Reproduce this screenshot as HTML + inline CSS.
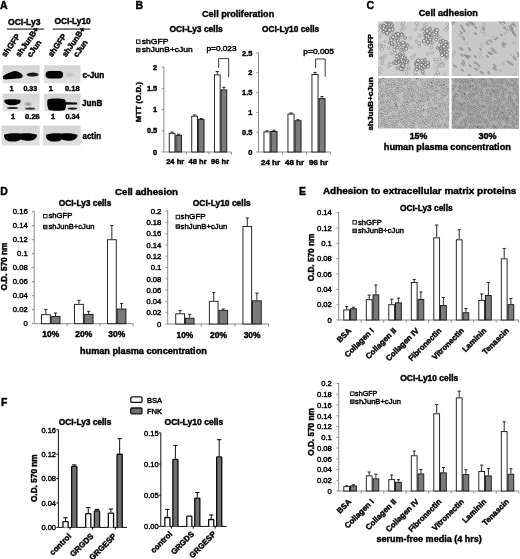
<!DOCTYPE html>
<html><head><meta charset="utf-8"><style>
html,body{margin:0;padding:0;background:#fff;}
svg{display:block;font-family:"Liberation Sans", sans-serif;filter:grayscale(1) blur(0.25px);}
text{stroke:#000;stroke-width:0.42px;}
</style></head><body>
<svg width="520" height="559" viewBox="0 0 520 559">
<rect width="520" height="559" fill="#fff"/>
<text x="0" y="9" font-size="10.5" font-weight="bold" text-anchor="start" fill="#000">A</text>
<text x="135.5" y="9" font-size="10.5" font-weight="bold" text-anchor="start" fill="#000">B</text>
<text x="366.5" y="8.7" font-size="10.5" font-weight="bold" text-anchor="start" fill="#000">C</text>
<text x="0.3" y="195" font-size="10.5" font-weight="bold" text-anchor="start" fill="#000">D</text>
<text x="299" y="195.2" font-size="10.5" font-weight="bold" text-anchor="start" fill="#000">E</text>
<text x="1" y="405.6" font-size="10.5" font-weight="bold" text-anchor="start" fill="#000">F</text>
<text x="8" y="24.5" font-size="8.3" font-weight="bold" text-anchor="start" fill="#000" textLength="32.4" lengthAdjust="spacingAndGlyphs">OCI-Ly3</text>
<text x="54.4" y="24.0" font-size="8.3" font-weight="bold" text-anchor="start" fill="#000" textLength="36.3" lengthAdjust="spacingAndGlyphs">OCI-Ly10</text>
<line x1="7" y1="29.1" x2="44" y2="29.1" stroke="#6e6e6e" stroke-width="1.7"/>
<line x1="52.7" y1="29.1" x2="90.2" y2="29.1" stroke="#6e6e6e" stroke-width="1.7"/>
<text transform="translate(5.6 57.6) rotate(-55)" font-size="8.1" font-weight="bold" text-anchor="start" fill="#000">shGFP</text>
<text transform="translate(19.6 57.6) rotate(-55)" font-size="8.1" font-weight="bold" text-anchor="start" fill="#000">shJunB+</text>
<text transform="translate(31.0 57.8) rotate(-55)" font-size="8.1" font-weight="bold" text-anchor="start" fill="#000">cJun</text>
<text transform="translate(51.9 57.6) rotate(-55)" font-size="8.1" font-weight="bold" text-anchor="start" fill="#000">shGFP</text>
<text transform="translate(65.9 57.6) rotate(-55)" font-size="8.1" font-weight="bold" text-anchor="start" fill="#000">shJunB+</text>
<text transform="translate(77.3 57.8) rotate(-55)" font-size="8.1" font-weight="bold" text-anchor="start" fill="#000">cJun</text>
<defs><filter id="bl" x="-30%" y="-60%" width="160%" height="220%"><feGaussianBlur stdDeviation="0.7"/></filter><filter id="bl2" x="-30%" y="-60%" width="160%" height="220%"><feGaussianBlur stdDeviation="1.1"/></filter><filter id="bl3" x="-10%" y="-10%" width="120%" height="120%"><feGaussianBlur stdDeviation="0.5"/></filter></defs>
<defs><linearGradient id="bg" x1="0" y1="0" x2="0" y2="1"><stop offset="0" stop-color="#d4d4d4"/><stop offset="1" stop-color="#e0e0e0"/></linearGradient></defs>
<rect x="2.6" y="65.3" width="37.0" height="18" fill="url(#bg)" stroke="none" stroke-width="1" filter="url(#bl3)"/>
<rect x="2.6" y="93.7" width="37.0" height="17.6" fill="url(#bg)" stroke="none" stroke-width="1" filter="url(#bl3)"/>
<rect x="1.6" y="125.6" width="38.0" height="20" fill="url(#bg)" stroke="none" stroke-width="1" filter="url(#bl3)"/>
<rect x="44.2" y="65.3" width="36.39999999999999" height="18" fill="url(#bg)" stroke="none" stroke-width="1" filter="url(#bl3)"/>
<rect x="44.2" y="93.7" width="36.39999999999999" height="17.6" fill="url(#bg)" stroke="none" stroke-width="1" filter="url(#bl3)"/>
<rect x="43.2" y="125.6" width="37.39999999999999" height="20" fill="url(#bg)" stroke="none" stroke-width="1" filter="url(#bl3)"/>
<path d="M2.8 77.8 C2.8 75.8 5 74.5 8 73.3 C11 72 13 71 15 71 C17 71 19 72 21.2 73.6 L22.7 75.3 C23 77.6 21 78.3 18 78.6 L8 79.3 C4.5 79.6 2.8 79.2 2.8 77.8Z" fill="#060606" filter="url(#bl)"/>
<path d="M26.4 74.8 C27.5 73 31 72.4 33 72.5 C36 72.6 38.5 73.6 38.6 74.6 C38.5 75.8 36 76.5 33 76.6 C30 76.6 27 76.2 26.4 74.8Z" fill="#141414" filter="url(#bl)"/>
<rect x="45.6" y="71" width="17.6" height="7.5" rx="4.2" ry="3.75" fill="#060606" filter="url(#bl)"/>
<ellipse cx="69.5" cy="74.8" rx="4.5" ry="1.3" fill="#b4b4b4" filter="url(#bl2)"/>
<path d="M4.2 100.4 C5.5 99 18 99 20.8 100.4 C21 103.5 17 105.2 12 105.2 C7.5 105.2 4.5 103.5 4.2 100.4Z" fill="#060606" filter="url(#bl)"/>
<ellipse cx="12.6" cy="108" rx="5.6" ry="1.1" fill="#222" filter="url(#bl)"/>
<ellipse cx="28" cy="104" rx="3" ry="0.9" fill="#5a5a5a" filter="url(#bl2)"/>
<ellipse cx="30.2" cy="108.6" rx="5.2" ry="1.2" fill="#383838" filter="url(#bl)"/>
<path d="M47.5 100 C49 98.2 62 98.2 64.8 99.6 C66.5 102 66.3 108.5 64.5 110.2 C60 111 52 111 48.8 110 C47 107 47 103 47.5 100Z" fill="#050505" filter="url(#bl)"/>
<path d="M64 102 L77 102.4 L77.2 104.4 L64 104.8Z" fill="#111" filter="url(#bl)"/>
<ellipse cx="72.5" cy="108.6" rx="4.8" ry="1.1" fill="#181818" filter="url(#bl)"/>
<path d="M4 135 C6 133 17.5 133 20.5 133.6 C23.5 133 35 133 37 135 C37 139 33 140.5 28.75 140.8 C22.5 140.8 20.5 139.5 20.5 139 C20.5 140.5 17.5 141.6 12.25 141.6 C7 141.4 4 140 4 135Z" fill="#050505" filter="url(#bl)"/>
<path d="M46 135 C48 133 58.75 133 61.75 133.6 C64.75 133 75.5 133 77.5 135 C77.5 139 73.5 140.5 69.625 140.8 C63.75 140.8 61.75 139.5 61.75 139 C61.75 140.5 58.75 141.6 53.875 141.6 C49 141.4 46 140 46 135Z" fill="#050505" filter="url(#bl)"/>
<text x="82.4" y="78" font-size="8.6" font-weight="bold" text-anchor="start" fill="#000" textLength="22" lengthAdjust="spacingAndGlyphs">c-Jun</text>
<text x="82" y="105.8" font-size="8.6" font-weight="bold" text-anchor="start" fill="#000" textLength="20.3" lengthAdjust="spacingAndGlyphs">JunB</text>
<text x="82.5" y="138.8" font-size="8.6" font-weight="bold" text-anchor="start" fill="#000" textLength="18.5" lengthAdjust="spacingAndGlyphs">actin</text>
<text x="13.5" y="91.1" font-size="7.4" font-weight="bold" text-anchor="end" fill="#000">1</text>
<text x="23.4" y="91.1" font-size="7.4" font-weight="bold" text-anchor="start" fill="#000" textLength="13.8" lengthAdjust="spacingAndGlyphs">0.33</text>
<text x="52.8" y="91.1" font-size="7.4" font-weight="bold" text-anchor="end" fill="#000">1</text>
<text x="64.9" y="91.1" font-size="7.4" font-weight="bold" text-anchor="start" fill="#000" textLength="14.7" lengthAdjust="spacingAndGlyphs">0.18</text>
<text x="15.2" y="118.8" font-size="7.4" font-weight="bold" text-anchor="end" fill="#000">1</text>
<text x="25.1" y="118.8" font-size="7.4" font-weight="bold" text-anchor="start" fill="#000" textLength="14.7" lengthAdjust="spacingAndGlyphs">0.26</text>
<text x="55" y="118.8" font-size="7.4" font-weight="bold" text-anchor="end" fill="#000">1</text>
<text x="65.4" y="118.8" font-size="7.4" font-weight="bold" text-anchor="start" fill="#000" textLength="14.2" lengthAdjust="spacingAndGlyphs">0.34</text>
<text x="202" y="17.3" font-size="9.1" font-weight="bold" text-anchor="start" fill="#000" textLength="72.2" lengthAdjust="spacingAndGlyphs">Cell proliferation</text>
<text x="169.5" y="31.6" font-size="8.3" font-weight="bold" text-anchor="start" fill="#000" textLength="53.2" lengthAdjust="spacingAndGlyphs">OCI-Ly3 cells</text>
<text x="262" y="31.5" font-size="8.3" font-weight="bold" text-anchor="start" fill="#000" textLength="57.2" lengthAdjust="spacingAndGlyphs">OCI-Ly10 cells</text>
<rect x="136.5" y="39.9" width="3.5" height="3.5" fill="#fff" stroke="#1a1a1a" stroke-width="1.0"/>
<rect x="136.5" y="48.3" width="3.5" height="3.5" fill="#7a7a7a" stroke="#1a1a1a" stroke-width="1.0"/>
<text x="141.8" y="43.9" font-size="7.9" font-weight="normal" text-anchor="start" fill="#000" textLength="26.7" lengthAdjust="spacingAndGlyphs">shGFP</text>
<text x="141.8" y="52.3" font-size="7.9" font-weight="normal" text-anchor="start" fill="#000" textLength="50.8" lengthAdjust="spacingAndGlyphs">shJunB+cJun</text>
<text transform="translate(140.9 102.1) rotate(-90)" font-size="8" font-weight="bold" text-anchor="middle" fill="#000" textLength="40.2" lengthAdjust="spacingAndGlyphs">MTT (O.D.)</text>
<line x1="163.9" y1="66.7" x2="163.9" y2="152" stroke="#8a8a8a" stroke-width="1"/>
<line x1="161.70000000000002" y1="152.0" x2="163.9" y2="152.0" stroke="#8a8a8a" stroke-width="1"/>
<text x="157.2" y="154.66" font-size="7.4" font-weight="bold" text-anchor="end" fill="#000">0</text>
<line x1="161.70000000000002" y1="130.8" x2="163.9" y2="130.8" stroke="#8a8a8a" stroke-width="1"/>
<text x="157.2" y="133.46" font-size="7.4" font-weight="bold" text-anchor="end" fill="#000">0.5</text>
<line x1="161.70000000000002" y1="109.6" x2="163.9" y2="109.6" stroke="#8a8a8a" stroke-width="1"/>
<text x="157.2" y="112.26" font-size="7.4" font-weight="bold" text-anchor="end" fill="#000">1</text>
<line x1="161.70000000000002" y1="88.4" x2="163.9" y2="88.4" stroke="#8a8a8a" stroke-width="1"/>
<text x="157.2" y="91.06" font-size="7.4" font-weight="bold" text-anchor="end" fill="#000">1.5</text>
<line x1="161.70000000000002" y1="67.2" x2="163.9" y2="67.2" stroke="#8a8a8a" stroke-width="1"/>
<text x="157.2" y="69.86" font-size="7.4" font-weight="bold" text-anchor="end" fill="#000">2</text>
<line x1="163.9" y1="152" x2="231.3" y2="152" stroke="#8a8a8a" stroke-width="1"/>
<line x1="186.4" y1="152" x2="186.4" y2="154.5" stroke="#8a8a8a" stroke-width="1"/>
<line x1="208.9" y1="152" x2="208.9" y2="154.5" stroke="#8a8a8a" stroke-width="1"/>
<line x1="231.4" y1="152" x2="231.4" y2="154.5" stroke="#8a8a8a" stroke-width="1"/>
<line x1="172.10000000000002" y1="132.92000000000002" x2="172.10000000000002" y2="132.072" stroke="#111" stroke-width="0.9"/>
<line x1="170.50000000000003" y1="132.072" x2="173.70000000000002" y2="132.072" stroke="#111" stroke-width="0.9"/>
<rect x="169.25" y="133.37" width="5.7" height="18.63" fill="#fff" stroke="#111" stroke-width="0.9"/>
<line x1="178.7" y1="134.828" x2="178.7" y2="134.192" stroke="#111" stroke-width="0.9"/>
<line x1="177.1" y1="134.192" x2="180.29999999999998" y2="134.192" stroke="#111" stroke-width="0.9"/>
<rect x="175.85" y="135.28" width="5.7" height="16.72" fill="#7a7a7a" stroke="#111" stroke-width="0.9"/>
<line x1="194.60000000000002" y1="115.748" x2="194.60000000000002" y2="114.9" stroke="#111" stroke-width="0.9"/>
<line x1="193.00000000000003" y1="114.9" x2="196.20000000000002" y2="114.9" stroke="#111" stroke-width="0.9"/>
<rect x="191.75" y="116.2" width="5.7" height="35.8" fill="#fff" stroke="#111" stroke-width="0.9"/>
<line x1="201.2" y1="119.14" x2="201.2" y2="118.50399999999999" stroke="#111" stroke-width="0.9"/>
<line x1="199.6" y1="118.50399999999999" x2="202.79999999999998" y2="118.50399999999999" stroke="#111" stroke-width="0.9"/>
<rect x="198.35" y="119.59" width="5.7" height="32.41" fill="#7a7a7a" stroke="#111" stroke-width="0.9"/>
<line x1="217.3" y1="74.408" x2="217.3" y2="71.44000000000001" stroke="#111" stroke-width="0.9"/>
<line x1="215.70000000000002" y1="71.44000000000001" x2="218.9" y2="71.44000000000001" stroke="#111" stroke-width="0.9"/>
<rect x="214.45" y="74.86" width="5.7" height="77.14" fill="#fff" stroke="#111" stroke-width="0.9"/>
<line x1="223.89999999999998" y1="89.46000000000001" x2="223.89999999999998" y2="87.34" stroke="#111" stroke-width="0.9"/>
<line x1="222.29999999999998" y1="87.34" x2="225.49999999999997" y2="87.34" stroke="#111" stroke-width="0.9"/>
<rect x="221.05" y="89.91" width="5.7" height="62.09" fill="#7a7a7a" stroke="#111" stroke-width="0.9"/>
<text x="175.2" y="163.8" font-size="7.6" font-weight="bold" text-anchor="middle" fill="#000" textLength="18" lengthAdjust="spacingAndGlyphs">24 hr</text>
<text x="197.6" y="163.8" font-size="7.6" font-weight="bold" text-anchor="middle" fill="#000" textLength="18" lengthAdjust="spacingAndGlyphs">48 hr</text>
<text x="220.1" y="163.8" font-size="7.6" font-weight="bold" text-anchor="middle" fill="#000" textLength="18" lengthAdjust="spacingAndGlyphs">96 hr</text>
<text x="206.5" y="51.2" font-size="7.6" font-weight="normal" text-anchor="start" fill="#000" textLength="30" lengthAdjust="spacingAndGlyphs">p=0.023</text>
<path d="M218.6 67.9 V58.6 H228.7 V77.1" fill="none" stroke="#222" stroke-width="0.9"/>
<line x1="258.5" y1="52.5" x2="258.5" y2="152" stroke="#8a8a8a" stroke-width="1"/>
<line x1="256.3" y1="152.0" x2="258.5" y2="152.0" stroke="#8a8a8a" stroke-width="1"/>
<text x="252.4" y="154.66" font-size="7.4" font-weight="bold" text-anchor="end" fill="#000">0</text>
<line x1="256.3" y1="132.2" x2="258.5" y2="132.2" stroke="#8a8a8a" stroke-width="1"/>
<text x="252.4" y="134.86" font-size="7.4" font-weight="bold" text-anchor="end" fill="#000">0.5</text>
<line x1="256.3" y1="112.4" x2="258.5" y2="112.4" stroke="#8a8a8a" stroke-width="1"/>
<text x="252.4" y="115.06" font-size="7.4" font-weight="bold" text-anchor="end" fill="#000">1</text>
<line x1="256.3" y1="92.6" x2="258.5" y2="92.6" stroke="#8a8a8a" stroke-width="1"/>
<text x="252.4" y="95.26" font-size="7.4" font-weight="bold" text-anchor="end" fill="#000">1.5</text>
<line x1="256.3" y1="72.8" x2="258.5" y2="72.8" stroke="#8a8a8a" stroke-width="1"/>
<text x="252.4" y="75.46" font-size="7.4" font-weight="bold" text-anchor="end" fill="#000">2</text>
<line x1="256.3" y1="53.0" x2="258.5" y2="53.0" stroke="#8a8a8a" stroke-width="1"/>
<text x="252.4" y="55.66" font-size="7.4" font-weight="bold" text-anchor="end" fill="#000">2.5</text>
<line x1="258.5" y1="152" x2="330.5" y2="152" stroke="#8a8a8a" stroke-width="1"/>
<line x1="282.5" y1="152" x2="282.5" y2="154.5" stroke="#8a8a8a" stroke-width="1"/>
<line x1="306.5" y1="152" x2="306.5" y2="154.5" stroke="#8a8a8a" stroke-width="1"/>
<line x1="330.5" y1="152" x2="330.5" y2="154.5" stroke="#8a8a8a" stroke-width="1"/>
<line x1="267.0" y1="131.408" x2="267.0" y2="130.814" stroke="#111" stroke-width="0.9"/>
<line x1="265.4" y1="130.814" x2="268.6" y2="130.814" stroke="#111" stroke-width="0.9"/>
<rect x="263.95" y="131.86" width="6.1" height="20.14" fill="#fff" stroke="#111" stroke-width="0.9"/>
<line x1="274.0" y1="131.012" x2="274.0" y2="130.22" stroke="#111" stroke-width="0.9"/>
<line x1="272.4" y1="130.22" x2="275.6" y2="130.22" stroke="#111" stroke-width="0.9"/>
<rect x="270.95" y="131.46" width="6.1" height="20.54" fill="#7a7a7a" stroke="#111" stroke-width="0.9"/>
<line x1="291.0" y1="113.588" x2="291.0" y2="112.994" stroke="#111" stroke-width="0.9"/>
<line x1="289.4" y1="112.994" x2="292.6" y2="112.994" stroke="#111" stroke-width="0.9"/>
<rect x="287.95" y="114.04" width="6.1" height="37.96" fill="#fff" stroke="#111" stroke-width="0.9"/>
<line x1="298.0" y1="120.32" x2="298.0" y2="119.726" stroke="#111" stroke-width="0.9"/>
<line x1="296.4" y1="119.726" x2="299.6" y2="119.726" stroke="#111" stroke-width="0.9"/>
<rect x="294.95" y="120.77" width="6.1" height="31.23" fill="#7a7a7a" stroke="#111" stroke-width="0.9"/>
<line x1="315.0" y1="73.988" x2="315.0" y2="72.40400000000001" stroke="#111" stroke-width="0.9"/>
<line x1="313.4" y1="72.40400000000001" x2="316.6" y2="72.40400000000001" stroke="#111" stroke-width="0.9"/>
<rect x="311.95" y="74.44" width="6.1" height="77.56" fill="#fff" stroke="#111" stroke-width="0.9"/>
<line x1="322.0" y1="98.14399999999999" x2="322.0" y2="96.56" stroke="#111" stroke-width="0.9"/>
<line x1="320.4" y1="96.56" x2="323.6" y2="96.56" stroke="#111" stroke-width="0.9"/>
<rect x="318.95" y="98.59" width="6.1" height="53.41" fill="#7a7a7a" stroke="#111" stroke-width="0.9"/>
<text x="270.5" y="164.6" font-size="7.6" font-weight="bold" text-anchor="middle" fill="#000" textLength="19" lengthAdjust="spacingAndGlyphs">24 hr</text>
<text x="294.5" y="164.6" font-size="7.6" font-weight="bold" text-anchor="middle" fill="#000" textLength="19" lengthAdjust="spacingAndGlyphs">48 hr</text>
<text x="318.5" y="164.6" font-size="7.6" font-weight="bold" text-anchor="middle" fill="#000" textLength="19" lengthAdjust="spacingAndGlyphs">96 hr</text>
<text x="303.3" y="54.3" font-size="7.6" font-weight="normal" text-anchor="start" fill="#000" textLength="30.7" lengthAdjust="spacingAndGlyphs">p=0.005</text>
<path d="M315.6 67.9 V59 H325.2 V76.8" fill="none" stroke="#222" stroke-width="0.9"/>
<text x="418.8" y="16.2" font-size="9.1" font-weight="bold" text-anchor="start" fill="#000" textLength="59.1" lengthAdjust="spacingAndGlyphs">Cell adhesion</text>
<text transform="translate(373.4 45.8) rotate(-90)" font-size="8" font-weight="bold" text-anchor="middle" fill="#000" textLength="23.5" lengthAdjust="spacingAndGlyphs">shGFP</text>
<text transform="translate(373.2 103.9) rotate(-90)" font-size="8" font-weight="bold" text-anchor="middle" fill="#000" textLength="53" lengthAdjust="spacingAndGlyphs">shJunB+cJun</text>
<text x="418.5" y="139.2" font-size="8.8" font-weight="bold" text-anchor="middle" fill="#000" textLength="17.7" lengthAdjust="spacingAndGlyphs">15%</text>
<text x="487.6" y="139.2" font-size="8.8" font-weight="bold" text-anchor="middle" fill="#000" textLength="18.1" lengthAdjust="spacingAndGlyphs">30%</text>
<text x="383.8" y="150.2" font-size="9.1" font-weight="bold" text-anchor="start" fill="#000" textLength="127" lengthAdjust="spacingAndGlyphs">human plasma concentration</text>
<defs><filter id="mb" x="0" y="0" width="100%" height="100%"><feGaussianBlur stdDeviation="0.35"/></filter></defs>
<g><rect x="378" y="21.5" width="71.19999999999999" height="54.5" fill="#cfcfcf"/>
<clipPath id="c37821120"><rect x="378" y="21.5" width="71.19999999999999" height="54.5"/></clipPath><g clip-path="url(#c37821120)"><g filter="url(#mb)">
<circle cx="401.1" cy="29.7" r="1.2" fill="#d8d8d8" stroke="#868686" stroke-width="0.55"/>
<circle cx="424.3" cy="25.4" r="1.3" fill="#d8d8d8" stroke="#868686" stroke-width="0.55"/>
<circle cx="416.2" cy="41.4" r="1.2" fill="#d8d8d8" stroke="#868686" stroke-width="0.55"/>
<circle cx="382.1" cy="49.2" r="1.6" fill="#d8d8d8" stroke="#868686" stroke-width="0.55"/>
<circle cx="380.7" cy="45.1" r="1.3" fill="#d8d8d8" stroke="#868686" stroke-width="0.55"/>
<circle cx="383.0" cy="26.4" r="1.3" fill="#d8d8d8" stroke="#868686" stroke-width="0.55"/>
<circle cx="408.2" cy="66.6" r="1.4" fill="#d8d8d8" stroke="#868686" stroke-width="0.55"/>
<circle cx="386.8" cy="33.7" r="1.6" fill="#d8d8d8" stroke="#868686" stroke-width="0.55"/>
<circle cx="422.7" cy="73.2" r="1.3" fill="#d8d8d8" stroke="#868686" stroke-width="0.55"/>
<circle cx="419.1" cy="43.1" r="1.6" fill="#d8d8d8" stroke="#868686" stroke-width="0.55"/>
<circle cx="447.5" cy="24.0" r="1.4" fill="#d8d8d8" stroke="#868686" stroke-width="0.55"/>
<circle cx="439.1" cy="37.3" r="1.4" fill="#d8d8d8" stroke="#868686" stroke-width="0.55"/>
<circle cx="388.3" cy="27.9" r="1.4" fill="#d8d8d8" stroke="#868686" stroke-width="0.55"/>
<circle cx="400.0" cy="66.0" r="1.1" fill="#d8d8d8" stroke="#868686" stroke-width="0.55"/>
<circle cx="390.9" cy="53.2" r="1.3" fill="#d8d8d8" stroke="#868686" stroke-width="0.55"/>
<circle cx="423.5" cy="41.8" r="1.2" fill="#d8d8d8" stroke="#868686" stroke-width="0.55"/>
<circle cx="417.0" cy="24.9" r="1.1" fill="#d8d8d8" stroke="#868686" stroke-width="0.55"/>
<circle cx="382.2" cy="32.7" r="1.5" fill="#d8d8d8" stroke="#868686" stroke-width="0.55"/>
<circle cx="426.4" cy="44.8" r="1.2" fill="#d8d8d8" stroke="#868686" stroke-width="0.55"/>
<circle cx="400.4" cy="53.4" r="1.3" fill="#d8d8d8" stroke="#868686" stroke-width="0.55"/>
<circle cx="410.3" cy="37.8" r="1.5" fill="#d8d8d8" stroke="#868686" stroke-width="0.55"/>
<circle cx="434.6" cy="59.6" r="1.4" fill="#d8d8d8" stroke="#868686" stroke-width="0.55"/>
<circle cx="395.4" cy="52.8" r="1.3" fill="#d8d8d8" stroke="#868686" stroke-width="0.55"/>
<circle cx="415.4" cy="69.2" r="1.4" fill="#d8d8d8" stroke="#868686" stroke-width="0.55"/>
<circle cx="429.9" cy="37.2" r="1.4" fill="#d8d8d8" stroke="#868686" stroke-width="0.55"/>
<circle cx="447.8" cy="27.9" r="1.5" fill="#d8d8d8" stroke="#868686" stroke-width="0.55"/>
<circle cx="407.8" cy="62.8" r="1.2" fill="#d8d8d8" stroke="#868686" stroke-width="0.55"/>
<circle cx="388.8" cy="48.1" r="1.4" fill="#d8d8d8" stroke="#868686" stroke-width="0.55"/>
<circle cx="380.8" cy="57.9" r="1.2" fill="#d8d8d8" stroke="#868686" stroke-width="0.55"/>
<circle cx="432.4" cy="52.7" r="1.2" fill="#d8d8d8" stroke="#868686" stroke-width="0.55"/>
<circle cx="440.3" cy="38.6" r="1.5" fill="#d8d8d8" stroke="#868686" stroke-width="0.55"/>
<circle cx="427.5" cy="53.9" r="1.4" fill="#d8d8d8" stroke="#868686" stroke-width="0.55"/>
<circle cx="419.3" cy="46.4" r="1.4" fill="#d8d8d8" stroke="#868686" stroke-width="0.55"/>
<circle cx="437.8" cy="73.0" r="1.5" fill="#d8d8d8" stroke="#868686" stroke-width="0.55"/>
<circle cx="411.8" cy="57.7" r="1.6" fill="#d8d8d8" stroke="#868686" stroke-width="0.55"/>
<circle cx="382.3" cy="59.7" r="1.3" fill="#d8d8d8" stroke="#868686" stroke-width="0.55"/>
<circle cx="424.1" cy="75.6" r="1.4" fill="#d8d8d8" stroke="#868686" stroke-width="0.55"/>
<circle cx="436.5" cy="37.0" r="1.4" fill="#d8d8d8" stroke="#868686" stroke-width="0.55"/>
<circle cx="405.5" cy="57.9" r="1.4" fill="#d8d8d8" stroke="#868686" stroke-width="0.55"/>
<circle cx="379.6" cy="46.7" r="1.4" fill="#d8d8d8" stroke="#868686" stroke-width="0.55"/>
<circle cx="390.0" cy="27.9" r="1.3" fill="#d8d8d8" stroke="#868686" stroke-width="0.55"/>
<circle cx="382.2" cy="63.4" r="1.4" fill="#d8d8d8" stroke="#868686" stroke-width="0.55"/>
<circle cx="387.2" cy="35.0" r="1.3" fill="#d8d8d8" stroke="#868686" stroke-width="0.55"/>
<circle cx="405.8" cy="69.0" r="1.6" fill="#d8d8d8" stroke="#868686" stroke-width="0.55"/>
<circle cx="383.7" cy="46.0" r="1.4" fill="#d8d8d8" stroke="#868686" stroke-width="0.55"/>
<circle cx="417.1" cy="69.6" r="1.5" fill="#d8d8d8" stroke="#868686" stroke-width="0.55"/>
<circle cx="436.3" cy="68.6" r="1.6" fill="#d8d8d8" stroke="#868686" stroke-width="0.55"/>
<circle cx="397.8" cy="44.1" r="1.2" fill="#d8d8d8" stroke="#868686" stroke-width="0.55"/>
<circle cx="403.5" cy="69.7" r="1.4" fill="#d8d8d8" stroke="#868686" stroke-width="0.55"/>
<circle cx="446.2" cy="29.7" r="1.6" fill="#d8d8d8" stroke="#868686" stroke-width="0.55"/>
<circle cx="390.5" cy="34.1" r="1.5" fill="#d8d8d8" stroke="#868686" stroke-width="0.55"/>
<circle cx="394.6" cy="47.9" r="1.2" fill="#d8d8d8" stroke="#868686" stroke-width="0.55"/>
<circle cx="419.9" cy="35.8" r="1.2" fill="#d8d8d8" stroke="#868686" stroke-width="0.55"/>
<circle cx="378.3" cy="44.3" r="1.3" fill="#d8d8d8" stroke="#868686" stroke-width="0.55"/>
<circle cx="404.3" cy="52.4" r="1.1" fill="#d8d8d8" stroke="#868686" stroke-width="0.55"/>
<circle cx="445.9" cy="59.1" r="1.2" fill="#d8d8d8" stroke="#868686" stroke-width="0.55"/>
<circle cx="414.7" cy="55.2" r="1.1" fill="#d8d8d8" stroke="#868686" stroke-width="0.55"/>
<circle cx="426.1" cy="24.4" r="1.4" fill="#d8d8d8" stroke="#868686" stroke-width="0.55"/>
<circle cx="442.0" cy="64.0" r="1.5" fill="#d8d8d8" stroke="#868686" stroke-width="0.55"/>
<circle cx="440.3" cy="65.0" r="1.5" fill="#d8d8d8" stroke="#868686" stroke-width="0.55"/>
<circle cx="405.9" cy="43.2" r="1.2" fill="#d8d8d8" stroke="#868686" stroke-width="0.55"/>
<circle cx="385.4" cy="56.1" r="1.5" fill="#d8d8d8" stroke="#868686" stroke-width="0.55"/>
<circle cx="382.4" cy="25.2" r="1.4" fill="#d8d8d8" stroke="#868686" stroke-width="0.55"/>
<circle cx="392.9" cy="30.3" r="1.2" fill="#d8d8d8" stroke="#868686" stroke-width="0.55"/>
<circle cx="402.2" cy="24.4" r="1.5" fill="#d8d8d8" stroke="#868686" stroke-width="0.55"/>
<circle cx="378.0" cy="29.7" r="1.6" fill="#d8d8d8" stroke="#868686" stroke-width="0.55"/>
<circle cx="385.2" cy="41.3" r="1.2" fill="#d8d8d8" stroke="#868686" stroke-width="0.55"/>
<circle cx="379.8" cy="69.2" r="1.6" fill="#d8d8d8" stroke="#868686" stroke-width="0.55"/>
<circle cx="421.7" cy="29.6" r="1.3" fill="#d8d8d8" stroke="#868686" stroke-width="0.55"/>
<circle cx="396.0" cy="40.4" r="1.3" fill="#d8d8d8" stroke="#868686" stroke-width="0.55"/>
<circle cx="403.9" cy="28.2" r="1.6" fill="#d8d8d8" stroke="#868686" stroke-width="0.55"/>
<circle cx="438.4" cy="75.6" r="1.5" fill="#d8d8d8" stroke="#868686" stroke-width="0.55"/>
<circle cx="411.2" cy="47.9" r="1.2" fill="#d8d8d8" stroke="#868686" stroke-width="0.55"/>
<circle cx="384.1" cy="27.1" r="1.3" fill="#d8d8d8" stroke="#868686" stroke-width="0.55"/>
<circle cx="402.4" cy="35.9" r="1.4" fill="#d8d8d8" stroke="#868686" stroke-width="0.55"/>
<circle cx="437.0" cy="30.3" r="1.3" fill="#d8d8d8" stroke="#868686" stroke-width="0.55"/>
<circle cx="379.6" cy="73.3" r="1.2" fill="#d8d8d8" stroke="#868686" stroke-width="0.55"/>
<circle cx="415.6" cy="29.5" r="1.3" fill="#d8d8d8" stroke="#868686" stroke-width="0.55"/>
<circle cx="416.7" cy="23.0" r="1.5" fill="#d8d8d8" stroke="#868686" stroke-width="0.55"/>
<circle cx="415.6" cy="74.8" r="1.1" fill="#d8d8d8" stroke="#868686" stroke-width="0.55"/>
<circle cx="439.5" cy="59.4" r="1.4" fill="#d8d8d8" stroke="#868686" stroke-width="0.55"/>
<circle cx="396.6" cy="41.5" r="1.3" fill="#d8d8d8" stroke="#868686" stroke-width="0.55"/>
<circle cx="389.9" cy="63.6" r="1.1" fill="#d8d8d8" stroke="#868686" stroke-width="0.55"/>
<circle cx="415.9" cy="64.0" r="1.3" fill="#d8d8d8" stroke="#868686" stroke-width="0.55"/>
<circle cx="401.5" cy="33.7" r="1.4" fill="#d8d8d8" stroke="#868686" stroke-width="0.55"/>
<circle cx="435.8" cy="75.2" r="1.4" fill="#d8d8d8" stroke="#868686" stroke-width="0.55"/>
<circle cx="438.7" cy="65.4" r="1.1" fill="#d8d8d8" stroke="#868686" stroke-width="0.55"/>
<circle cx="436.3" cy="61.8" r="1.6" fill="#d8d8d8" stroke="#868686" stroke-width="0.55"/>
<circle cx="394.1" cy="49.7" r="1.5" fill="#d8d8d8" stroke="#868686" stroke-width="0.55"/>
<circle cx="403.3" cy="23.1" r="1.6" fill="#d8d8d8" stroke="#868686" stroke-width="0.55"/>
<circle cx="380.0" cy="36.7" r="1.2" fill="#d8d8d8" stroke="#868686" stroke-width="0.55"/>
<circle cx="396.5" cy="59.2" r="1.2" fill="#d8d8d8" stroke="#868686" stroke-width="0.55"/>
<circle cx="446.1" cy="45.9" r="1.1" fill="#d8d8d8" stroke="#868686" stroke-width="0.55"/>
<circle cx="444.7" cy="75.3" r="1.5" fill="#d8d8d8" stroke="#868686" stroke-width="0.55"/>
<circle cx="446.0" cy="41.4" r="1.2" fill="#d8d8d8" stroke="#868686" stroke-width="0.55"/>
<circle cx="393.7" cy="33.9" r="1.2" fill="#d8d8d8" stroke="#868686" stroke-width="0.55"/>
<circle cx="392.0" cy="32.6" r="1.3" fill="#d8d8d8" stroke="#868686" stroke-width="0.55"/>
<circle cx="422.4" cy="70.6" r="1.6" fill="#d8d8d8" stroke="#868686" stroke-width="0.55"/>
<circle cx="437.8" cy="47.6" r="1.5" fill="#d8d8d8" stroke="#868686" stroke-width="0.55"/>
<circle cx="424.5" cy="65.1" r="1.2" fill="#d8d8d8" stroke="#868686" stroke-width="0.55"/>
<circle cx="384.0" cy="57.5" r="1.2" fill="#d8d8d8" stroke="#868686" stroke-width="0.55"/>
<circle cx="442.8" cy="64.1" r="1.6" fill="#d8d8d8" stroke="#868686" stroke-width="0.55"/>
<circle cx="431.4" cy="47.6" r="1.4" fill="#d8d8d8" stroke="#868686" stroke-width="0.55"/>
<circle cx="390.7" cy="64.5" r="1.5" fill="#d8d8d8" stroke="#868686" stroke-width="0.55"/>
<circle cx="401.7" cy="65.1" r="1.1" fill="#d8d8d8" stroke="#868686" stroke-width="0.55"/>
<circle cx="447.2" cy="43.1" r="1.1" fill="#d8d8d8" stroke="#868686" stroke-width="0.55"/>
<circle cx="406.6" cy="73.1" r="1.4" fill="#d8d8d8" stroke="#868686" stroke-width="0.55"/>
<circle cx="429.6" cy="30.8" r="1.3" fill="#d8d8d8" stroke="#868686" stroke-width="0.55"/>
<circle cx="387.0" cy="29.7" r="1.1" fill="#d8d8d8" stroke="#868686" stroke-width="0.55"/>
<circle cx="442.4" cy="65.5" r="1.6" fill="#d8d8d8" stroke="#868686" stroke-width="0.55"/>
<circle cx="388.4" cy="66.5" r="1.4" fill="#d8d8d8" stroke="#868686" stroke-width="0.55"/>
<circle cx="447.8" cy="57.3" r="1.5" fill="#d8d8d8" stroke="#868686" stroke-width="0.55"/>
<circle cx="402.9" cy="51.4" r="1.1" fill="#d8d8d8" stroke="#868686" stroke-width="0.55"/>
<circle cx="387.3" cy="22.3" r="1.5" fill="#d8d8d8" stroke="#868686" stroke-width="0.55"/>
<circle cx="447.1" cy="56.9" r="1.1" fill="#d8d8d8" stroke="#868686" stroke-width="0.55"/>
<circle cx="415.5" cy="72.4" r="1.5" fill="#d8d8d8" stroke="#868686" stroke-width="0.55"/>
<circle cx="408.9" cy="69.0" r="1.3" fill="#d8d8d8" stroke="#868686" stroke-width="0.55"/>
<circle cx="436.8" cy="33.0" r="1.3" fill="#d8d8d8" stroke="#868686" stroke-width="0.55"/>
<circle cx="395.9" cy="37.5" r="1.4" fill="#d8d8d8" stroke="#868686" stroke-width="0.55"/>
<circle cx="395.1" cy="53.5" r="1.6" fill="#d8d8d8" stroke="#868686" stroke-width="0.55"/>
</g></g></g>
<g><rect x="378" y="21.5" width="71.19999999999999" height="54.5" fill="none"/>
<clipPath id="c378210"><rect x="378" y="21.5" width="71.19999999999999" height="54.5"/></clipPath><g clip-path="url(#c378210)"><g filter="url(#mb)">
<circle cx="386.7" cy="28.5" r="1.3" fill="#dcdcdc" stroke="#666666" stroke-width="0.7"/>
<circle cx="383.6" cy="25.4" r="1.2" fill="#dcdcdc" stroke="#666666" stroke-width="0.7"/>
<circle cx="389.2" cy="27.8" r="1.3" fill="#dcdcdc" stroke="#666666" stroke-width="0.7"/>
<circle cx="390.0" cy="27.0" r="1.4" fill="#dcdcdc" stroke="#666666" stroke-width="0.7"/>
<circle cx="385.5" cy="29.6" r="1.7" fill="#dcdcdc" stroke="#666666" stroke-width="0.7"/>
<circle cx="387.2" cy="22.2" r="1.3" fill="#dcdcdc" stroke="#666666" stroke-width="0.7"/>
<circle cx="384.0" cy="26.0" r="1.7" fill="#dcdcdc" stroke="#666666" stroke-width="0.7"/>
<circle cx="386.5" cy="26.8" r="1.3" fill="#dcdcdc" stroke="#666666" stroke-width="0.7"/>
<circle cx="387.0" cy="26.9" r="1.4" fill="#dcdcdc" stroke="#666666" stroke-width="0.7"/>
<circle cx="386.4" cy="20.8" r="1.6" fill="#dcdcdc" stroke="#666666" stroke-width="0.7"/>
<circle cx="388.8" cy="30.5" r="1.6" fill="#dcdcdc" stroke="#666666" stroke-width="0.7"/>
<circle cx="389.1" cy="25.1" r="1.4" fill="#dcdcdc" stroke="#666666" stroke-width="0.7"/>
<circle cx="388.9" cy="21.8" r="1.2" fill="#dcdcdc" stroke="#666666" stroke-width="0.7"/>
<circle cx="380.6" cy="26.2" r="1.4" fill="#dcdcdc" stroke="#666666" stroke-width="0.7"/>
<circle cx="383.1" cy="29.1" r="1.4" fill="#dcdcdc" stroke="#666666" stroke-width="0.7"/>
<circle cx="384.4" cy="19.6" r="1.7" fill="#dcdcdc" stroke="#666666" stroke-width="0.7"/>
<circle cx="383.5" cy="31.3" r="1.3" fill="#dcdcdc" stroke="#666666" stroke-width="0.7"/>
<circle cx="385.5" cy="20.6" r="1.4" fill="#dcdcdc" stroke="#666666" stroke-width="0.7"/>
<circle cx="383.6" cy="28.3" r="1.6" fill="#dcdcdc" stroke="#666666" stroke-width="0.7"/>
<circle cx="389.4" cy="26.8" r="1.2" fill="#dcdcdc" stroke="#666666" stroke-width="0.7"/>
<circle cx="392.4" cy="28.6" r="1.4" fill="#dcdcdc" stroke="#666666" stroke-width="0.7"/>
<circle cx="386.9" cy="28.8" r="1.6" fill="#dcdcdc" stroke="#666666" stroke-width="0.7"/>
<circle cx="392.5" cy="29.3" r="1.6" fill="#dcdcdc" stroke="#666666" stroke-width="0.7"/>
<circle cx="390.9" cy="21.8" r="1.2" fill="#dcdcdc" stroke="#666666" stroke-width="0.7"/>
<circle cx="386.3" cy="29.4" r="1.2" fill="#dcdcdc" stroke="#666666" stroke-width="0.7"/>
<circle cx="385.7" cy="30.6" r="1.2" fill="#dcdcdc" stroke="#666666" stroke-width="0.7"/>
<circle cx="389.6" cy="29.9" r="1.7" fill="#dcdcdc" stroke="#666666" stroke-width="0.7"/>
<circle cx="386.4" cy="32.8" r="1.3" fill="#dcdcdc" stroke="#666666" stroke-width="0.7"/>
<circle cx="392.1" cy="25.1" r="1.6" fill="#dcdcdc" stroke="#666666" stroke-width="0.7"/>
<circle cx="387.2" cy="32.9" r="1.6" fill="#dcdcdc" stroke="#666666" stroke-width="0.7"/>
<circle cx="385.5" cy="29.9" r="1.4" fill="#dcdcdc" stroke="#666666" stroke-width="0.7"/>
<circle cx="391.3" cy="26.0" r="1.3" fill="#dcdcdc" stroke="#666666" stroke-width="0.7"/>
<circle cx="392.0" cy="44.1" r="1.7" fill="#dcdcdc" stroke="#666666" stroke-width="0.7"/>
<circle cx="401.2" cy="49.8" r="1.5" fill="#dcdcdc" stroke="#666666" stroke-width="0.7"/>
<circle cx="404.1" cy="43.2" r="1.3" fill="#dcdcdc" stroke="#666666" stroke-width="0.7"/>
<circle cx="404.3" cy="46.4" r="1.6" fill="#dcdcdc" stroke="#666666" stroke-width="0.7"/>
<circle cx="400.4" cy="43.4" r="1.4" fill="#dcdcdc" stroke="#666666" stroke-width="0.7"/>
<circle cx="397.4" cy="47.5" r="1.3" fill="#dcdcdc" stroke="#666666" stroke-width="0.7"/>
<circle cx="392.8" cy="39.3" r="1.2" fill="#dcdcdc" stroke="#666666" stroke-width="0.7"/>
<circle cx="399.0" cy="34.9" r="1.6" fill="#dcdcdc" stroke="#666666" stroke-width="0.7"/>
<circle cx="397.0" cy="33.8" r="1.7" fill="#dcdcdc" stroke="#666666" stroke-width="0.7"/>
<circle cx="394.6" cy="46.7" r="1.5" fill="#dcdcdc" stroke="#666666" stroke-width="0.7"/>
<circle cx="402.8" cy="42.6" r="1.7" fill="#dcdcdc" stroke="#666666" stroke-width="0.7"/>
<circle cx="397.7" cy="35.1" r="1.2" fill="#dcdcdc" stroke="#666666" stroke-width="0.7"/>
<circle cx="407.8" cy="45.5" r="1.3" fill="#dcdcdc" stroke="#666666" stroke-width="0.7"/>
<circle cx="405.2" cy="38.0" r="1.4" fill="#dcdcdc" stroke="#666666" stroke-width="0.7"/>
<circle cx="398.1" cy="34.0" r="1.7" fill="#dcdcdc" stroke="#666666" stroke-width="0.7"/>
<circle cx="403.6" cy="48.6" r="1.7" fill="#dcdcdc" stroke="#666666" stroke-width="0.7"/>
<circle cx="389.9" cy="42.7" r="1.4" fill="#dcdcdc" stroke="#666666" stroke-width="0.7"/>
<circle cx="402.1" cy="34.4" r="1.3" fill="#dcdcdc" stroke="#666666" stroke-width="0.7"/>
<circle cx="390.8" cy="38.2" r="1.4" fill="#dcdcdc" stroke="#666666" stroke-width="0.7"/>
<circle cx="395.6" cy="35.4" r="1.4" fill="#dcdcdc" stroke="#666666" stroke-width="0.7"/>
<circle cx="399.2" cy="44.8" r="1.7" fill="#dcdcdc" stroke="#666666" stroke-width="0.7"/>
<circle cx="403.0" cy="47.5" r="1.3" fill="#dcdcdc" stroke="#666666" stroke-width="0.7"/>
<circle cx="406.2" cy="48.6" r="1.6" fill="#dcdcdc" stroke="#666666" stroke-width="0.7"/>
<circle cx="391.6" cy="40.2" r="1.6" fill="#dcdcdc" stroke="#666666" stroke-width="0.7"/>
<circle cx="393.2" cy="37.1" r="1.6" fill="#dcdcdc" stroke="#666666" stroke-width="0.7"/>
<circle cx="398.4" cy="43.0" r="1.6" fill="#dcdcdc" stroke="#666666" stroke-width="0.7"/>
<circle cx="401.6" cy="34.7" r="1.5" fill="#dcdcdc" stroke="#666666" stroke-width="0.7"/>
<circle cx="391.7" cy="42.9" r="1.4" fill="#dcdcdc" stroke="#666666" stroke-width="0.7"/>
<circle cx="397.6" cy="40.8" r="1.4" fill="#dcdcdc" stroke="#666666" stroke-width="0.7"/>
<circle cx="398.6" cy="38.0" r="1.4" fill="#dcdcdc" stroke="#666666" stroke-width="0.7"/>
<circle cx="403.6" cy="45.3" r="1.6" fill="#dcdcdc" stroke="#666666" stroke-width="0.7"/>
<circle cx="398.4" cy="38.5" r="1.2" fill="#dcdcdc" stroke="#666666" stroke-width="0.7"/>
<circle cx="399.5" cy="54.6" r="1.3" fill="#dcdcdc" stroke="#666666" stroke-width="0.7"/>
<circle cx="395.4" cy="62.2" r="1.6" fill="#dcdcdc" stroke="#666666" stroke-width="0.7"/>
<circle cx="393.9" cy="62.8" r="1.3" fill="#dcdcdc" stroke="#666666" stroke-width="0.7"/>
<circle cx="400.6" cy="56.1" r="1.2" fill="#dcdcdc" stroke="#666666" stroke-width="0.7"/>
<circle cx="398.7" cy="60.4" r="1.2" fill="#dcdcdc" stroke="#666666" stroke-width="0.7"/>
<circle cx="402.3" cy="65.0" r="1.5" fill="#dcdcdc" stroke="#666666" stroke-width="0.7"/>
<circle cx="399.8" cy="57.9" r="1.4" fill="#dcdcdc" stroke="#666666" stroke-width="0.7"/>
<circle cx="399.2" cy="61.7" r="1.7" fill="#dcdcdc" stroke="#666666" stroke-width="0.7"/>
<circle cx="403.6" cy="63.4" r="1.6" fill="#dcdcdc" stroke="#666666" stroke-width="0.7"/>
<circle cx="397.1" cy="56.5" r="1.7" fill="#dcdcdc" stroke="#666666" stroke-width="0.7"/>
<circle cx="398.2" cy="58.4" r="1.3" fill="#dcdcdc" stroke="#666666" stroke-width="0.7"/>
<circle cx="394.9" cy="61.5" r="1.2" fill="#dcdcdc" stroke="#666666" stroke-width="0.7"/>
<circle cx="397.5" cy="62.5" r="1.2" fill="#dcdcdc" stroke="#666666" stroke-width="0.7"/>
<circle cx="402.6" cy="59.9" r="1.4" fill="#dcdcdc" stroke="#666666" stroke-width="0.7"/>
<circle cx="407.2" cy="61.0" r="1.6" fill="#dcdcdc" stroke="#666666" stroke-width="0.7"/>
<circle cx="405.1" cy="62.6" r="1.4" fill="#dcdcdc" stroke="#666666" stroke-width="0.7"/>
<circle cx="403.1" cy="55.3" r="1.3" fill="#dcdcdc" stroke="#666666" stroke-width="0.7"/>
<circle cx="396.3" cy="63.2" r="1.4" fill="#dcdcdc" stroke="#666666" stroke-width="0.7"/>
<circle cx="401.8" cy="69.1" r="1.5" fill="#dcdcdc" stroke="#666666" stroke-width="0.7"/>
<circle cx="401.4" cy="67.5" r="1.5" fill="#dcdcdc" stroke="#666666" stroke-width="0.7"/>
<circle cx="403.4" cy="66.2" r="1.6" fill="#dcdcdc" stroke="#666666" stroke-width="0.7"/>
<circle cx="402.6" cy="61.2" r="1.6" fill="#dcdcdc" stroke="#666666" stroke-width="0.7"/>
<circle cx="402.3" cy="57.2" r="1.5" fill="#dcdcdc" stroke="#666666" stroke-width="0.7"/>
<circle cx="404.8" cy="57.9" r="1.3" fill="#dcdcdc" stroke="#666666" stroke-width="0.7"/>
<circle cx="400.8" cy="69.1" r="1.6" fill="#dcdcdc" stroke="#666666" stroke-width="0.7"/>
<circle cx="398.8" cy="62.1" r="1.3" fill="#dcdcdc" stroke="#666666" stroke-width="0.7"/>
<circle cx="405.3" cy="62.1" r="1.5" fill="#dcdcdc" stroke="#666666" stroke-width="0.7"/>
<circle cx="396.1" cy="63.3" r="1.4" fill="#dcdcdc" stroke="#666666" stroke-width="0.7"/>
<circle cx="402.8" cy="65.4" r="1.6" fill="#dcdcdc" stroke="#666666" stroke-width="0.7"/>
<circle cx="397.2" cy="68.3" r="1.3" fill="#dcdcdc" stroke="#666666" stroke-width="0.7"/>
<circle cx="406.5" cy="62.1" r="1.3" fill="#dcdcdc" stroke="#666666" stroke-width="0.7"/>
<circle cx="401.4" cy="59.8" r="1.3" fill="#dcdcdc" stroke="#666666" stroke-width="0.7"/>
<circle cx="436.4" cy="31.8" r="1.3" fill="#dcdcdc" stroke="#666666" stroke-width="0.7"/>
<circle cx="433.7" cy="32.3" r="1.6" fill="#dcdcdc" stroke="#666666" stroke-width="0.7"/>
<circle cx="426.3" cy="38.8" r="1.5" fill="#dcdcdc" stroke="#666666" stroke-width="0.7"/>
<circle cx="436.5" cy="35.0" r="1.4" fill="#dcdcdc" stroke="#666666" stroke-width="0.7"/>
<circle cx="426.4" cy="39.3" r="1.4" fill="#dcdcdc" stroke="#666666" stroke-width="0.7"/>
<circle cx="429.7" cy="36.8" r="1.7" fill="#dcdcdc" stroke="#666666" stroke-width="0.7"/>
<circle cx="436.2" cy="39.6" r="1.5" fill="#dcdcdc" stroke="#666666" stroke-width="0.7"/>
<circle cx="428.2" cy="43.0" r="1.3" fill="#dcdcdc" stroke="#666666" stroke-width="0.7"/>
<circle cx="430.0" cy="39.4" r="1.6" fill="#dcdcdc" stroke="#666666" stroke-width="0.7"/>
<circle cx="426.3" cy="34.7" r="1.5" fill="#dcdcdc" stroke="#666666" stroke-width="0.7"/>
<circle cx="424.2" cy="40.9" r="1.7" fill="#dcdcdc" stroke="#666666" stroke-width="0.7"/>
<circle cx="435.7" cy="29.9" r="1.3" fill="#dcdcdc" stroke="#666666" stroke-width="0.7"/>
<circle cx="424.5" cy="29.0" r="1.4" fill="#dcdcdc" stroke="#666666" stroke-width="0.7"/>
<circle cx="435.9" cy="32.7" r="1.6" fill="#dcdcdc" stroke="#666666" stroke-width="0.7"/>
<circle cx="429.6" cy="33.1" r="1.6" fill="#dcdcdc" stroke="#666666" stroke-width="0.7"/>
<circle cx="429.4" cy="29.3" r="1.7" fill="#dcdcdc" stroke="#666666" stroke-width="0.7"/>
<circle cx="430.1" cy="28.2" r="1.2" fill="#dcdcdc" stroke="#666666" stroke-width="0.7"/>
<circle cx="429.6" cy="36.8" r="1.3" fill="#dcdcdc" stroke="#666666" stroke-width="0.7"/>
<circle cx="432.7" cy="33.7" r="1.3" fill="#dcdcdc" stroke="#666666" stroke-width="0.7"/>
<circle cx="425.1" cy="35.9" r="1.3" fill="#dcdcdc" stroke="#666666" stroke-width="0.7"/>
<circle cx="427.8" cy="42.0" r="1.7" fill="#dcdcdc" stroke="#666666" stroke-width="0.7"/>
<circle cx="434.3" cy="34.4" r="1.5" fill="#dcdcdc" stroke="#666666" stroke-width="0.7"/>
<circle cx="427.4" cy="31.1" r="1.7" fill="#dcdcdc" stroke="#666666" stroke-width="0.7"/>
<circle cx="425.0" cy="33.1" r="1.4" fill="#dcdcdc" stroke="#666666" stroke-width="0.7"/>
<circle cx="431.7" cy="38.0" r="1.6" fill="#dcdcdc" stroke="#666666" stroke-width="0.7"/>
<circle cx="432.1" cy="42.8" r="1.4" fill="#dcdcdc" stroke="#666666" stroke-width="0.7"/>
<circle cx="426.0" cy="35.1" r="1.3" fill="#dcdcdc" stroke="#666666" stroke-width="0.7"/>
<circle cx="437.1" cy="30.3" r="1.6" fill="#dcdcdc" stroke="#666666" stroke-width="0.7"/>
<circle cx="427.0" cy="36.0" r="1.7" fill="#dcdcdc" stroke="#666666" stroke-width="0.7"/>
<circle cx="430.9" cy="37.4" r="1.3" fill="#dcdcdc" stroke="#666666" stroke-width="0.7"/>
<circle cx="428.6" cy="37.1" r="1.5" fill="#dcdcdc" stroke="#666666" stroke-width="0.7"/>
<circle cx="430.3" cy="39.3" r="1.5" fill="#dcdcdc" stroke="#666666" stroke-width="0.7"/>
<circle cx="416.0" cy="62.2" r="1.3" fill="#dcdcdc" stroke="#666666" stroke-width="0.7"/>
<circle cx="422.0" cy="60.5" r="1.4" fill="#dcdcdc" stroke="#666666" stroke-width="0.7"/>
<circle cx="417.7" cy="67.6" r="1.3" fill="#dcdcdc" stroke="#666666" stroke-width="0.7"/>
<circle cx="419.1" cy="67.8" r="1.3" fill="#dcdcdc" stroke="#666666" stroke-width="0.7"/>
<circle cx="425.4" cy="66.4" r="1.3" fill="#dcdcdc" stroke="#666666" stroke-width="0.7"/>
<circle cx="424.4" cy="64.5" r="1.5" fill="#dcdcdc" stroke="#666666" stroke-width="0.7"/>
<circle cx="416.4" cy="64.9" r="1.5" fill="#dcdcdc" stroke="#666666" stroke-width="0.7"/>
<circle cx="424.1" cy="62.5" r="1.3" fill="#dcdcdc" stroke="#666666" stroke-width="0.7"/>
<circle cx="421.5" cy="68.5" r="1.2" fill="#dcdcdc" stroke="#666666" stroke-width="0.7"/>
<circle cx="418.2" cy="67.8" r="1.4" fill="#dcdcdc" stroke="#666666" stroke-width="0.7"/>
<circle cx="428.2" cy="63.2" r="1.5" fill="#dcdcdc" stroke="#666666" stroke-width="0.7"/>
<circle cx="422.7" cy="64.3" r="1.3" fill="#dcdcdc" stroke="#666666" stroke-width="0.7"/>
<circle cx="427.8" cy="66.2" r="1.4" fill="#dcdcdc" stroke="#666666" stroke-width="0.7"/>
<circle cx="425.8" cy="62.1" r="1.3" fill="#dcdcdc" stroke="#666666" stroke-width="0.7"/>
<circle cx="421.9" cy="65.0" r="1.6" fill="#dcdcdc" stroke="#666666" stroke-width="0.7"/>
<circle cx="416.8" cy="69.2" r="1.5" fill="#dcdcdc" stroke="#666666" stroke-width="0.7"/>
<circle cx="425.0" cy="59.2" r="1.2" fill="#dcdcdc" stroke="#666666" stroke-width="0.7"/>
<circle cx="425.4" cy="64.4" r="1.3" fill="#dcdcdc" stroke="#666666" stroke-width="0.7"/>
<circle cx="424.1" cy="66.7" r="1.4" fill="#dcdcdc" stroke="#666666" stroke-width="0.7"/>
<circle cx="416.3" cy="64.2" r="1.5" fill="#dcdcdc" stroke="#666666" stroke-width="0.7"/>
<circle cx="427.5" cy="62.9" r="1.5" fill="#dcdcdc" stroke="#666666" stroke-width="0.7"/>
<circle cx="418.3" cy="60.1" r="1.2" fill="#dcdcdc" stroke="#666666" stroke-width="0.7"/>
<circle cx="417.0" cy="66.4" r="1.3" fill="#dcdcdc" stroke="#666666" stroke-width="0.7"/>
<circle cx="428.0" cy="66.5" r="1.5" fill="#dcdcdc" stroke="#666666" stroke-width="0.7"/>
<circle cx="422.7" cy="71.7" r="1.4" fill="#dcdcdc" stroke="#666666" stroke-width="0.7"/>
<circle cx="419.6" cy="61.9" r="1.3" fill="#dcdcdc" stroke="#666666" stroke-width="0.7"/>
<circle cx="424.4" cy="67.5" r="1.4" fill="#dcdcdc" stroke="#666666" stroke-width="0.7"/>
<circle cx="418.2" cy="60.6" r="1.7" fill="#dcdcdc" stroke="#666666" stroke-width="0.7"/>
<circle cx="423.4" cy="66.2" r="1.4" fill="#dcdcdc" stroke="#666666" stroke-width="0.7"/>
<circle cx="416.7" cy="64.2" r="1.5" fill="#dcdcdc" stroke="#666666" stroke-width="0.7"/>
<circle cx="419.5" cy="67.1" r="1.4" fill="#dcdcdc" stroke="#666666" stroke-width="0.7"/>
<circle cx="421.4" cy="64.6" r="1.4" fill="#dcdcdc" stroke="#666666" stroke-width="0.7"/>
<circle cx="442.4" cy="52.8" r="1.6" fill="#dcdcdc" stroke="#666666" stroke-width="0.7"/>
<circle cx="449.8" cy="46.5" r="1.7" fill="#dcdcdc" stroke="#666666" stroke-width="0.7"/>
<circle cx="447.9" cy="44.6" r="1.4" fill="#dcdcdc" stroke="#666666" stroke-width="0.7"/>
<circle cx="444.4" cy="51.7" r="1.3" fill="#dcdcdc" stroke="#666666" stroke-width="0.7"/>
<circle cx="450.1" cy="46.5" r="1.6" fill="#dcdcdc" stroke="#666666" stroke-width="0.7"/>
<circle cx="443.6" cy="49.0" r="1.3" fill="#dcdcdc" stroke="#666666" stroke-width="0.7"/>
<circle cx="437.8" cy="48.1" r="1.2" fill="#dcdcdc" stroke="#666666" stroke-width="0.7"/>
<circle cx="440.7" cy="49.8" r="1.7" fill="#dcdcdc" stroke="#666666" stroke-width="0.7"/>
<circle cx="440.4" cy="41.7" r="1.4" fill="#dcdcdc" stroke="#666666" stroke-width="0.7"/>
<circle cx="444.2" cy="49.4" r="1.6" fill="#dcdcdc" stroke="#666666" stroke-width="0.7"/>
<circle cx="441.4" cy="52.1" r="1.4" fill="#dcdcdc" stroke="#666666" stroke-width="0.7"/>
<circle cx="442.6" cy="45.0" r="1.6" fill="#dcdcdc" stroke="#666666" stroke-width="0.7"/>
<circle cx="445.9" cy="41.8" r="1.4" fill="#dcdcdc" stroke="#666666" stroke-width="0.7"/>
<circle cx="440.6" cy="47.9" r="1.3" fill="#dcdcdc" stroke="#666666" stroke-width="0.7"/>
<circle cx="448.1" cy="47.2" r="1.2" fill="#dcdcdc" stroke="#666666" stroke-width="0.7"/>
<circle cx="445.5" cy="44.7" r="1.5" fill="#dcdcdc" stroke="#666666" stroke-width="0.7"/>
<circle cx="445.2" cy="54.4" r="1.5" fill="#dcdcdc" stroke="#666666" stroke-width="0.7"/>
<circle cx="442.0" cy="55.0" r="1.7" fill="#dcdcdc" stroke="#666666" stroke-width="0.7"/>
<circle cx="440.8" cy="48.1" r="1.2" fill="#dcdcdc" stroke="#666666" stroke-width="0.7"/>
<circle cx="444.8" cy="52.8" r="1.5" fill="#dcdcdc" stroke="#666666" stroke-width="0.7"/>
<circle cx="440.3" cy="41.7" r="1.4" fill="#dcdcdc" stroke="#666666" stroke-width="0.7"/>
<circle cx="446.9" cy="51.7" r="1.5" fill="#dcdcdc" stroke="#666666" stroke-width="0.7"/>
<circle cx="445.7" cy="55.2" r="1.3" fill="#dcdcdc" stroke="#666666" stroke-width="0.7"/>
<circle cx="445.1" cy="49.3" r="1.3" fill="#dcdcdc" stroke="#666666" stroke-width="0.7"/>
<circle cx="448.4" cy="49.7" r="1.5" fill="#dcdcdc" stroke="#666666" stroke-width="0.7"/>
<circle cx="449.7" cy="43.8" r="1.7" fill="#dcdcdc" stroke="#666666" stroke-width="0.7"/>
<circle cx="443.2" cy="40.6" r="1.3" fill="#dcdcdc" stroke="#666666" stroke-width="0.7"/>
<circle cx="447.9" cy="46.2" r="1.4" fill="#dcdcdc" stroke="#666666" stroke-width="0.7"/>
<circle cx="446.9" cy="54.7" r="1.6" fill="#dcdcdc" stroke="#666666" stroke-width="0.7"/>
<circle cx="444.0" cy="46.7" r="1.7" fill="#dcdcdc" stroke="#666666" stroke-width="0.7"/>
<circle cx="441.6" cy="44.0" r="1.3" fill="#dcdcdc" stroke="#666666" stroke-width="0.7"/>
<circle cx="441.0" cy="51.1" r="1.3" fill="#dcdcdc" stroke="#666666" stroke-width="0.7"/>
</g></g></g>
<g><rect x="451.7" y="21.5" width="67.30000000000001" height="54.5" fill="#c8c8c8"/>
<clipPath id="c4512125"><rect x="451.7" y="21.5" width="67.30000000000001" height="54.5"/></clipPath><g clip-path="url(#c4512125)"><g filter="url(#mb)">
<circle cx="515.2" cy="74.7" r="1.1" fill="#d6d6d6" stroke="#8a8a8a" stroke-width="0.5"/>
<circle cx="484.2" cy="24.4" r="1.2" fill="#d6d6d6" stroke="#8a8a8a" stroke-width="0.5"/>
<circle cx="514.0" cy="42.6" r="1.0" fill="#d6d6d6" stroke="#8a8a8a" stroke-width="0.5"/>
<circle cx="512.6" cy="55.3" r="1.2" fill="#d6d6d6" stroke="#8a8a8a" stroke-width="0.5"/>
<circle cx="507.2" cy="30.2" r="1.3" fill="#d6d6d6" stroke="#8a8a8a" stroke-width="0.5"/>
<circle cx="504.6" cy="33.6" r="1.0" fill="#d6d6d6" stroke="#8a8a8a" stroke-width="0.5"/>
<circle cx="478.9" cy="67.6" r="1.3" fill="#d6d6d6" stroke="#8a8a8a" stroke-width="0.5"/>
<circle cx="507.5" cy="31.5" r="1.0" fill="#d6d6d6" stroke="#8a8a8a" stroke-width="0.5"/>
<circle cx="466.4" cy="43.3" r="1.4" fill="#d6d6d6" stroke="#8a8a8a" stroke-width="0.5"/>
<circle cx="486.6" cy="42.4" r="1.4" fill="#d6d6d6" stroke="#8a8a8a" stroke-width="0.5"/>
<circle cx="460.0" cy="35.0" r="1.3" fill="#d6d6d6" stroke="#8a8a8a" stroke-width="0.5"/>
<circle cx="500.5" cy="70.4" r="1.0" fill="#d6d6d6" stroke="#8a8a8a" stroke-width="0.5"/>
<circle cx="454.5" cy="52.1" r="1.3" fill="#d6d6d6" stroke="#8a8a8a" stroke-width="0.5"/>
<circle cx="502.7" cy="23.6" r="1.2" fill="#d6d6d6" stroke="#8a8a8a" stroke-width="0.5"/>
<circle cx="508.1" cy="27.9" r="1.5" fill="#d6d6d6" stroke="#8a8a8a" stroke-width="0.5"/>
<circle cx="492.0" cy="51.5" r="1.1" fill="#d6d6d6" stroke="#8a8a8a" stroke-width="0.5"/>
<circle cx="493.9" cy="38.2" r="1.4" fill="#d6d6d6" stroke="#8a8a8a" stroke-width="0.5"/>
<circle cx="480.0" cy="53.3" r="1.5" fill="#d6d6d6" stroke="#8a8a8a" stroke-width="0.5"/>
<circle cx="480.4" cy="57.4" r="1.4" fill="#d6d6d6" stroke="#8a8a8a" stroke-width="0.5"/>
<circle cx="481.8" cy="45.4" r="1.4" fill="#d6d6d6" stroke="#8a8a8a" stroke-width="0.5"/>
<circle cx="453.3" cy="55.2" r="1.1" fill="#d6d6d6" stroke="#8a8a8a" stroke-width="0.5"/>
<circle cx="484.6" cy="34.3" r="1.5" fill="#d6d6d6" stroke="#8a8a8a" stroke-width="0.5"/>
<circle cx="503.1" cy="64.0" r="1.2" fill="#d6d6d6" stroke="#8a8a8a" stroke-width="0.5"/>
<circle cx="482.5" cy="31.3" r="1.5" fill="#d6d6d6" stroke="#8a8a8a" stroke-width="0.5"/>
<circle cx="483.5" cy="27.3" r="1.5" fill="#d6d6d6" stroke="#8a8a8a" stroke-width="0.5"/>
</g></g></g>
<g><rect x="451.7" y="21.5" width="67.30000000000001" height="54.5" fill="none"/>
<clipPath id="c4512160"><rect x="451.7" y="21.5" width="67.30000000000001" height="54.5"/></clipPath><g clip-path="url(#c4512160)"><g filter="url(#mb)">
<ellipse cx="462.8" cy="64.5" rx="1.8" ry="0.7" transform="rotate(30 462.8 64.5)" fill="#b4b4b4" stroke="#6a6a6a" stroke-width="0.45"/>
<ellipse cx="514.3" cy="25.1" rx="1.9" ry="0.7" transform="rotate(45 514.3 25.1)" fill="#b4b4b4" stroke="#6a6a6a" stroke-width="0.45"/>
<ellipse cx="475.3" cy="62.7" rx="1.6" ry="0.6" transform="rotate(35 475.3 62.7)" fill="#b4b4b4" stroke="#6a6a6a" stroke-width="0.45"/>
<ellipse cx="462.4" cy="70.4" rx="1.6" ry="0.6" transform="rotate(30 462.4 70.4)" fill="#b4b4b4" stroke="#6a6a6a" stroke-width="0.45"/>
<ellipse cx="470.2" cy="66.0" rx="1.5" ry="0.6" transform="rotate(55 470.2 66.0)" fill="#b4b4b4" stroke="#6a6a6a" stroke-width="0.45"/>
<ellipse cx="461.4" cy="48.9" rx="2.1" ry="0.8" transform="rotate(30 461.4 48.9)" fill="#b4b4b4" stroke="#6a6a6a" stroke-width="0.45"/>
<ellipse cx="513.6" cy="32.9" rx="2.1" ry="0.8" transform="rotate(55 513.6 32.9)" fill="#b4b4b4" stroke="#6a6a6a" stroke-width="0.45"/>
<ellipse cx="469.4" cy="49.1" rx="2.0" ry="0.8" transform="rotate(55 469.4 49.1)" fill="#b4b4b4" stroke="#6a6a6a" stroke-width="0.45"/>
<ellipse cx="473.2" cy="23.5" rx="1.9" ry="0.7" transform="rotate(30 473.2 23.5)" fill="#b4b4b4" stroke="#6a6a6a" stroke-width="0.45"/>
<ellipse cx="464.0" cy="30.3" rx="1.8" ry="0.7" transform="rotate(60 464.0 30.3)" fill="#b4b4b4" stroke="#6a6a6a" stroke-width="0.45"/>
<ellipse cx="514.7" cy="58.5" rx="2.1" ry="0.8" transform="rotate(55 514.7 58.5)" fill="#b4b4b4" stroke="#6a6a6a" stroke-width="0.45"/>
<ellipse cx="512.0" cy="30.7" rx="1.9" ry="0.7" transform="rotate(45 512.0 30.7)" fill="#b4b4b4" stroke="#6a6a6a" stroke-width="0.45"/>
<ellipse cx="504.5" cy="27.8" rx="1.5" ry="0.6" transform="rotate(60 504.5 27.8)" fill="#b4b4b4" stroke="#6a6a6a" stroke-width="0.45"/>
<ellipse cx="487.4" cy="56.2" rx="1.5" ry="0.6" transform="rotate(55 487.4 56.2)" fill="#b4b4b4" stroke="#6a6a6a" stroke-width="0.45"/>
<ellipse cx="475.9" cy="69.1" rx="2.1" ry="0.8" transform="rotate(30 475.9 69.1)" fill="#b4b4b4" stroke="#6a6a6a" stroke-width="0.45"/>
<ellipse cx="489.1" cy="53.1" rx="1.6" ry="0.6" transform="rotate(45 489.1 53.1)" fill="#b4b4b4" stroke="#6a6a6a" stroke-width="0.45"/>
<ellipse cx="511.1" cy="27.2" rx="2.0" ry="0.8" transform="rotate(55 511.1 27.2)" fill="#b4b4b4" stroke="#6a6a6a" stroke-width="0.45"/>
<ellipse cx="518.5" cy="55.8" rx="1.6" ry="0.6" transform="rotate(-40 518.5 55.8)" fill="#b4b4b4" stroke="#6a6a6a" stroke-width="0.45"/>
<ellipse cx="478.2" cy="65.0" rx="1.7" ry="0.7" transform="rotate(45 478.2 65.0)" fill="#b4b4b4" stroke="#6a6a6a" stroke-width="0.45"/>
<ellipse cx="469.5" cy="75.5" rx="1.7" ry="0.7" transform="rotate(30 469.5 75.5)" fill="#b4b4b4" stroke="#6a6a6a" stroke-width="0.45"/>
<ellipse cx="490.6" cy="41.1" rx="2.1" ry="0.8" transform="rotate(30 490.6 41.1)" fill="#b4b4b4" stroke="#6a6a6a" stroke-width="0.45"/>
<ellipse cx="503.2" cy="45.6" rx="2.0" ry="0.8" transform="rotate(60 503.2 45.6)" fill="#b4b4b4" stroke="#6a6a6a" stroke-width="0.45"/>
<ellipse cx="463.6" cy="62.0" rx="1.8" ry="0.7" transform="rotate(60 463.6 62.0)" fill="#b4b4b4" stroke="#6a6a6a" stroke-width="0.45"/>
<ellipse cx="455.0" cy="66.2" rx="1.9" ry="0.8" transform="rotate(35 455.0 66.2)" fill="#b4b4b4" stroke="#6a6a6a" stroke-width="0.45"/>
<ellipse cx="468.8" cy="56.3" rx="1.8" ry="0.7" transform="rotate(30 468.8 56.3)" fill="#b4b4b4" stroke="#6a6a6a" stroke-width="0.45"/>
<ellipse cx="517.9" cy="53.4" rx="1.6" ry="0.6" transform="rotate(55 517.9 53.4)" fill="#b4b4b4" stroke="#6a6a6a" stroke-width="0.45"/>
<ellipse cx="496.4" cy="38.5" rx="2.0" ry="0.8" transform="rotate(-40 496.4 38.5)" fill="#b4b4b4" stroke="#6a6a6a" stroke-width="0.45"/>
<ellipse cx="451.8" cy="23.3" rx="1.9" ry="0.7" transform="rotate(35 451.8 23.3)" fill="#b4b4b4" stroke="#6a6a6a" stroke-width="0.45"/>
<ellipse cx="461.8" cy="55.1" rx="1.8" ry="0.7" transform="rotate(45 461.8 55.1)" fill="#b4b4b4" stroke="#6a6a6a" stroke-width="0.45"/>
<ellipse cx="480.8" cy="49.4" rx="1.5" ry="0.6" transform="rotate(35 480.8 49.4)" fill="#b4b4b4" stroke="#6a6a6a" stroke-width="0.45"/>
<ellipse cx="512.0" cy="28.7" rx="1.5" ry="0.6" transform="rotate(60 512.0 28.7)" fill="#b4b4b4" stroke="#6a6a6a" stroke-width="0.45"/>
<ellipse cx="467.0" cy="57.1" rx="2.1" ry="0.8" transform="rotate(55 467.0 57.1)" fill="#b4b4b4" stroke="#6a6a6a" stroke-width="0.45"/>
<ellipse cx="453.2" cy="21.6" rx="2.1" ry="0.8" transform="rotate(30 453.2 21.6)" fill="#b4b4b4" stroke="#6a6a6a" stroke-width="0.45"/>
<ellipse cx="475.6" cy="27.3" rx="1.5" ry="0.6" transform="rotate(35 475.6 27.3)" fill="#b4b4b4" stroke="#6a6a6a" stroke-width="0.45"/>
<ellipse cx="475.7" cy="33.7" rx="1.5" ry="0.6" transform="rotate(30 475.7 33.7)" fill="#b4b4b4" stroke="#6a6a6a" stroke-width="0.45"/>
<ellipse cx="491.0" cy="53.6" rx="1.9" ry="0.7" transform="rotate(30 491.0 53.6)" fill="#b4b4b4" stroke="#6a6a6a" stroke-width="0.45"/>
<ellipse cx="465.4" cy="55.5" rx="1.5" ry="0.6" transform="rotate(35 465.4 55.5)" fill="#b4b4b4" stroke="#6a6a6a" stroke-width="0.45"/>
<ellipse cx="483.7" cy="28.8" rx="1.5" ry="0.6" transform="rotate(60 483.7 28.8)" fill="#b4b4b4" stroke="#6a6a6a" stroke-width="0.45"/>
<ellipse cx="514.7" cy="34.8" rx="2.0" ry="0.8" transform="rotate(45 514.7 34.8)" fill="#b4b4b4" stroke="#6a6a6a" stroke-width="0.45"/>
<ellipse cx="461.7" cy="26.7" rx="2.0" ry="0.8" transform="rotate(60 461.7 26.7)" fill="#b4b4b4" stroke="#6a6a6a" stroke-width="0.45"/>
<ellipse cx="494.7" cy="69.0" rx="2.1" ry="0.8" transform="rotate(35 494.7 69.0)" fill="#b4b4b4" stroke="#6a6a6a" stroke-width="0.45"/>
<ellipse cx="504.3" cy="43.4" rx="2.1" ry="0.8" transform="rotate(30 504.3 43.4)" fill="#b4b4b4" stroke="#6a6a6a" stroke-width="0.45"/>
<ellipse cx="469.5" cy="22.1" rx="2.1" ry="0.8" transform="rotate(35 469.5 22.1)" fill="#b4b4b4" stroke="#6a6a6a" stroke-width="0.45"/>
<ellipse cx="495.1" cy="52.1" rx="1.6" ry="0.6" transform="rotate(45 495.1 52.1)" fill="#b4b4b4" stroke="#6a6a6a" stroke-width="0.45"/>
<ellipse cx="475.3" cy="56.7" rx="1.5" ry="0.6" transform="rotate(35 475.3 56.7)" fill="#b4b4b4" stroke="#6a6a6a" stroke-width="0.45"/>
<ellipse cx="481.6" cy="72.6" rx="2.1" ry="0.8" transform="rotate(30 481.6 72.6)" fill="#b4b4b4" stroke="#6a6a6a" stroke-width="0.45"/>
<ellipse cx="501.1" cy="35.0" rx="1.5" ry="0.6" transform="rotate(30 501.1 35.0)" fill="#b4b4b4" stroke="#6a6a6a" stroke-width="0.45"/>
<ellipse cx="512.5" cy="23.9" rx="1.9" ry="0.7" transform="rotate(-40 512.5 23.9)" fill="#b4b4b4" stroke="#6a6a6a" stroke-width="0.45"/>
<ellipse cx="487.5" cy="43.6" rx="1.5" ry="0.6" transform="rotate(35 487.5 43.6)" fill="#b4b4b4" stroke="#6a6a6a" stroke-width="0.45"/>
<ellipse cx="467.7" cy="24.7" rx="2.0" ry="0.8" transform="rotate(30 467.7 24.7)" fill="#b4b4b4" stroke="#6a6a6a" stroke-width="0.45"/>
<ellipse cx="504.1" cy="22.2" rx="1.6" ry="0.6" transform="rotate(55 504.1 22.2)" fill="#b4b4b4" stroke="#6a6a6a" stroke-width="0.45"/>
<ellipse cx="488.8" cy="72.8" rx="1.7" ry="0.7" transform="rotate(55 488.8 72.8)" fill="#b4b4b4" stroke="#6a6a6a" stroke-width="0.45"/>
<ellipse cx="461.3" cy="32.4" rx="1.5" ry="0.6" transform="rotate(55 461.3 32.4)" fill="#b4b4b4" stroke="#6a6a6a" stroke-width="0.45"/>
<ellipse cx="492.6" cy="49.1" rx="2.1" ry="0.8" transform="rotate(35 492.6 49.1)" fill="#b4b4b4" stroke="#6a6a6a" stroke-width="0.45"/>
<ellipse cx="494.9" cy="65.8" rx="2.0" ry="0.8" transform="rotate(55 494.9 65.8)" fill="#b4b4b4" stroke="#6a6a6a" stroke-width="0.45"/>
<ellipse cx="463.5" cy="38.4" rx="2.1" ry="0.8" transform="rotate(60 463.5 38.4)" fill="#b4b4b4" stroke="#6a6a6a" stroke-width="0.45"/>
<ellipse cx="471.9" cy="24.1" rx="1.8" ry="0.7" transform="rotate(55 471.9 24.1)" fill="#b4b4b4" stroke="#6a6a6a" stroke-width="0.45"/>
<ellipse cx="511.6" cy="64.2" rx="1.9" ry="0.7" transform="rotate(35 511.6 64.2)" fill="#b4b4b4" stroke="#6a6a6a" stroke-width="0.45"/>
<ellipse cx="499.8" cy="21.8" rx="2.0" ry="0.8" transform="rotate(35 499.8 21.8)" fill="#b4b4b4" stroke="#6a6a6a" stroke-width="0.45"/>
<ellipse cx="508.5" cy="62.1" rx="1.8" ry="0.7" transform="rotate(35 508.5 62.1)" fill="#b4b4b4" stroke="#6a6a6a" stroke-width="0.45"/>
</g></g></g>
<g><rect x="378" y="78" width="71.19999999999999" height="50.5" fill="#bfbfbf"/>
<clipPath id="g37878"><rect x="378" y="78" width="71.19999999999999" height="50.5"/></clipPath><g clip-path="url(#g37878)"><g filter="url(#mb)">
<circle cx="378.4" cy="80.0" r="1.2" fill="#cacaca" stroke="#7e7e7e" stroke-width="0.6"/>
<circle cx="381.1" cy="80.6" r="1.2" fill="#cacaca" stroke="#7e7e7e" stroke-width="0.6"/>
<circle cx="385.2" cy="80.5" r="1.5" fill="#cacaca" stroke="#7e7e7e" stroke-width="0.6"/>
<circle cx="389.7" cy="79.9" r="1.4" fill="#cacaca" stroke="#7e7e7e" stroke-width="0.6"/>
<circle cx="393.6" cy="79.6" r="1.4" fill="#cacaca" stroke="#7e7e7e" stroke-width="0.6"/>
<circle cx="398.4" cy="79.5" r="1.2" fill="#cacaca" stroke="#7e7e7e" stroke-width="0.6"/>
<circle cx="401.4" cy="79.2" r="1.4" fill="#cacaca" stroke="#7e7e7e" stroke-width="0.6"/>
<circle cx="405.9" cy="80.3" r="1.4" fill="#cacaca" stroke="#7e7e7e" stroke-width="0.6"/>
<circle cx="408.9" cy="79.8" r="1.3" fill="#cacaca" stroke="#7e7e7e" stroke-width="0.6"/>
<circle cx="417.8" cy="79.0" r="1.2" fill="#cacaca" stroke="#7e7e7e" stroke-width="0.6"/>
<circle cx="421.7" cy="80.0" r="1.3" fill="#cacaca" stroke="#7e7e7e" stroke-width="0.6"/>
<circle cx="428.6" cy="80.0" r="1.4" fill="#cacaca" stroke="#7e7e7e" stroke-width="0.6"/>
<circle cx="432.9" cy="79.6" r="1.2" fill="#cacaca" stroke="#7e7e7e" stroke-width="0.6"/>
<circle cx="437.2" cy="80.3" r="1.4" fill="#cacaca" stroke="#7e7e7e" stroke-width="0.6"/>
<circle cx="440.3" cy="80.5" r="1.3" fill="#cacaca" stroke="#7e7e7e" stroke-width="0.6"/>
<circle cx="444.2" cy="80.7" r="1.2" fill="#cacaca" stroke="#7e7e7e" stroke-width="0.6"/>
<circle cx="447.8" cy="80.4" r="1.4" fill="#cacaca" stroke="#7e7e7e" stroke-width="0.6"/>
<circle cx="451.4" cy="79.4" r="1.2" fill="#cacaca" stroke="#7e7e7e" stroke-width="0.6"/>
<circle cx="379.3" cy="83.0" r="1.2" fill="#cacaca" stroke="#7e7e7e" stroke-width="0.6"/>
<circle cx="387.0" cy="84.3" r="1.1" fill="#cacaca" stroke="#7e7e7e" stroke-width="0.6"/>
<circle cx="392.6" cy="83.9" r="1.4" fill="#cacaca" stroke="#7e7e7e" stroke-width="0.6"/>
<circle cx="394.9" cy="83.6" r="1.1" fill="#cacaca" stroke="#7e7e7e" stroke-width="0.6"/>
<circle cx="399.2" cy="82.4" r="1.3" fill="#cacaca" stroke="#7e7e7e" stroke-width="0.6"/>
<circle cx="403.7" cy="83.3" r="1.4" fill="#cacaca" stroke="#7e7e7e" stroke-width="0.6"/>
<circle cx="406.5" cy="83.6" r="1.3" fill="#cacaca" stroke="#7e7e7e" stroke-width="0.6"/>
<circle cx="412.0" cy="83.2" r="1.3" fill="#cacaca" stroke="#7e7e7e" stroke-width="0.6"/>
<circle cx="414.9" cy="82.8" r="1.4" fill="#cacaca" stroke="#7e7e7e" stroke-width="0.6"/>
<circle cx="423.3" cy="84.0" r="1.4" fill="#cacaca" stroke="#7e7e7e" stroke-width="0.6"/>
<circle cx="426.7" cy="83.0" r="1.4" fill="#cacaca" stroke="#7e7e7e" stroke-width="0.6"/>
<circle cx="430.5" cy="83.9" r="1.4" fill="#cacaca" stroke="#7e7e7e" stroke-width="0.6"/>
<circle cx="434.1" cy="83.2" r="1.3" fill="#cacaca" stroke="#7e7e7e" stroke-width="0.6"/>
<circle cx="438.3" cy="83.7" r="1.5" fill="#cacaca" stroke="#7e7e7e" stroke-width="0.6"/>
<circle cx="442.7" cy="83.9" r="1.3" fill="#cacaca" stroke="#7e7e7e" stroke-width="0.6"/>
<circle cx="447.2" cy="82.4" r="1.3" fill="#cacaca" stroke="#7e7e7e" stroke-width="0.6"/>
<circle cx="450.7" cy="84.2" r="1.3" fill="#cacaca" stroke="#7e7e7e" stroke-width="0.6"/>
<circle cx="378.1" cy="86.8" r="1.4" fill="#cacaca" stroke="#7e7e7e" stroke-width="0.6"/>
<circle cx="382.2" cy="87.4" r="1.3" fill="#cacaca" stroke="#7e7e7e" stroke-width="0.6"/>
<circle cx="386.7" cy="86.2" r="1.4" fill="#cacaca" stroke="#7e7e7e" stroke-width="0.6"/>
<circle cx="390.2" cy="86.0" r="1.5" fill="#cacaca" stroke="#7e7e7e" stroke-width="0.6"/>
<circle cx="392.7" cy="86.3" r="1.3" fill="#cacaca" stroke="#7e7e7e" stroke-width="0.6"/>
<circle cx="397.3" cy="86.6" r="1.4" fill="#cacaca" stroke="#7e7e7e" stroke-width="0.6"/>
<circle cx="400.9" cy="86.2" r="1.4" fill="#cacaca" stroke="#7e7e7e" stroke-width="0.6"/>
<circle cx="408.6" cy="87.3" r="1.3" fill="#cacaca" stroke="#7e7e7e" stroke-width="0.6"/>
<circle cx="412.4" cy="87.3" r="1.4" fill="#cacaca" stroke="#7e7e7e" stroke-width="0.6"/>
<circle cx="416.9" cy="86.9" r="1.2" fill="#cacaca" stroke="#7e7e7e" stroke-width="0.6"/>
<circle cx="425.1" cy="87.4" r="1.4" fill="#cacaca" stroke="#7e7e7e" stroke-width="0.6"/>
<circle cx="428.3" cy="86.8" r="1.2" fill="#cacaca" stroke="#7e7e7e" stroke-width="0.6"/>
<circle cx="432.3" cy="87.4" r="1.2" fill="#cacaca" stroke="#7e7e7e" stroke-width="0.6"/>
<circle cx="436.0" cy="86.6" r="1.2" fill="#cacaca" stroke="#7e7e7e" stroke-width="0.6"/>
<circle cx="440.8" cy="86.3" r="1.2" fill="#cacaca" stroke="#7e7e7e" stroke-width="0.6"/>
<circle cx="444.3" cy="86.6" r="1.4" fill="#cacaca" stroke="#7e7e7e" stroke-width="0.6"/>
<circle cx="447.9" cy="87.6" r="1.4" fill="#cacaca" stroke="#7e7e7e" stroke-width="0.6"/>
<circle cx="452.8" cy="87.5" r="1.4" fill="#cacaca" stroke="#7e7e7e" stroke-width="0.6"/>
<circle cx="380.6" cy="90.4" r="1.1" fill="#cacaca" stroke="#7e7e7e" stroke-width="0.6"/>
<circle cx="384.8" cy="90.4" r="1.2" fill="#cacaca" stroke="#7e7e7e" stroke-width="0.6"/>
<circle cx="387.0" cy="89.6" r="1.4" fill="#cacaca" stroke="#7e7e7e" stroke-width="0.6"/>
<circle cx="391.0" cy="90.9" r="1.4" fill="#cacaca" stroke="#7e7e7e" stroke-width="0.6"/>
<circle cx="396.3" cy="90.3" r="1.4" fill="#cacaca" stroke="#7e7e7e" stroke-width="0.6"/>
<circle cx="400.2" cy="90.7" r="1.4" fill="#cacaca" stroke="#7e7e7e" stroke-width="0.6"/>
<circle cx="403.7" cy="90.2" r="1.4" fill="#cacaca" stroke="#7e7e7e" stroke-width="0.6"/>
<circle cx="408.0" cy="90.2" r="1.2" fill="#cacaca" stroke="#7e7e7e" stroke-width="0.6"/>
<circle cx="410.4" cy="90.1" r="1.1" fill="#cacaca" stroke="#7e7e7e" stroke-width="0.6"/>
<circle cx="414.3" cy="90.1" r="1.3" fill="#cacaca" stroke="#7e7e7e" stroke-width="0.6"/>
<circle cx="419.7" cy="89.1" r="1.4" fill="#cacaca" stroke="#7e7e7e" stroke-width="0.6"/>
<circle cx="423.0" cy="90.5" r="1.4" fill="#cacaca" stroke="#7e7e7e" stroke-width="0.6"/>
<circle cx="426.6" cy="91.1" r="1.1" fill="#cacaca" stroke="#7e7e7e" stroke-width="0.6"/>
<circle cx="430.9" cy="89.2" r="1.3" fill="#cacaca" stroke="#7e7e7e" stroke-width="0.6"/>
<circle cx="435.4" cy="89.8" r="1.5" fill="#cacaca" stroke="#7e7e7e" stroke-width="0.6"/>
<circle cx="438.4" cy="90.9" r="1.1" fill="#cacaca" stroke="#7e7e7e" stroke-width="0.6"/>
<circle cx="442.6" cy="89.8" r="1.4" fill="#cacaca" stroke="#7e7e7e" stroke-width="0.6"/>
<circle cx="446.2" cy="90.2" r="1.4" fill="#cacaca" stroke="#7e7e7e" stroke-width="0.6"/>
<circle cx="450.0" cy="90.0" r="1.3" fill="#cacaca" stroke="#7e7e7e" stroke-width="0.6"/>
<circle cx="377.6" cy="94.2" r="1.3" fill="#cacaca" stroke="#7e7e7e" stroke-width="0.6"/>
<circle cx="381.4" cy="93.5" r="1.5" fill="#cacaca" stroke="#7e7e7e" stroke-width="0.6"/>
<circle cx="386.4" cy="93.2" r="1.2" fill="#cacaca" stroke="#7e7e7e" stroke-width="0.6"/>
<circle cx="389.9" cy="93.8" r="1.4" fill="#cacaca" stroke="#7e7e7e" stroke-width="0.6"/>
<circle cx="394.0" cy="94.3" r="1.3" fill="#cacaca" stroke="#7e7e7e" stroke-width="0.6"/>
<circle cx="397.1" cy="92.5" r="1.2" fill="#cacaca" stroke="#7e7e7e" stroke-width="0.6"/>
<circle cx="405.6" cy="94.1" r="1.5" fill="#cacaca" stroke="#7e7e7e" stroke-width="0.6"/>
<circle cx="409.4" cy="93.8" r="1.4" fill="#cacaca" stroke="#7e7e7e" stroke-width="0.6"/>
<circle cx="413.5" cy="92.9" r="1.4" fill="#cacaca" stroke="#7e7e7e" stroke-width="0.6"/>
<circle cx="417.5" cy="92.7" r="1.2" fill="#cacaca" stroke="#7e7e7e" stroke-width="0.6"/>
<circle cx="421.4" cy="94.4" r="1.4" fill="#cacaca" stroke="#7e7e7e" stroke-width="0.6"/>
<circle cx="425.4" cy="94.1" r="1.3" fill="#cacaca" stroke="#7e7e7e" stroke-width="0.6"/>
<circle cx="428.3" cy="93.4" r="1.2" fill="#cacaca" stroke="#7e7e7e" stroke-width="0.6"/>
<circle cx="432.9" cy="94.4" r="1.1" fill="#cacaca" stroke="#7e7e7e" stroke-width="0.6"/>
<circle cx="435.6" cy="92.8" r="1.4" fill="#cacaca" stroke="#7e7e7e" stroke-width="0.6"/>
<circle cx="441.2" cy="93.4" r="1.1" fill="#cacaca" stroke="#7e7e7e" stroke-width="0.6"/>
<circle cx="444.5" cy="94.4" r="1.5" fill="#cacaca" stroke="#7e7e7e" stroke-width="0.6"/>
<circle cx="448.0" cy="92.7" r="1.4" fill="#cacaca" stroke="#7e7e7e" stroke-width="0.6"/>
<circle cx="451.4" cy="92.6" r="1.1" fill="#cacaca" stroke="#7e7e7e" stroke-width="0.6"/>
<circle cx="379.2" cy="97.8" r="1.1" fill="#cacaca" stroke="#7e7e7e" stroke-width="0.6"/>
<circle cx="383.1" cy="96.0" r="1.4" fill="#cacaca" stroke="#7e7e7e" stroke-width="0.6"/>
<circle cx="388.2" cy="96.3" r="1.1" fill="#cacaca" stroke="#7e7e7e" stroke-width="0.6"/>
<circle cx="392.1" cy="97.6" r="1.4" fill="#cacaca" stroke="#7e7e7e" stroke-width="0.6"/>
<circle cx="395.8" cy="97.3" r="1.3" fill="#cacaca" stroke="#7e7e7e" stroke-width="0.6"/>
<circle cx="404.3" cy="97.3" r="1.1" fill="#cacaca" stroke="#7e7e7e" stroke-width="0.6"/>
<circle cx="407.6" cy="97.5" r="1.1" fill="#cacaca" stroke="#7e7e7e" stroke-width="0.6"/>
<circle cx="411.6" cy="96.2" r="1.4" fill="#cacaca" stroke="#7e7e7e" stroke-width="0.6"/>
<circle cx="414.2" cy="96.7" r="1.3" fill="#cacaca" stroke="#7e7e7e" stroke-width="0.6"/>
<circle cx="419.3" cy="96.2" r="1.4" fill="#cacaca" stroke="#7e7e7e" stroke-width="0.6"/>
<circle cx="423.1" cy="97.2" r="1.3" fill="#cacaca" stroke="#7e7e7e" stroke-width="0.6"/>
<circle cx="427.3" cy="97.8" r="1.4" fill="#cacaca" stroke="#7e7e7e" stroke-width="0.6"/>
<circle cx="430.2" cy="96.0" r="1.5" fill="#cacaca" stroke="#7e7e7e" stroke-width="0.6"/>
<circle cx="435.2" cy="96.6" r="1.3" fill="#cacaca" stroke="#7e7e7e" stroke-width="0.6"/>
<circle cx="442.6" cy="96.5" r="1.3" fill="#cacaca" stroke="#7e7e7e" stroke-width="0.6"/>
<circle cx="450.5" cy="97.1" r="1.5" fill="#cacaca" stroke="#7e7e7e" stroke-width="0.6"/>
<circle cx="377.6" cy="99.3" r="1.2" fill="#cacaca" stroke="#7e7e7e" stroke-width="0.6"/>
<circle cx="382.1" cy="100.9" r="1.5" fill="#cacaca" stroke="#7e7e7e" stroke-width="0.6"/>
<circle cx="386.5" cy="100.9" r="1.4" fill="#cacaca" stroke="#7e7e7e" stroke-width="0.6"/>
<circle cx="389.2" cy="101.0" r="1.4" fill="#cacaca" stroke="#7e7e7e" stroke-width="0.6"/>
<circle cx="394.4" cy="100.0" r="1.1" fill="#cacaca" stroke="#7e7e7e" stroke-width="0.6"/>
<circle cx="398.1" cy="99.7" r="1.4" fill="#cacaca" stroke="#7e7e7e" stroke-width="0.6"/>
<circle cx="405.5" cy="100.7" r="1.3" fill="#cacaca" stroke="#7e7e7e" stroke-width="0.6"/>
<circle cx="408.7" cy="100.8" r="1.4" fill="#cacaca" stroke="#7e7e7e" stroke-width="0.6"/>
<circle cx="412.3" cy="100.9" r="1.4" fill="#cacaca" stroke="#7e7e7e" stroke-width="0.6"/>
<circle cx="417.2" cy="101.1" r="1.5" fill="#cacaca" stroke="#7e7e7e" stroke-width="0.6"/>
<circle cx="420.9" cy="100.5" r="1.2" fill="#cacaca" stroke="#7e7e7e" stroke-width="0.6"/>
<circle cx="424.2" cy="100.7" r="1.2" fill="#cacaca" stroke="#7e7e7e" stroke-width="0.6"/>
<circle cx="428.5" cy="100.3" r="1.2" fill="#cacaca" stroke="#7e7e7e" stroke-width="0.6"/>
<circle cx="433.6" cy="100.1" r="1.1" fill="#cacaca" stroke="#7e7e7e" stroke-width="0.6"/>
<circle cx="437.1" cy="99.6" r="1.3" fill="#cacaca" stroke="#7e7e7e" stroke-width="0.6"/>
<circle cx="440.4" cy="99.3" r="1.1" fill="#cacaca" stroke="#7e7e7e" stroke-width="0.6"/>
<circle cx="448.2" cy="100.4" r="1.2" fill="#cacaca" stroke="#7e7e7e" stroke-width="0.6"/>
<circle cx="452.0" cy="101.2" r="1.4" fill="#cacaca" stroke="#7e7e7e" stroke-width="0.6"/>
<circle cx="380.9" cy="103.2" r="1.1" fill="#cacaca" stroke="#7e7e7e" stroke-width="0.6"/>
<circle cx="383.2" cy="102.9" r="1.1" fill="#cacaca" stroke="#7e7e7e" stroke-width="0.6"/>
<circle cx="388.5" cy="103.6" r="1.5" fill="#cacaca" stroke="#7e7e7e" stroke-width="0.6"/>
<circle cx="395.7" cy="103.5" r="1.1" fill="#cacaca" stroke="#7e7e7e" stroke-width="0.6"/>
<circle cx="403.5" cy="104.0" r="1.5" fill="#cacaca" stroke="#7e7e7e" stroke-width="0.6"/>
<circle cx="407.0" cy="103.6" r="1.2" fill="#cacaca" stroke="#7e7e7e" stroke-width="0.6"/>
<circle cx="418.0" cy="103.2" r="1.2" fill="#cacaca" stroke="#7e7e7e" stroke-width="0.6"/>
<circle cx="429.7" cy="104.3" r="1.4" fill="#cacaca" stroke="#7e7e7e" stroke-width="0.6"/>
<circle cx="435.5" cy="102.8" r="1.2" fill="#cacaca" stroke="#7e7e7e" stroke-width="0.6"/>
<circle cx="439.3" cy="104.1" r="1.2" fill="#cacaca" stroke="#7e7e7e" stroke-width="0.6"/>
<circle cx="442.9" cy="102.9" r="1.2" fill="#cacaca" stroke="#7e7e7e" stroke-width="0.6"/>
<circle cx="445.5" cy="103.7" r="1.2" fill="#cacaca" stroke="#7e7e7e" stroke-width="0.6"/>
<circle cx="449.4" cy="104.1" r="1.1" fill="#cacaca" stroke="#7e7e7e" stroke-width="0.6"/>
<circle cx="377.4" cy="106.2" r="1.5" fill="#cacaca" stroke="#7e7e7e" stroke-width="0.6"/>
<circle cx="382.8" cy="107.8" r="1.5" fill="#cacaca" stroke="#7e7e7e" stroke-width="0.6"/>
<circle cx="385.7" cy="106.3" r="1.5" fill="#cacaca" stroke="#7e7e7e" stroke-width="0.6"/>
<circle cx="390.0" cy="107.0" r="1.2" fill="#cacaca" stroke="#7e7e7e" stroke-width="0.6"/>
<circle cx="393.6" cy="107.4" r="1.2" fill="#cacaca" stroke="#7e7e7e" stroke-width="0.6"/>
<circle cx="396.6" cy="107.5" r="1.3" fill="#cacaca" stroke="#7e7e7e" stroke-width="0.6"/>
<circle cx="402.1" cy="106.6" r="1.3" fill="#cacaca" stroke="#7e7e7e" stroke-width="0.6"/>
<circle cx="404.8" cy="107.8" r="1.2" fill="#cacaca" stroke="#7e7e7e" stroke-width="0.6"/>
<circle cx="409.2" cy="106.7" r="1.5" fill="#cacaca" stroke="#7e7e7e" stroke-width="0.6"/>
<circle cx="414.1" cy="106.2" r="1.5" fill="#cacaca" stroke="#7e7e7e" stroke-width="0.6"/>
<circle cx="416.4" cy="107.0" r="1.2" fill="#cacaca" stroke="#7e7e7e" stroke-width="0.6"/>
<circle cx="420.3" cy="106.8" r="1.5" fill="#cacaca" stroke="#7e7e7e" stroke-width="0.6"/>
<circle cx="432.2" cy="107.9" r="1.1" fill="#cacaca" stroke="#7e7e7e" stroke-width="0.6"/>
<circle cx="436.1" cy="108.1" r="1.1" fill="#cacaca" stroke="#7e7e7e" stroke-width="0.6"/>
<circle cx="440.1" cy="106.4" r="1.1" fill="#cacaca" stroke="#7e7e7e" stroke-width="0.6"/>
<circle cx="444.4" cy="106.5" r="1.3" fill="#cacaca" stroke="#7e7e7e" stroke-width="0.6"/>
<circle cx="452.2" cy="106.4" r="1.2" fill="#cacaca" stroke="#7e7e7e" stroke-width="0.6"/>
<circle cx="380.4" cy="109.9" r="1.1" fill="#cacaca" stroke="#7e7e7e" stroke-width="0.6"/>
<circle cx="384.1" cy="110.5" r="1.2" fill="#cacaca" stroke="#7e7e7e" stroke-width="0.6"/>
<circle cx="388.0" cy="110.9" r="1.4" fill="#cacaca" stroke="#7e7e7e" stroke-width="0.6"/>
<circle cx="391.1" cy="109.6" r="1.4" fill="#cacaca" stroke="#7e7e7e" stroke-width="0.6"/>
<circle cx="396.0" cy="109.6" r="1.4" fill="#cacaca" stroke="#7e7e7e" stroke-width="0.6"/>
<circle cx="400.1" cy="111.2" r="1.3" fill="#cacaca" stroke="#7e7e7e" stroke-width="0.6"/>
<circle cx="404.2" cy="110.4" r="1.4" fill="#cacaca" stroke="#7e7e7e" stroke-width="0.6"/>
<circle cx="406.6" cy="111.2" r="1.2" fill="#cacaca" stroke="#7e7e7e" stroke-width="0.6"/>
<circle cx="410.9" cy="110.7" r="1.1" fill="#cacaca" stroke="#7e7e7e" stroke-width="0.6"/>
<circle cx="414.9" cy="110.5" r="1.1" fill="#cacaca" stroke="#7e7e7e" stroke-width="0.6"/>
<circle cx="419.6" cy="111.2" r="1.2" fill="#cacaca" stroke="#7e7e7e" stroke-width="0.6"/>
<circle cx="422.6" cy="111.0" r="1.1" fill="#cacaca" stroke="#7e7e7e" stroke-width="0.6"/>
<circle cx="427.7" cy="110.5" r="1.3" fill="#cacaca" stroke="#7e7e7e" stroke-width="0.6"/>
<circle cx="430.7" cy="109.5" r="1.5" fill="#cacaca" stroke="#7e7e7e" stroke-width="0.6"/>
<circle cx="433.9" cy="109.7" r="1.2" fill="#cacaca" stroke="#7e7e7e" stroke-width="0.6"/>
<circle cx="437.5" cy="109.7" r="1.4" fill="#cacaca" stroke="#7e7e7e" stroke-width="0.6"/>
<circle cx="441.4" cy="110.7" r="1.3" fill="#cacaca" stroke="#7e7e7e" stroke-width="0.6"/>
<circle cx="446.7" cy="109.7" r="1.4" fill="#cacaca" stroke="#7e7e7e" stroke-width="0.6"/>
<circle cx="449.2" cy="109.7" r="1.3" fill="#cacaca" stroke="#7e7e7e" stroke-width="0.6"/>
<circle cx="377.6" cy="113.1" r="1.3" fill="#cacaca" stroke="#7e7e7e" stroke-width="0.6"/>
<circle cx="382.1" cy="114.6" r="1.2" fill="#cacaca" stroke="#7e7e7e" stroke-width="0.6"/>
<circle cx="386.3" cy="113.2" r="1.4" fill="#cacaca" stroke="#7e7e7e" stroke-width="0.6"/>
<circle cx="393.4" cy="114.6" r="1.3" fill="#cacaca" stroke="#7e7e7e" stroke-width="0.6"/>
<circle cx="398.4" cy="114.4" r="1.2" fill="#cacaca" stroke="#7e7e7e" stroke-width="0.6"/>
<circle cx="401.1" cy="113.8" r="1.5" fill="#cacaca" stroke="#7e7e7e" stroke-width="0.6"/>
<circle cx="406.1" cy="114.5" r="1.4" fill="#cacaca" stroke="#7e7e7e" stroke-width="0.6"/>
<circle cx="409.2" cy="114.8" r="1.5" fill="#cacaca" stroke="#7e7e7e" stroke-width="0.6"/>
<circle cx="412.9" cy="114.1" r="1.2" fill="#cacaca" stroke="#7e7e7e" stroke-width="0.6"/>
<circle cx="416.1" cy="113.7" r="1.3" fill="#cacaca" stroke="#7e7e7e" stroke-width="0.6"/>
<circle cx="420.2" cy="114.8" r="1.4" fill="#cacaca" stroke="#7e7e7e" stroke-width="0.6"/>
<circle cx="429.3" cy="114.6" r="1.5" fill="#cacaca" stroke="#7e7e7e" stroke-width="0.6"/>
<circle cx="432.9" cy="113.4" r="1.4" fill="#cacaca" stroke="#7e7e7e" stroke-width="0.6"/>
<circle cx="436.6" cy="114.7" r="1.3" fill="#cacaca" stroke="#7e7e7e" stroke-width="0.6"/>
<circle cx="440.4" cy="113.7" r="1.5" fill="#cacaca" stroke="#7e7e7e" stroke-width="0.6"/>
<circle cx="443.9" cy="114.2" r="1.1" fill="#cacaca" stroke="#7e7e7e" stroke-width="0.6"/>
<circle cx="449.1" cy="113.9" r="1.2" fill="#cacaca" stroke="#7e7e7e" stroke-width="0.6"/>
<circle cx="452.2" cy="113.2" r="1.1" fill="#cacaca" stroke="#7e7e7e" stroke-width="0.6"/>
<circle cx="379.5" cy="117.1" r="1.2" fill="#cacaca" stroke="#7e7e7e" stroke-width="0.6"/>
<circle cx="383.0" cy="117.4" r="1.4" fill="#cacaca" stroke="#7e7e7e" stroke-width="0.6"/>
<circle cx="387.9" cy="117.6" r="1.2" fill="#cacaca" stroke="#7e7e7e" stroke-width="0.6"/>
<circle cx="391.6" cy="117.4" r="1.3" fill="#cacaca" stroke="#7e7e7e" stroke-width="0.6"/>
<circle cx="395.2" cy="116.8" r="1.2" fill="#cacaca" stroke="#7e7e7e" stroke-width="0.6"/>
<circle cx="399.2" cy="117.4" r="1.1" fill="#cacaca" stroke="#7e7e7e" stroke-width="0.6"/>
<circle cx="404.1" cy="116.8" r="1.3" fill="#cacaca" stroke="#7e7e7e" stroke-width="0.6"/>
<circle cx="406.8" cy="118.2" r="1.2" fill="#cacaca" stroke="#7e7e7e" stroke-width="0.6"/>
<circle cx="410.5" cy="116.4" r="1.4" fill="#cacaca" stroke="#7e7e7e" stroke-width="0.6"/>
<circle cx="414.2" cy="117.0" r="1.3" fill="#cacaca" stroke="#7e7e7e" stroke-width="0.6"/>
<circle cx="418.2" cy="116.7" r="1.5" fill="#cacaca" stroke="#7e7e7e" stroke-width="0.6"/>
<circle cx="422.2" cy="116.9" r="1.2" fill="#cacaca" stroke="#7e7e7e" stroke-width="0.6"/>
<circle cx="427.0" cy="118.0" r="1.4" fill="#cacaca" stroke="#7e7e7e" stroke-width="0.6"/>
<circle cx="431.1" cy="117.8" r="1.4" fill="#cacaca" stroke="#7e7e7e" stroke-width="0.6"/>
<circle cx="435.1" cy="117.7" r="1.5" fill="#cacaca" stroke="#7e7e7e" stroke-width="0.6"/>
<circle cx="439.2" cy="116.3" r="1.4" fill="#cacaca" stroke="#7e7e7e" stroke-width="0.6"/>
<circle cx="442.3" cy="118.2" r="1.3" fill="#cacaca" stroke="#7e7e7e" stroke-width="0.6"/>
<circle cx="446.8" cy="118.0" r="1.3" fill="#cacaca" stroke="#7e7e7e" stroke-width="0.6"/>
<circle cx="450.1" cy="117.2" r="1.4" fill="#cacaca" stroke="#7e7e7e" stroke-width="0.6"/>
<circle cx="377.8" cy="120.8" r="1.3" fill="#cacaca" stroke="#7e7e7e" stroke-width="0.6"/>
<circle cx="382.5" cy="121.4" r="1.3" fill="#cacaca" stroke="#7e7e7e" stroke-width="0.6"/>
<circle cx="385.2" cy="120.3" r="1.2" fill="#cacaca" stroke="#7e7e7e" stroke-width="0.6"/>
<circle cx="389.9" cy="119.8" r="1.5" fill="#cacaca" stroke="#7e7e7e" stroke-width="0.6"/>
<circle cx="394.3" cy="121.3" r="1.5" fill="#cacaca" stroke="#7e7e7e" stroke-width="0.6"/>
<circle cx="397.4" cy="121.5" r="1.1" fill="#cacaca" stroke="#7e7e7e" stroke-width="0.6"/>
<circle cx="401.5" cy="120.7" r="1.5" fill="#cacaca" stroke="#7e7e7e" stroke-width="0.6"/>
<circle cx="405.4" cy="121.7" r="1.3" fill="#cacaca" stroke="#7e7e7e" stroke-width="0.6"/>
<circle cx="409.6" cy="120.4" r="1.2" fill="#cacaca" stroke="#7e7e7e" stroke-width="0.6"/>
<circle cx="412.8" cy="121.6" r="1.4" fill="#cacaca" stroke="#7e7e7e" stroke-width="0.6"/>
<circle cx="416.2" cy="120.4" r="1.3" fill="#cacaca" stroke="#7e7e7e" stroke-width="0.6"/>
<circle cx="421.0" cy="121.4" r="1.5" fill="#cacaca" stroke="#7e7e7e" stroke-width="0.6"/>
<circle cx="424.7" cy="120.9" r="1.5" fill="#cacaca" stroke="#7e7e7e" stroke-width="0.6"/>
<circle cx="428.8" cy="121.3" r="1.2" fill="#cacaca" stroke="#7e7e7e" stroke-width="0.6"/>
<circle cx="433.6" cy="121.3" r="1.3" fill="#cacaca" stroke="#7e7e7e" stroke-width="0.6"/>
<circle cx="437.3" cy="121.0" r="1.4" fill="#cacaca" stroke="#7e7e7e" stroke-width="0.6"/>
<circle cx="447.5" cy="120.2" r="1.3" fill="#cacaca" stroke="#7e7e7e" stroke-width="0.6"/>
<circle cx="451.5" cy="120.0" r="1.4" fill="#cacaca" stroke="#7e7e7e" stroke-width="0.6"/>
<circle cx="379.7" cy="125.0" r="1.4" fill="#cacaca" stroke="#7e7e7e" stroke-width="0.6"/>
<circle cx="383.7" cy="124.6" r="1.2" fill="#cacaca" stroke="#7e7e7e" stroke-width="0.6"/>
<circle cx="386.8" cy="123.7" r="1.4" fill="#cacaca" stroke="#7e7e7e" stroke-width="0.6"/>
<circle cx="392.0" cy="123.5" r="1.3" fill="#cacaca" stroke="#7e7e7e" stroke-width="0.6"/>
<circle cx="395.1" cy="124.4" r="1.3" fill="#cacaca" stroke="#7e7e7e" stroke-width="0.6"/>
<circle cx="403.2" cy="123.3" r="1.2" fill="#cacaca" stroke="#7e7e7e" stroke-width="0.6"/>
<circle cx="406.5" cy="123.3" r="1.2" fill="#cacaca" stroke="#7e7e7e" stroke-width="0.6"/>
<circle cx="411.8" cy="124.3" r="1.4" fill="#cacaca" stroke="#7e7e7e" stroke-width="0.6"/>
<circle cx="414.1" cy="124.6" r="1.2" fill="#cacaca" stroke="#7e7e7e" stroke-width="0.6"/>
<circle cx="418.7" cy="123.4" r="1.2" fill="#cacaca" stroke="#7e7e7e" stroke-width="0.6"/>
<circle cx="423.7" cy="124.2" r="1.2" fill="#cacaca" stroke="#7e7e7e" stroke-width="0.6"/>
<circle cx="426.5" cy="123.2" r="1.5" fill="#cacaca" stroke="#7e7e7e" stroke-width="0.6"/>
<circle cx="431.6" cy="123.9" r="1.3" fill="#cacaca" stroke="#7e7e7e" stroke-width="0.6"/>
<circle cx="433.6" cy="124.9" r="1.4" fill="#cacaca" stroke="#7e7e7e" stroke-width="0.6"/>
<circle cx="439.2" cy="124.7" r="1.2" fill="#cacaca" stroke="#7e7e7e" stroke-width="0.6"/>
<circle cx="443.3" cy="124.1" r="1.5" fill="#cacaca" stroke="#7e7e7e" stroke-width="0.6"/>
<circle cx="446.0" cy="124.5" r="1.2" fill="#cacaca" stroke="#7e7e7e" stroke-width="0.6"/>
<circle cx="450.9" cy="124.0" r="1.4" fill="#cacaca" stroke="#7e7e7e" stroke-width="0.6"/>
<circle cx="377.3" cy="127.2" r="1.2" fill="#cacaca" stroke="#7e7e7e" stroke-width="0.6"/>
<circle cx="385.9" cy="126.7" r="1.3" fill="#cacaca" stroke="#7e7e7e" stroke-width="0.6"/>
<circle cx="389.5" cy="126.6" r="1.1" fill="#cacaca" stroke="#7e7e7e" stroke-width="0.6"/>
<circle cx="393.3" cy="126.9" r="1.2" fill="#cacaca" stroke="#7e7e7e" stroke-width="0.6"/>
<circle cx="397.0" cy="126.5" r="1.4" fill="#cacaca" stroke="#7e7e7e" stroke-width="0.6"/>
<circle cx="400.7" cy="127.9" r="1.1" fill="#cacaca" stroke="#7e7e7e" stroke-width="0.6"/>
<circle cx="406.0" cy="126.7" r="1.3" fill="#cacaca" stroke="#7e7e7e" stroke-width="0.6"/>
<circle cx="409.8" cy="126.8" r="1.2" fill="#cacaca" stroke="#7e7e7e" stroke-width="0.6"/>
<circle cx="412.9" cy="128.4" r="1.2" fill="#cacaca" stroke="#7e7e7e" stroke-width="0.6"/>
<circle cx="420.4" cy="127.4" r="1.2" fill="#cacaca" stroke="#7e7e7e" stroke-width="0.6"/>
<circle cx="424.3" cy="128.3" r="1.3" fill="#cacaca" stroke="#7e7e7e" stroke-width="0.6"/>
<circle cx="428.2" cy="127.7" r="1.2" fill="#cacaca" stroke="#7e7e7e" stroke-width="0.6"/>
<circle cx="431.8" cy="127.5" r="1.3" fill="#cacaca" stroke="#7e7e7e" stroke-width="0.6"/>
<circle cx="437.0" cy="127.2" r="1.4" fill="#cacaca" stroke="#7e7e7e" stroke-width="0.6"/>
<circle cx="440.0" cy="127.2" r="1.1" fill="#cacaca" stroke="#7e7e7e" stroke-width="0.6"/>
<circle cx="445.0" cy="127.1" r="1.4" fill="#cacaca" stroke="#7e7e7e" stroke-width="0.6"/>
<circle cx="448.3" cy="127.2" r="1.3" fill="#cacaca" stroke="#7e7e7e" stroke-width="0.6"/>
<circle cx="451.2" cy="127.1" r="1.2" fill="#cacaca" stroke="#7e7e7e" stroke-width="0.6"/>
<circle cx="380.4" cy="130.4" r="1.3" fill="#cacaca" stroke="#7e7e7e" stroke-width="0.6"/>
<circle cx="388.5" cy="131.6" r="1.2" fill="#cacaca" stroke="#7e7e7e" stroke-width="0.6"/>
<circle cx="390.7" cy="131.2" r="1.4" fill="#cacaca" stroke="#7e7e7e" stroke-width="0.6"/>
<circle cx="395.4" cy="131.2" r="1.4" fill="#cacaca" stroke="#7e7e7e" stroke-width="0.6"/>
<circle cx="400.1" cy="130.5" r="1.4" fill="#cacaca" stroke="#7e7e7e" stroke-width="0.6"/>
<circle cx="402.6" cy="131.7" r="1.4" fill="#cacaca" stroke="#7e7e7e" stroke-width="0.6"/>
<circle cx="406.3" cy="129.9" r="1.2" fill="#cacaca" stroke="#7e7e7e" stroke-width="0.6"/>
<circle cx="410.8" cy="130.6" r="1.1" fill="#cacaca" stroke="#7e7e7e" stroke-width="0.6"/>
<circle cx="415.3" cy="130.2" r="1.4" fill="#cacaca" stroke="#7e7e7e" stroke-width="0.6"/>
<circle cx="419.4" cy="130.4" r="1.3" fill="#cacaca" stroke="#7e7e7e" stroke-width="0.6"/>
<circle cx="422.5" cy="129.8" r="1.4" fill="#cacaca" stroke="#7e7e7e" stroke-width="0.6"/>
<circle cx="426.3" cy="129.9" r="1.4" fill="#cacaca" stroke="#7e7e7e" stroke-width="0.6"/>
<circle cx="429.7" cy="130.3" r="1.1" fill="#cacaca" stroke="#7e7e7e" stroke-width="0.6"/>
<circle cx="434.0" cy="131.7" r="1.4" fill="#cacaca" stroke="#7e7e7e" stroke-width="0.6"/>
<circle cx="438.8" cy="130.6" r="1.4" fill="#cacaca" stroke="#7e7e7e" stroke-width="0.6"/>
<circle cx="441.9" cy="130.0" r="1.5" fill="#cacaca" stroke="#7e7e7e" stroke-width="0.6"/>
<circle cx="447.1" cy="131.2" r="1.4" fill="#cacaca" stroke="#7e7e7e" stroke-width="0.6"/>
<circle cx="450.4" cy="130.8" r="1.1" fill="#cacaca" stroke="#7e7e7e" stroke-width="0.6"/>
<circle cx="427.7" cy="99.6" r="0.6" fill="#666"/>
<circle cx="444.1" cy="84.4" r="0.7" fill="#666"/>
<circle cx="381.1" cy="113.5" r="0.7" fill="#666"/>
<circle cx="396.6" cy="105.6" r="0.8" fill="#666"/>
<circle cx="423.4" cy="105.5" r="0.5" fill="#666"/>
<circle cx="382.2" cy="96.1" r="0.6" fill="#666"/>
<circle cx="392.3" cy="93.7" r="0.5" fill="#666"/>
<circle cx="428.3" cy="111.9" r="0.5" fill="#666"/>
<circle cx="395.2" cy="104.0" r="0.6" fill="#666"/>
<circle cx="444.6" cy="95.7" r="0.5" fill="#666"/>
<circle cx="441.0" cy="85.2" r="0.6" fill="#666"/>
<circle cx="401.8" cy="119.2" r="0.6" fill="#666"/>
<circle cx="432.1" cy="86.5" r="0.7" fill="#666"/>
<circle cx="420.6" cy="101.3" r="0.7" fill="#666"/>
<circle cx="437.2" cy="83.8" r="0.5" fill="#666"/>
<circle cx="403.7" cy="88.4" r="0.4" fill="#666"/>
<circle cx="398.0" cy="88.0" r="0.7" fill="#666"/>
<circle cx="409.9" cy="83.7" r="0.5" fill="#666"/>
<circle cx="411.4" cy="96.3" r="0.5" fill="#666"/>
<circle cx="383.1" cy="78.5" r="0.8" fill="#666"/>
<circle cx="431.4" cy="82.2" r="0.7" fill="#666"/>
<circle cx="447.8" cy="106.5" r="0.4" fill="#666"/>
<circle cx="412.8" cy="99.9" r="0.5" fill="#666"/>
<circle cx="416.7" cy="78.4" r="0.8" fill="#666"/>
<circle cx="423.9" cy="109.7" r="0.8" fill="#666"/>
</g></g></g>
<g><rect x="451.7" y="78" width="67.30000000000001" height="50.80000000000001" fill="#adadad"/>
<clipPath id="g45178"><rect x="451.7" y="78" width="67.30000000000001" height="50.80000000000001"/></clipPath><g clip-path="url(#g45178)"><g filter="url(#mb)">
<circle cx="451.2" cy="79.4" r="1.1" fill="#b5b5b5" stroke="#727272" stroke-width="0.6"/>
<circle cx="456.0" cy="80.6" r="1.1" fill="#b5b5b5" stroke="#727272" stroke-width="0.6"/>
<circle cx="459.6" cy="80.6" r="1.4" fill="#b5b5b5" stroke="#727272" stroke-width="0.6"/>
<circle cx="463.7" cy="80.6" r="1.3" fill="#b5b5b5" stroke="#727272" stroke-width="0.6"/>
<circle cx="466.3" cy="80.6" r="1.1" fill="#b5b5b5" stroke="#727272" stroke-width="0.6"/>
<circle cx="470.8" cy="79.6" r="1.3" fill="#b5b5b5" stroke="#727272" stroke-width="0.6"/>
<circle cx="473.6" cy="80.0" r="1.3" fill="#b5b5b5" stroke="#727272" stroke-width="0.6"/>
<circle cx="478.7" cy="80.7" r="1.4" fill="#b5b5b5" stroke="#727272" stroke-width="0.6"/>
<circle cx="482.1" cy="79.2" r="1.1" fill="#b5b5b5" stroke="#727272" stroke-width="0.6"/>
<circle cx="485.1" cy="80.3" r="1.1" fill="#b5b5b5" stroke="#727272" stroke-width="0.6"/>
<circle cx="490.6" cy="79.1" r="1.0" fill="#b5b5b5" stroke="#727272" stroke-width="0.6"/>
<circle cx="492.9" cy="80.3" r="1.0" fill="#b5b5b5" stroke="#727272" stroke-width="0.6"/>
<circle cx="498.0" cy="80.5" r="1.2" fill="#b5b5b5" stroke="#727272" stroke-width="0.6"/>
<circle cx="501.4" cy="79.9" r="1.2" fill="#b5b5b5" stroke="#727272" stroke-width="0.6"/>
<circle cx="504.8" cy="80.2" r="1.3" fill="#b5b5b5" stroke="#727272" stroke-width="0.6"/>
<circle cx="512.1" cy="79.8" r="1.2" fill="#b5b5b5" stroke="#727272" stroke-width="0.6"/>
<circle cx="515.7" cy="79.1" r="1.1" fill="#b5b5b5" stroke="#727272" stroke-width="0.6"/>
<circle cx="521.0" cy="80.7" r="1.3" fill="#b5b5b5" stroke="#727272" stroke-width="0.6"/>
<circle cx="461.8" cy="82.3" r="1.3" fill="#b5b5b5" stroke="#727272" stroke-width="0.6"/>
<circle cx="464.6" cy="83.3" r="1.4" fill="#b5b5b5" stroke="#727272" stroke-width="0.6"/>
<circle cx="469.1" cy="82.8" r="1.1" fill="#b5b5b5" stroke="#727272" stroke-width="0.6"/>
<circle cx="475.8" cy="83.6" r="1.2" fill="#b5b5b5" stroke="#727272" stroke-width="0.6"/>
<circle cx="480.5" cy="83.0" r="1.2" fill="#b5b5b5" stroke="#727272" stroke-width="0.6"/>
<circle cx="484.1" cy="83.3" r="1.2" fill="#b5b5b5" stroke="#727272" stroke-width="0.6"/>
<circle cx="487.2" cy="84.0" r="1.2" fill="#b5b5b5" stroke="#727272" stroke-width="0.6"/>
<circle cx="492.3" cy="82.7" r="1.0" fill="#b5b5b5" stroke="#727272" stroke-width="0.6"/>
<circle cx="494.9" cy="83.2" r="1.2" fill="#b5b5b5" stroke="#727272" stroke-width="0.6"/>
<circle cx="499.3" cy="82.4" r="1.2" fill="#b5b5b5" stroke="#727272" stroke-width="0.6"/>
<circle cx="502.2" cy="83.0" r="1.0" fill="#b5b5b5" stroke="#727272" stroke-width="0.6"/>
<circle cx="507.5" cy="83.3" r="1.3" fill="#b5b5b5" stroke="#727272" stroke-width="0.6"/>
<circle cx="509.8" cy="84.2" r="1.3" fill="#b5b5b5" stroke="#727272" stroke-width="0.6"/>
<circle cx="515.1" cy="83.0" r="1.1" fill="#b5b5b5" stroke="#727272" stroke-width="0.6"/>
<circle cx="522.5" cy="82.5" r="1.3" fill="#b5b5b5" stroke="#727272" stroke-width="0.6"/>
<circle cx="451.2" cy="86.3" r="1.0" fill="#b5b5b5" stroke="#727272" stroke-width="0.6"/>
<circle cx="454.9" cy="86.1" r="1.3" fill="#b5b5b5" stroke="#727272" stroke-width="0.6"/>
<circle cx="460.1" cy="86.8" r="1.3" fill="#b5b5b5" stroke="#727272" stroke-width="0.6"/>
<circle cx="463.9" cy="87.3" r="1.1" fill="#b5b5b5" stroke="#727272" stroke-width="0.6"/>
<circle cx="466.6" cy="87.0" r="1.3" fill="#b5b5b5" stroke="#727272" stroke-width="0.6"/>
<circle cx="469.9" cy="86.3" r="1.3" fill="#b5b5b5" stroke="#727272" stroke-width="0.6"/>
<circle cx="477.4" cy="86.7" r="1.0" fill="#b5b5b5" stroke="#727272" stroke-width="0.6"/>
<circle cx="482.7" cy="85.7" r="1.4" fill="#b5b5b5" stroke="#727272" stroke-width="0.6"/>
<circle cx="485.4" cy="85.9" r="1.2" fill="#b5b5b5" stroke="#727272" stroke-width="0.6"/>
<circle cx="489.9" cy="85.7" r="1.0" fill="#b5b5b5" stroke="#727272" stroke-width="0.6"/>
<circle cx="494.1" cy="85.9" r="1.2" fill="#b5b5b5" stroke="#727272" stroke-width="0.6"/>
<circle cx="497.7" cy="86.3" r="1.1" fill="#b5b5b5" stroke="#727272" stroke-width="0.6"/>
<circle cx="501.2" cy="86.9" r="1.3" fill="#b5b5b5" stroke="#727272" stroke-width="0.6"/>
<circle cx="508.4" cy="85.8" r="1.2" fill="#b5b5b5" stroke="#727272" stroke-width="0.6"/>
<circle cx="513.1" cy="85.6" r="1.1" fill="#b5b5b5" stroke="#727272" stroke-width="0.6"/>
<circle cx="516.7" cy="86.3" r="1.2" fill="#b5b5b5" stroke="#727272" stroke-width="0.6"/>
<circle cx="520.8" cy="86.3" r="1.3" fill="#b5b5b5" stroke="#727272" stroke-width="0.6"/>
<circle cx="452.8" cy="89.5" r="1.1" fill="#b5b5b5" stroke="#727272" stroke-width="0.6"/>
<circle cx="460.3" cy="89.2" r="1.1" fill="#b5b5b5" stroke="#727272" stroke-width="0.6"/>
<circle cx="465.2" cy="89.6" r="1.1" fill="#b5b5b5" stroke="#727272" stroke-width="0.6"/>
<circle cx="469.0" cy="89.5" r="1.0" fill="#b5b5b5" stroke="#727272" stroke-width="0.6"/>
<circle cx="473.6" cy="88.9" r="1.1" fill="#b5b5b5" stroke="#727272" stroke-width="0.6"/>
<circle cx="475.9" cy="89.4" r="1.2" fill="#b5b5b5" stroke="#727272" stroke-width="0.6"/>
<circle cx="480.3" cy="89.9" r="1.4" fill="#b5b5b5" stroke="#727272" stroke-width="0.6"/>
<circle cx="487.9" cy="90.4" r="1.3" fill="#b5b5b5" stroke="#727272" stroke-width="0.6"/>
<circle cx="491.9" cy="90.1" r="1.1" fill="#b5b5b5" stroke="#727272" stroke-width="0.6"/>
<circle cx="496.0" cy="90.6" r="1.4" fill="#b5b5b5" stroke="#727272" stroke-width="0.6"/>
<circle cx="498.8" cy="90.3" r="1.3" fill="#b5b5b5" stroke="#727272" stroke-width="0.6"/>
<circle cx="503.3" cy="89.5" r="1.2" fill="#b5b5b5" stroke="#727272" stroke-width="0.6"/>
<circle cx="505.9" cy="89.5" r="1.1" fill="#b5b5b5" stroke="#727272" stroke-width="0.6"/>
<circle cx="514.1" cy="89.3" r="1.1" fill="#b5b5b5" stroke="#727272" stroke-width="0.6"/>
<circle cx="517.5" cy="88.8" r="1.3" fill="#b5b5b5" stroke="#727272" stroke-width="0.6"/>
<circle cx="521.9" cy="90.0" r="1.1" fill="#b5b5b5" stroke="#727272" stroke-width="0.6"/>
<circle cx="450.8" cy="92.7" r="1.1" fill="#b5b5b5" stroke="#727272" stroke-width="0.6"/>
<circle cx="455.6" cy="94.0" r="1.1" fill="#b5b5b5" stroke="#727272" stroke-width="0.6"/>
<circle cx="462.3" cy="92.5" r="1.2" fill="#b5b5b5" stroke="#727272" stroke-width="0.6"/>
<circle cx="471.2" cy="93.0" r="1.3" fill="#b5b5b5" stroke="#727272" stroke-width="0.6"/>
<circle cx="474.5" cy="93.9" r="1.1" fill="#b5b5b5" stroke="#727272" stroke-width="0.6"/>
<circle cx="477.3" cy="92.5" r="1.1" fill="#b5b5b5" stroke="#727272" stroke-width="0.6"/>
<circle cx="481.5" cy="92.9" r="1.1" fill="#b5b5b5" stroke="#727272" stroke-width="0.6"/>
<circle cx="486.6" cy="93.4" r="1.1" fill="#b5b5b5" stroke="#727272" stroke-width="0.6"/>
<circle cx="490.6" cy="93.3" r="1.0" fill="#b5b5b5" stroke="#727272" stroke-width="0.6"/>
<circle cx="494.3" cy="92.8" r="1.1" fill="#b5b5b5" stroke="#727272" stroke-width="0.6"/>
<circle cx="497.4" cy="93.9" r="1.3" fill="#b5b5b5" stroke="#727272" stroke-width="0.6"/>
<circle cx="504.6" cy="93.6" r="1.3" fill="#b5b5b5" stroke="#727272" stroke-width="0.6"/>
<circle cx="509.1" cy="92.8" r="1.0" fill="#b5b5b5" stroke="#727272" stroke-width="0.6"/>
<circle cx="511.6" cy="93.4" r="1.1" fill="#b5b5b5" stroke="#727272" stroke-width="0.6"/>
<circle cx="516.5" cy="92.6" r="1.2" fill="#b5b5b5" stroke="#727272" stroke-width="0.6"/>
<circle cx="521.0" cy="93.3" r="1.4" fill="#b5b5b5" stroke="#727272" stroke-width="0.6"/>
<circle cx="453.8" cy="96.9" r="1.1" fill="#b5b5b5" stroke="#727272" stroke-width="0.6"/>
<circle cx="456.7" cy="95.7" r="1.3" fill="#b5b5b5" stroke="#727272" stroke-width="0.6"/>
<circle cx="461.8" cy="96.3" r="1.2" fill="#b5b5b5" stroke="#727272" stroke-width="0.6"/>
<circle cx="465.1" cy="96.7" r="1.2" fill="#b5b5b5" stroke="#727272" stroke-width="0.6"/>
<circle cx="469.3" cy="95.9" r="1.3" fill="#b5b5b5" stroke="#727272" stroke-width="0.6"/>
<circle cx="473.2" cy="96.0" r="1.3" fill="#b5b5b5" stroke="#727272" stroke-width="0.6"/>
<circle cx="479.8" cy="96.5" r="1.4" fill="#b5b5b5" stroke="#727272" stroke-width="0.6"/>
<circle cx="483.0" cy="96.4" r="1.3" fill="#b5b5b5" stroke="#727272" stroke-width="0.6"/>
<circle cx="487.5" cy="97.4" r="1.1" fill="#b5b5b5" stroke="#727272" stroke-width="0.6"/>
<circle cx="490.8" cy="95.5" r="1.1" fill="#b5b5b5" stroke="#727272" stroke-width="0.6"/>
<circle cx="495.4" cy="96.5" r="1.1" fill="#b5b5b5" stroke="#727272" stroke-width="0.6"/>
<circle cx="502.3" cy="95.8" r="1.3" fill="#b5b5b5" stroke="#727272" stroke-width="0.6"/>
<circle cx="509.7" cy="97.0" r="1.1" fill="#b5b5b5" stroke="#727272" stroke-width="0.6"/>
<circle cx="518.5" cy="96.1" r="1.3" fill="#b5b5b5" stroke="#727272" stroke-width="0.6"/>
<circle cx="521.6" cy="97.2" r="1.0" fill="#b5b5b5" stroke="#727272" stroke-width="0.6"/>
<circle cx="450.8" cy="100.0" r="1.2" fill="#b5b5b5" stroke="#727272" stroke-width="0.6"/>
<circle cx="454.6" cy="99.9" r="1.2" fill="#b5b5b5" stroke="#727272" stroke-width="0.6"/>
<circle cx="466.3" cy="99.2" r="1.1" fill="#b5b5b5" stroke="#727272" stroke-width="0.6"/>
<circle cx="470.2" cy="99.1" r="1.3" fill="#b5b5b5" stroke="#727272" stroke-width="0.6"/>
<circle cx="474.1" cy="100.7" r="1.1" fill="#b5b5b5" stroke="#727272" stroke-width="0.6"/>
<circle cx="477.6" cy="100.5" r="1.3" fill="#b5b5b5" stroke="#727272" stroke-width="0.6"/>
<circle cx="482.6" cy="100.4" r="1.1" fill="#b5b5b5" stroke="#727272" stroke-width="0.6"/>
<circle cx="485.9" cy="100.5" r="1.1" fill="#b5b5b5" stroke="#727272" stroke-width="0.6"/>
<circle cx="489.9" cy="99.6" r="1.2" fill="#b5b5b5" stroke="#727272" stroke-width="0.6"/>
<circle cx="498.1" cy="99.5" r="1.3" fill="#b5b5b5" stroke="#727272" stroke-width="0.6"/>
<circle cx="500.5" cy="100.5" r="1.4" fill="#b5b5b5" stroke="#727272" stroke-width="0.6"/>
<circle cx="503.9" cy="99.0" r="1.4" fill="#b5b5b5" stroke="#727272" stroke-width="0.6"/>
<circle cx="509.5" cy="99.0" r="1.3" fill="#b5b5b5" stroke="#727272" stroke-width="0.6"/>
<circle cx="511.8" cy="100.1" r="1.0" fill="#b5b5b5" stroke="#727272" stroke-width="0.6"/>
<circle cx="517.1" cy="100.2" r="1.4" fill="#b5b5b5" stroke="#727272" stroke-width="0.6"/>
<circle cx="453.1" cy="103.6" r="1.3" fill="#b5b5b5" stroke="#727272" stroke-width="0.6"/>
<circle cx="457.4" cy="102.5" r="1.2" fill="#b5b5b5" stroke="#727272" stroke-width="0.6"/>
<circle cx="460.2" cy="104.0" r="1.1" fill="#b5b5b5" stroke="#727272" stroke-width="0.6"/>
<circle cx="464.2" cy="103.0" r="1.1" fill="#b5b5b5" stroke="#727272" stroke-width="0.6"/>
<circle cx="468.2" cy="103.4" r="1.1" fill="#b5b5b5" stroke="#727272" stroke-width="0.6"/>
<circle cx="472.6" cy="102.3" r="1.1" fill="#b5b5b5" stroke="#727272" stroke-width="0.6"/>
<circle cx="477.2" cy="102.7" r="1.1" fill="#b5b5b5" stroke="#727272" stroke-width="0.6"/>
<circle cx="487.3" cy="102.4" r="1.1" fill="#b5b5b5" stroke="#727272" stroke-width="0.6"/>
<circle cx="490.7" cy="103.1" r="1.2" fill="#b5b5b5" stroke="#727272" stroke-width="0.6"/>
<circle cx="495.1" cy="102.1" r="1.3" fill="#b5b5b5" stroke="#727272" stroke-width="0.6"/>
<circle cx="499.3" cy="103.1" r="1.3" fill="#b5b5b5" stroke="#727272" stroke-width="0.6"/>
<circle cx="507.2" cy="102.8" r="1.1" fill="#b5b5b5" stroke="#727272" stroke-width="0.6"/>
<circle cx="511.5" cy="102.8" r="1.2" fill="#b5b5b5" stroke="#727272" stroke-width="0.6"/>
<circle cx="513.7" cy="104.0" r="1.0" fill="#b5b5b5" stroke="#727272" stroke-width="0.6"/>
<circle cx="519.1" cy="102.6" r="1.2" fill="#b5b5b5" stroke="#727272" stroke-width="0.6"/>
<circle cx="521.5" cy="102.4" r="1.0" fill="#b5b5b5" stroke="#727272" stroke-width="0.6"/>
<circle cx="452.3" cy="107.2" r="1.0" fill="#b5b5b5" stroke="#727272" stroke-width="0.6"/>
<circle cx="455.1" cy="106.6" r="1.2" fill="#b5b5b5" stroke="#727272" stroke-width="0.6"/>
<circle cx="460.2" cy="105.3" r="1.3" fill="#b5b5b5" stroke="#727272" stroke-width="0.6"/>
<circle cx="463.1" cy="106.5" r="1.4" fill="#b5b5b5" stroke="#727272" stroke-width="0.6"/>
<circle cx="467.2" cy="106.8" r="1.2" fill="#b5b5b5" stroke="#727272" stroke-width="0.6"/>
<circle cx="470.5" cy="106.4" r="1.2" fill="#b5b5b5" stroke="#727272" stroke-width="0.6"/>
<circle cx="474.1" cy="106.6" r="1.2" fill="#b5b5b5" stroke="#727272" stroke-width="0.6"/>
<circle cx="478.5" cy="105.9" r="1.4" fill="#b5b5b5" stroke="#727272" stroke-width="0.6"/>
<circle cx="482.5" cy="106.4" r="1.2" fill="#b5b5b5" stroke="#727272" stroke-width="0.6"/>
<circle cx="485.2" cy="107.2" r="1.2" fill="#b5b5b5" stroke="#727272" stroke-width="0.6"/>
<circle cx="489.8" cy="107.0" r="1.1" fill="#b5b5b5" stroke="#727272" stroke-width="0.6"/>
<circle cx="494.1" cy="106.3" r="1.3" fill="#b5b5b5" stroke="#727272" stroke-width="0.6"/>
<circle cx="498.1" cy="107.1" r="1.0" fill="#b5b5b5" stroke="#727272" stroke-width="0.6"/>
<circle cx="501.8" cy="107.0" r="1.0" fill="#b5b5b5" stroke="#727272" stroke-width="0.6"/>
<circle cx="504.4" cy="105.6" r="1.1" fill="#b5b5b5" stroke="#727272" stroke-width="0.6"/>
<circle cx="508.7" cy="106.3" r="1.0" fill="#b5b5b5" stroke="#727272" stroke-width="0.6"/>
<circle cx="513.5" cy="106.7" r="1.2" fill="#b5b5b5" stroke="#727272" stroke-width="0.6"/>
<circle cx="516.9" cy="106.9" r="1.1" fill="#b5b5b5" stroke="#727272" stroke-width="0.6"/>
<circle cx="519.8" cy="106.4" r="1.1" fill="#b5b5b5" stroke="#727272" stroke-width="0.6"/>
<circle cx="453.3" cy="109.4" r="1.0" fill="#b5b5b5" stroke="#727272" stroke-width="0.6"/>
<circle cx="457.5" cy="108.8" r="1.1" fill="#b5b5b5" stroke="#727272" stroke-width="0.6"/>
<circle cx="460.7" cy="109.3" r="1.1" fill="#b5b5b5" stroke="#727272" stroke-width="0.6"/>
<circle cx="464.2" cy="109.9" r="1.3" fill="#b5b5b5" stroke="#727272" stroke-width="0.6"/>
<circle cx="468.6" cy="110.2" r="1.2" fill="#b5b5b5" stroke="#727272" stroke-width="0.6"/>
<circle cx="471.7" cy="109.5" r="1.1" fill="#b5b5b5" stroke="#727272" stroke-width="0.6"/>
<circle cx="476.0" cy="109.5" r="1.3" fill="#b5b5b5" stroke="#727272" stroke-width="0.6"/>
<circle cx="479.9" cy="109.4" r="1.2" fill="#b5b5b5" stroke="#727272" stroke-width="0.6"/>
<circle cx="488.7" cy="110.1" r="1.1" fill="#b5b5b5" stroke="#727272" stroke-width="0.6"/>
<circle cx="491.3" cy="108.8" r="1.3" fill="#b5b5b5" stroke="#727272" stroke-width="0.6"/>
<circle cx="495.5" cy="109.6" r="1.4" fill="#b5b5b5" stroke="#727272" stroke-width="0.6"/>
<circle cx="498.3" cy="109.8" r="1.2" fill="#b5b5b5" stroke="#727272" stroke-width="0.6"/>
<circle cx="503.7" cy="109.5" r="1.2" fill="#b5b5b5" stroke="#727272" stroke-width="0.6"/>
<circle cx="510.6" cy="109.7" r="1.3" fill="#b5b5b5" stroke="#727272" stroke-width="0.6"/>
<circle cx="514.9" cy="109.5" r="1.0" fill="#b5b5b5" stroke="#727272" stroke-width="0.6"/>
<circle cx="518.3" cy="110.2" r="1.3" fill="#b5b5b5" stroke="#727272" stroke-width="0.6"/>
<circle cx="521.4" cy="108.8" r="1.3" fill="#b5b5b5" stroke="#727272" stroke-width="0.6"/>
<circle cx="450.9" cy="113.5" r="1.2" fill="#b5b5b5" stroke="#727272" stroke-width="0.6"/>
<circle cx="455.9" cy="113.4" r="1.2" fill="#b5b5b5" stroke="#727272" stroke-width="0.6"/>
<circle cx="459.7" cy="112.8" r="1.2" fill="#b5b5b5" stroke="#727272" stroke-width="0.6"/>
<circle cx="467.6" cy="112.3" r="1.1" fill="#b5b5b5" stroke="#727272" stroke-width="0.6"/>
<circle cx="469.7" cy="113.9" r="1.1" fill="#b5b5b5" stroke="#727272" stroke-width="0.6"/>
<circle cx="474.1" cy="112.5" r="1.3" fill="#b5b5b5" stroke="#727272" stroke-width="0.6"/>
<circle cx="478.3" cy="112.8" r="1.0" fill="#b5b5b5" stroke="#727272" stroke-width="0.6"/>
<circle cx="482.8" cy="113.6" r="1.3" fill="#b5b5b5" stroke="#727272" stroke-width="0.6"/>
<circle cx="485.3" cy="112.1" r="1.2" fill="#b5b5b5" stroke="#727272" stroke-width="0.6"/>
<circle cx="489.6" cy="112.9" r="1.2" fill="#b5b5b5" stroke="#727272" stroke-width="0.6"/>
<circle cx="494.1" cy="112.4" r="1.4" fill="#b5b5b5" stroke="#727272" stroke-width="0.6"/>
<circle cx="496.4" cy="112.6" r="1.2" fill="#b5b5b5" stroke="#727272" stroke-width="0.6"/>
<circle cx="501.2" cy="112.6" r="1.1" fill="#b5b5b5" stroke="#727272" stroke-width="0.6"/>
<circle cx="504.5" cy="113.4" r="1.3" fill="#b5b5b5" stroke="#727272" stroke-width="0.6"/>
<circle cx="508.6" cy="113.8" r="1.2" fill="#b5b5b5" stroke="#727272" stroke-width="0.6"/>
<circle cx="511.6" cy="112.8" r="1.3" fill="#b5b5b5" stroke="#727272" stroke-width="0.6"/>
<circle cx="517.0" cy="112.1" r="1.2" fill="#b5b5b5" stroke="#727272" stroke-width="0.6"/>
<circle cx="520.9" cy="113.1" r="1.3" fill="#b5b5b5" stroke="#727272" stroke-width="0.6"/>
<circle cx="453.9" cy="116.6" r="1.1" fill="#b5b5b5" stroke="#727272" stroke-width="0.6"/>
<circle cx="458.1" cy="115.6" r="1.4" fill="#b5b5b5" stroke="#727272" stroke-width="0.6"/>
<circle cx="460.4" cy="115.5" r="1.3" fill="#b5b5b5" stroke="#727272" stroke-width="0.6"/>
<circle cx="469.1" cy="115.8" r="1.4" fill="#b5b5b5" stroke="#727272" stroke-width="0.6"/>
<circle cx="471.9" cy="115.4" r="1.3" fill="#b5b5b5" stroke="#727272" stroke-width="0.6"/>
<circle cx="477.1" cy="115.9" r="1.1" fill="#b5b5b5" stroke="#727272" stroke-width="0.6"/>
<circle cx="479.8" cy="116.4" r="1.1" fill="#b5b5b5" stroke="#727272" stroke-width="0.6"/>
<circle cx="488.5" cy="115.6" r="1.3" fill="#b5b5b5" stroke="#727272" stroke-width="0.6"/>
<circle cx="494.5" cy="116.0" r="1.3" fill="#b5b5b5" stroke="#727272" stroke-width="0.6"/>
<circle cx="499.3" cy="115.5" r="1.2" fill="#b5b5b5" stroke="#727272" stroke-width="0.6"/>
<circle cx="502.9" cy="116.6" r="1.0" fill="#b5b5b5" stroke="#727272" stroke-width="0.6"/>
<circle cx="506.0" cy="117.1" r="1.4" fill="#b5b5b5" stroke="#727272" stroke-width="0.6"/>
<circle cx="514.0" cy="116.0" r="1.3" fill="#b5b5b5" stroke="#727272" stroke-width="0.6"/>
<circle cx="519.1" cy="115.5" r="1.2" fill="#b5b5b5" stroke="#727272" stroke-width="0.6"/>
<circle cx="522.2" cy="116.3" r="1.0" fill="#b5b5b5" stroke="#727272" stroke-width="0.6"/>
<circle cx="451.2" cy="120.4" r="1.3" fill="#b5b5b5" stroke="#727272" stroke-width="0.6"/>
<circle cx="456.3" cy="118.6" r="1.2" fill="#b5b5b5" stroke="#727272" stroke-width="0.6"/>
<circle cx="464.0" cy="119.9" r="1.0" fill="#b5b5b5" stroke="#727272" stroke-width="0.6"/>
<circle cx="466.8" cy="119.1" r="1.3" fill="#b5b5b5" stroke="#727272" stroke-width="0.6"/>
<circle cx="471.3" cy="119.2" r="1.0" fill="#b5b5b5" stroke="#727272" stroke-width="0.6"/>
<circle cx="473.7" cy="119.7" r="1.3" fill="#b5b5b5" stroke="#727272" stroke-width="0.6"/>
<circle cx="478.2" cy="118.6" r="1.2" fill="#b5b5b5" stroke="#727272" stroke-width="0.6"/>
<circle cx="482.4" cy="118.8" r="1.2" fill="#b5b5b5" stroke="#727272" stroke-width="0.6"/>
<circle cx="485.6" cy="119.9" r="1.1" fill="#b5b5b5" stroke="#727272" stroke-width="0.6"/>
<circle cx="490.6" cy="119.2" r="1.3" fill="#b5b5b5" stroke="#727272" stroke-width="0.6"/>
<circle cx="493.5" cy="118.9" r="1.0" fill="#b5b5b5" stroke="#727272" stroke-width="0.6"/>
<circle cx="496.5" cy="119.6" r="1.2" fill="#b5b5b5" stroke="#727272" stroke-width="0.6"/>
<circle cx="501.0" cy="118.9" r="1.2" fill="#b5b5b5" stroke="#727272" stroke-width="0.6"/>
<circle cx="504.6" cy="119.0" r="1.2" fill="#b5b5b5" stroke="#727272" stroke-width="0.6"/>
<circle cx="508.0" cy="119.1" r="1.3" fill="#b5b5b5" stroke="#727272" stroke-width="0.6"/>
<circle cx="513.3" cy="118.6" r="1.4" fill="#b5b5b5" stroke="#727272" stroke-width="0.6"/>
<circle cx="516.9" cy="119.7" r="1.3" fill="#b5b5b5" stroke="#727272" stroke-width="0.6"/>
<circle cx="520.6" cy="118.9" r="1.1" fill="#b5b5b5" stroke="#727272" stroke-width="0.6"/>
<circle cx="453.4" cy="122.9" r="1.1" fill="#b5b5b5" stroke="#727272" stroke-width="0.6"/>
<circle cx="461.4" cy="122.3" r="1.2" fill="#b5b5b5" stroke="#727272" stroke-width="0.6"/>
<circle cx="465.4" cy="122.0" r="1.1" fill="#b5b5b5" stroke="#727272" stroke-width="0.6"/>
<circle cx="469.8" cy="122.0" r="1.2" fill="#b5b5b5" stroke="#727272" stroke-width="0.6"/>
<circle cx="473.2" cy="122.6" r="1.3" fill="#b5b5b5" stroke="#727272" stroke-width="0.6"/>
<circle cx="477.2" cy="121.9" r="1.4" fill="#b5b5b5" stroke="#727272" stroke-width="0.6"/>
<circle cx="480.0" cy="122.1" r="1.1" fill="#b5b5b5" stroke="#727272" stroke-width="0.6"/>
<circle cx="484.4" cy="122.2" r="1.1" fill="#b5b5b5" stroke="#727272" stroke-width="0.6"/>
<circle cx="487.2" cy="122.3" r="1.1" fill="#b5b5b5" stroke="#727272" stroke-width="0.6"/>
<circle cx="499.2" cy="122.9" r="1.3" fill="#b5b5b5" stroke="#727272" stroke-width="0.6"/>
<circle cx="507.1" cy="122.3" r="1.3" fill="#b5b5b5" stroke="#727272" stroke-width="0.6"/>
<circle cx="511.2" cy="122.1" r="1.3" fill="#b5b5b5" stroke="#727272" stroke-width="0.6"/>
<circle cx="513.7" cy="123.8" r="1.3" fill="#b5b5b5" stroke="#727272" stroke-width="0.6"/>
<circle cx="517.5" cy="123.5" r="1.4" fill="#b5b5b5" stroke="#727272" stroke-width="0.6"/>
<circle cx="452.4" cy="126.8" r="1.2" fill="#b5b5b5" stroke="#727272" stroke-width="0.6"/>
<circle cx="456.2" cy="126.8" r="1.3" fill="#b5b5b5" stroke="#727272" stroke-width="0.6"/>
<circle cx="460.2" cy="126.2" r="1.4" fill="#b5b5b5" stroke="#727272" stroke-width="0.6"/>
<circle cx="464.0" cy="126.8" r="1.1" fill="#b5b5b5" stroke="#727272" stroke-width="0.6"/>
<circle cx="466.4" cy="125.6" r="1.2" fill="#b5b5b5" stroke="#727272" stroke-width="0.6"/>
<circle cx="470.7" cy="127.0" r="1.3" fill="#b5b5b5" stroke="#727272" stroke-width="0.6"/>
<circle cx="474.3" cy="126.8" r="1.3" fill="#b5b5b5" stroke="#727272" stroke-width="0.6"/>
<circle cx="479.2" cy="126.8" r="1.2" fill="#b5b5b5" stroke="#727272" stroke-width="0.6"/>
<circle cx="482.4" cy="126.9" r="1.1" fill="#b5b5b5" stroke="#727272" stroke-width="0.6"/>
<circle cx="486.6" cy="126.8" r="1.0" fill="#b5b5b5" stroke="#727272" stroke-width="0.6"/>
<circle cx="488.7" cy="125.4" r="1.3" fill="#b5b5b5" stroke="#727272" stroke-width="0.6"/>
<circle cx="493.7" cy="126.1" r="1.1" fill="#b5b5b5" stroke="#727272" stroke-width="0.6"/>
<circle cx="497.0" cy="126.9" r="1.2" fill="#b5b5b5" stroke="#727272" stroke-width="0.6"/>
<circle cx="500.3" cy="125.7" r="1.3" fill="#b5b5b5" stroke="#727272" stroke-width="0.6"/>
<circle cx="505.2" cy="126.8" r="1.0" fill="#b5b5b5" stroke="#727272" stroke-width="0.6"/>
<circle cx="507.8" cy="126.8" r="1.1" fill="#b5b5b5" stroke="#727272" stroke-width="0.6"/>
<circle cx="513.4" cy="125.9" r="1.1" fill="#b5b5b5" stroke="#727272" stroke-width="0.6"/>
<circle cx="520.9" cy="126.0" r="1.2" fill="#b5b5b5" stroke="#727272" stroke-width="0.6"/>
<circle cx="458.4" cy="128.9" r="1.3" fill="#b5b5b5" stroke="#727272" stroke-width="0.6"/>
<circle cx="461.3" cy="128.5" r="1.1" fill="#b5b5b5" stroke="#727272" stroke-width="0.6"/>
<circle cx="469.4" cy="129.0" r="1.1" fill="#b5b5b5" stroke="#727272" stroke-width="0.6"/>
<circle cx="472.7" cy="130.2" r="1.2" fill="#b5b5b5" stroke="#727272" stroke-width="0.6"/>
<circle cx="477.3" cy="130.3" r="1.3" fill="#b5b5b5" stroke="#727272" stroke-width="0.6"/>
<circle cx="480.4" cy="129.4" r="1.4" fill="#b5b5b5" stroke="#727272" stroke-width="0.6"/>
<circle cx="484.3" cy="129.8" r="1.2" fill="#b5b5b5" stroke="#727272" stroke-width="0.6"/>
<circle cx="488.2" cy="130.3" r="1.2" fill="#b5b5b5" stroke="#727272" stroke-width="0.6"/>
<circle cx="492.6" cy="128.6" r="1.3" fill="#b5b5b5" stroke="#727272" stroke-width="0.6"/>
<circle cx="495.5" cy="129.4" r="1.3" fill="#b5b5b5" stroke="#727272" stroke-width="0.6"/>
<circle cx="503.5" cy="128.6" r="1.1" fill="#b5b5b5" stroke="#727272" stroke-width="0.6"/>
<circle cx="507.7" cy="130.3" r="1.1" fill="#b5b5b5" stroke="#727272" stroke-width="0.6"/>
<circle cx="510.8" cy="128.6" r="1.2" fill="#b5b5b5" stroke="#727272" stroke-width="0.6"/>
<circle cx="514.7" cy="129.1" r="1.3" fill="#b5b5b5" stroke="#727272" stroke-width="0.6"/>
<circle cx="518.3" cy="129.3" r="1.4" fill="#b5b5b5" stroke="#727272" stroke-width="0.6"/>
<circle cx="522.6" cy="129.8" r="1.2" fill="#b5b5b5" stroke="#727272" stroke-width="0.6"/>
<circle cx="516.5" cy="114.1" r="0.7" fill="#5a5a5a"/>
<circle cx="470.4" cy="86.2" r="0.6" fill="#5a5a5a"/>
<circle cx="507.3" cy="118.3" r="0.5" fill="#5a5a5a"/>
<circle cx="461.1" cy="104.2" r="0.8" fill="#5a5a5a"/>
<circle cx="462.6" cy="115.5" r="0.5" fill="#5a5a5a"/>
<circle cx="472.7" cy="80.7" r="0.5" fill="#5a5a5a"/>
<circle cx="477.5" cy="127.1" r="0.8" fill="#5a5a5a"/>
<circle cx="464.3" cy="93.7" r="0.8" fill="#5a5a5a"/>
<circle cx="465.0" cy="94.3" r="0.6" fill="#5a5a5a"/>
<circle cx="459.0" cy="91.2" r="0.6" fill="#5a5a5a"/>
<circle cx="477.6" cy="127.0" r="0.5" fill="#5a5a5a"/>
<circle cx="465.4" cy="124.2" r="0.6" fill="#5a5a5a"/>
<circle cx="508.0" cy="110.4" r="0.7" fill="#5a5a5a"/>
<circle cx="472.9" cy="85.7" r="0.7" fill="#5a5a5a"/>
<circle cx="483.3" cy="106.4" r="0.7" fill="#5a5a5a"/>
<circle cx="502.4" cy="92.0" r="0.5" fill="#5a5a5a"/>
<circle cx="513.4" cy="104.9" r="0.5" fill="#5a5a5a"/>
<circle cx="494.1" cy="91.2" r="0.7" fill="#5a5a5a"/>
<circle cx="454.5" cy="120.0" r="0.6" fill="#5a5a5a"/>
<circle cx="475.5" cy="125.7" r="0.5" fill="#5a5a5a"/>
<circle cx="468.1" cy="81.5" r="0.6" fill="#5a5a5a"/>
<circle cx="502.4" cy="112.4" r="0.6" fill="#5a5a5a"/>
<circle cx="506.1" cy="83.7" r="0.5" fill="#5a5a5a"/>
<circle cx="495.1" cy="127.1" r="0.7" fill="#5a5a5a"/>
<circle cx="498.3" cy="117.4" r="0.6" fill="#5a5a5a"/>
</g></g></g>
<text x="115" y="194.8" font-size="9.1" font-weight="bold" text-anchor="start" fill="#000" textLength="63" lengthAdjust="spacingAndGlyphs">Cell adhesion</text>
<text x="58.8" y="205.6" font-size="8.3" font-weight="bold" text-anchor="start" fill="#000" textLength="52.5" lengthAdjust="spacingAndGlyphs">OCI-Ly3 cells</text>
<text x="192.8" y="205.9" font-size="8.3" font-weight="bold" text-anchor="start" fill="#000" textLength="57.9" lengthAdjust="spacingAndGlyphs">OCI-Ly10 cells</text>
<text transform="translate(6.6 266.5) rotate(-90)" font-size="8.2" font-weight="bold" text-anchor="middle" fill="#000" textLength="47.8" lengthAdjust="spacingAndGlyphs">O.D. 570 nm</text>
<line x1="34.2" y1="211.2" x2="34.2" y2="323.7" stroke="#8a8a8a" stroke-width="1"/>
<line x1="32.0" y1="323.7" x2="34.2" y2="323.7" stroke="#8a8a8a" stroke-width="1"/>
<text x="27.8" y="326.47" font-size="7.7" font-weight="normal" text-anchor="end" fill="#000">0</text>
<line x1="32.0" y1="309.7" x2="34.2" y2="309.7" stroke="#8a8a8a" stroke-width="1"/>
<text x="27.8" y="312.47" font-size="7.7" font-weight="normal" text-anchor="end" fill="#000">0.02</text>
<line x1="32.0" y1="295.7" x2="34.2" y2="295.7" stroke="#8a8a8a" stroke-width="1"/>
<text x="27.8" y="298.47" font-size="7.7" font-weight="normal" text-anchor="end" fill="#000">0.04</text>
<line x1="32.0" y1="281.7" x2="34.2" y2="281.7" stroke="#8a8a8a" stroke-width="1"/>
<text x="27.8" y="284.47" font-size="7.7" font-weight="normal" text-anchor="end" fill="#000">0.06</text>
<line x1="32.0" y1="267.7" x2="34.2" y2="267.7" stroke="#8a8a8a" stroke-width="1"/>
<text x="27.8" y="270.47" font-size="7.7" font-weight="normal" text-anchor="end" fill="#000">0.08</text>
<line x1="32.0" y1="253.7" x2="34.2" y2="253.7" stroke="#8a8a8a" stroke-width="1"/>
<text x="27.8" y="256.47" font-size="7.7" font-weight="normal" text-anchor="end" fill="#000">0.1</text>
<line x1="32.0" y1="239.7" x2="34.2" y2="239.7" stroke="#8a8a8a" stroke-width="1"/>
<text x="27.8" y="242.47" font-size="7.7" font-weight="normal" text-anchor="end" fill="#000">0.12</text>
<line x1="32.0" y1="225.7" x2="34.2" y2="225.7" stroke="#8a8a8a" stroke-width="1"/>
<text x="27.8" y="228.47" font-size="7.7" font-weight="normal" text-anchor="end" fill="#000">0.14</text>
<line x1="32.0" y1="211.7" x2="34.2" y2="211.7" stroke="#8a8a8a" stroke-width="1"/>
<text x="27.8" y="214.47" font-size="7.7" font-weight="normal" text-anchor="end" fill="#000">0.16</text>
<line x1="34.2" y1="323.7" x2="133.2" y2="323.7" stroke="#8a8a8a" stroke-width="1"/>
<line x1="67.2" y1="323.7" x2="67.2" y2="326.2" stroke="#8a8a8a" stroke-width="1"/>
<line x1="100.2" y1="323.7" x2="100.2" y2="326.2" stroke="#8a8a8a" stroke-width="1"/>
<line x1="133.2" y1="323.7" x2="133.2" y2="326.2" stroke="#8a8a8a" stroke-width="1"/>
<rect x="43.5" y="214.4" width="3.5" height="3.5" fill="#fff" stroke="#1a1a1a" stroke-width="1.0"/>
<rect x="43.5" y="225.3" width="3.5" height="3.5" fill="#7a7a7a" stroke="#1a1a1a" stroke-width="1.0"/>
<text x="48.4" y="218.4" font-size="7.9" font-weight="normal" text-anchor="start" fill="#000" textLength="24.1" lengthAdjust="spacingAndGlyphs">shGFP</text>
<text x="48.4" y="229.3" font-size="7.9" font-weight="normal" text-anchor="start" fill="#000" textLength="46.0" lengthAdjust="spacingAndGlyphs">shJunB+cJun</text>
<line x1="45.85" y1="314.25" x2="45.85" y2="309.41999999999996" stroke="#111" stroke-width="0.9"/>
<line x1="44.25" y1="309.41999999999996" x2="47.45" y2="309.41999999999996" stroke="#111" stroke-width="0.9"/>
<rect x="41.45" y="314.7" width="8.8" height="9.0" fill="#fff" stroke="#111" stroke-width="0.9"/>
<line x1="55.550000000000004" y1="316.0" x2="55.550000000000004" y2="312.99" stroke="#111" stroke-width="0.9"/>
<line x1="53.95" y1="312.99" x2="57.150000000000006" y2="312.99" stroke="#111" stroke-width="0.9"/>
<rect x="51.15" y="316.45" width="8.8" height="7.25" fill="#7a7a7a" stroke="#111" stroke-width="0.9"/>
<line x1="78.94999999999999" y1="303.89" x2="78.94999999999999" y2="300.39" stroke="#111" stroke-width="0.9"/>
<line x1="77.35" y1="300.39" x2="80.54999999999998" y2="300.39" stroke="#111" stroke-width="0.9"/>
<rect x="74.55" y="304.34" width="8.8" height="19.36" fill="#fff" stroke="#111" stroke-width="0.9"/>
<line x1="88.65" y1="313.9" x2="88.65" y2="311.31" stroke="#111" stroke-width="0.9"/>
<line x1="87.05000000000001" y1="311.31" x2="90.25" y2="311.31" stroke="#111" stroke-width="0.9"/>
<rect x="84.25" y="314.35" width="8.8" height="9.35" fill="#7a7a7a" stroke="#111" stroke-width="0.9"/>
<line x1="111.85" y1="239.27999999999997" x2="111.85" y2="225.48999999999998" stroke="#111" stroke-width="0.9"/>
<line x1="110.25" y1="225.48999999999998" x2="113.44999999999999" y2="225.48999999999998" stroke="#111" stroke-width="0.9"/>
<rect x="107.45" y="239.73" width="8.8" height="83.97" fill="#fff" stroke="#111" stroke-width="0.9"/>
<line x1="121.55000000000001" y1="308.58" x2="121.55000000000001" y2="303.46999999999997" stroke="#111" stroke-width="0.9"/>
<line x1="119.95000000000002" y1="303.46999999999997" x2="123.15" y2="303.46999999999997" stroke="#111" stroke-width="0.9"/>
<rect x="117.15" y="309.03" width="8.8" height="14.67" fill="#7a7a7a" stroke="#111" stroke-width="0.9"/>
<text x="50.7" y="337.2" font-size="8.4" font-weight="bold" text-anchor="middle" fill="#000" textLength="16.9" lengthAdjust="spacingAndGlyphs">10%</text>
<text x="83.8" y="337.2" font-size="8.4" font-weight="bold" text-anchor="middle" fill="#000" textLength="16.9" lengthAdjust="spacingAndGlyphs">20%</text>
<text x="116.7" y="337.2" font-size="8.4" font-weight="bold" text-anchor="middle" fill="#000" textLength="16.9" lengthAdjust="spacingAndGlyphs">30%</text>
<line x1="167.7" y1="210.5" x2="167.7" y2="324" stroke="#8a8a8a" stroke-width="1"/>
<line x1="165.5" y1="324.0" x2="167.7" y2="324.0" stroke="#8a8a8a" stroke-width="1"/>
<text x="161.4" y="326.77" font-size="7.7" font-weight="normal" text-anchor="end" fill="#000">0</text>
<line x1="165.5" y1="312.7" x2="167.7" y2="312.7" stroke="#8a8a8a" stroke-width="1"/>
<text x="161.4" y="315.47" font-size="7.7" font-weight="normal" text-anchor="end" fill="#000">0.02</text>
<line x1="165.5" y1="301.4" x2="167.7" y2="301.4" stroke="#8a8a8a" stroke-width="1"/>
<text x="161.4" y="304.17" font-size="7.7" font-weight="normal" text-anchor="end" fill="#000">0.04</text>
<line x1="165.5" y1="290.1" x2="167.7" y2="290.1" stroke="#8a8a8a" stroke-width="1"/>
<text x="161.4" y="292.87" font-size="7.7" font-weight="normal" text-anchor="end" fill="#000">0.06</text>
<line x1="165.5" y1="278.8" x2="167.7" y2="278.8" stroke="#8a8a8a" stroke-width="1"/>
<text x="161.4" y="281.57" font-size="7.7" font-weight="normal" text-anchor="end" fill="#000">0.08</text>
<line x1="165.5" y1="267.5" x2="167.7" y2="267.5" stroke="#8a8a8a" stroke-width="1"/>
<text x="161.4" y="270.27" font-size="7.7" font-weight="normal" text-anchor="end" fill="#000">0.1</text>
<line x1="165.5" y1="256.2" x2="167.7" y2="256.2" stroke="#8a8a8a" stroke-width="1"/>
<text x="161.4" y="258.97" font-size="7.7" font-weight="normal" text-anchor="end" fill="#000">0.12</text>
<line x1="165.5" y1="244.89999999999998" x2="167.7" y2="244.89999999999998" stroke="#8a8a8a" stroke-width="1"/>
<text x="161.4" y="247.67" font-size="7.7" font-weight="normal" text-anchor="end" fill="#000">0.14</text>
<line x1="165.5" y1="233.6" x2="167.7" y2="233.6" stroke="#8a8a8a" stroke-width="1"/>
<text x="161.4" y="236.37" font-size="7.7" font-weight="normal" text-anchor="end" fill="#000">0.16</text>
<line x1="165.5" y1="222.3" x2="167.7" y2="222.3" stroke="#8a8a8a" stroke-width="1"/>
<text x="161.4" y="225.07" font-size="7.7" font-weight="normal" text-anchor="end" fill="#000">0.18</text>
<line x1="165.5" y1="211.0" x2="167.7" y2="211.0" stroke="#8a8a8a" stroke-width="1"/>
<text x="161.4" y="213.77" font-size="7.7" font-weight="normal" text-anchor="end" fill="#000">0.2</text>
<line x1="167.7" y1="324" x2="268.5" y2="324" stroke="#8a8a8a" stroke-width="1"/>
<line x1="201.29999999999998" y1="324" x2="201.29999999999998" y2="326.5" stroke="#8a8a8a" stroke-width="1"/>
<line x1="234.89999999999998" y1="324" x2="234.89999999999998" y2="326.5" stroke="#8a8a8a" stroke-width="1"/>
<line x1="268.5" y1="324" x2="268.5" y2="326.5" stroke="#8a8a8a" stroke-width="1"/>
<rect x="176.1" y="215.3" width="3.5" height="3.5" fill="#fff" stroke="#1a1a1a" stroke-width="1.0"/>
<rect x="176.1" y="224.8" width="3.5" height="3.5" fill="#7a7a7a" stroke="#1a1a1a" stroke-width="1.0"/>
<text x="180.6" y="219.3" font-size="7.9" font-weight="normal" text-anchor="start" fill="#000" textLength="25.1" lengthAdjust="spacingAndGlyphs">shGFP</text>
<text x="180.6" y="228.8" font-size="7.9" font-weight="normal" text-anchor="start" fill="#000" textLength="46.8" lengthAdjust="spacingAndGlyphs">shJunB+cJun</text>
<line x1="180.10000000000002" y1="313.3215" x2="180.10000000000002" y2="310.44" stroke="#111" stroke-width="0.9"/>
<line x1="178.50000000000003" y1="310.44" x2="181.70000000000002" y2="310.44" stroke="#111" stroke-width="0.9"/>
<rect x="175.75" y="313.77" width="8.7" height="10.23" fill="#fff" stroke="#111" stroke-width="0.9"/>
<line x1="189.7" y1="317.785" x2="189.7" y2="314.395" stroke="#111" stroke-width="0.9"/>
<line x1="188.1" y1="314.395" x2="191.29999999999998" y2="314.395" stroke="#111" stroke-width="0.9"/>
<rect x="185.35" y="318.24" width="8.7" height="5.76" fill="#7a7a7a" stroke="#111" stroke-width="0.9"/>
<line x1="213.7" y1="300.835" x2="213.7" y2="292.586" stroke="#111" stroke-width="0.9"/>
<line x1="212.1" y1="292.586" x2="215.29999999999998" y2="292.586" stroke="#111" stroke-width="0.9"/>
<rect x="209.35" y="301.28" width="8.7" height="22.72" fill="#fff" stroke="#111" stroke-width="0.9"/>
<line x1="223.3" y1="309.875" x2="223.3" y2="309.0275" stroke="#111" stroke-width="0.9"/>
<line x1="221.70000000000002" y1="309.0275" x2="224.9" y2="309.0275" stroke="#111" stroke-width="0.9"/>
<rect x="218.95" y="310.32" width="8.7" height="13.68" fill="#7a7a7a" stroke="#111" stroke-width="0.9"/>
<line x1="247.3" y1="225.97250000000003" x2="247.3" y2="218.0625" stroke="#111" stroke-width="0.9"/>
<line x1="245.70000000000002" y1="218.0625" x2="248.9" y2="218.0625" stroke="#111" stroke-width="0.9"/>
<rect x="242.95" y="226.42" width="8.7" height="97.58" fill="#fff" stroke="#111" stroke-width="0.9"/>
<line x1="256.9" y1="300.383" x2="256.9" y2="293.038" stroke="#111" stroke-width="0.9"/>
<line x1="255.29999999999998" y1="293.038" x2="258.5" y2="293.038" stroke="#111" stroke-width="0.9"/>
<rect x="252.55" y="300.83" width="8.7" height="23.17" fill="#7a7a7a" stroke="#111" stroke-width="0.9"/>
<text x="184.9" y="337.7" font-size="8.4" font-weight="bold" text-anchor="middle" fill="#000" textLength="16.9" lengthAdjust="spacingAndGlyphs">10%</text>
<text x="218.5" y="337.7" font-size="8.4" font-weight="bold" text-anchor="middle" fill="#000" textLength="16.9" lengthAdjust="spacingAndGlyphs">20%</text>
<text x="252.1" y="337.7" font-size="8.4" font-weight="bold" text-anchor="middle" fill="#000" textLength="16.9" lengthAdjust="spacingAndGlyphs">30%</text>
<text x="80" y="354.3" font-size="9.1" font-weight="bold" text-anchor="start" fill="#000" textLength="126.8" lengthAdjust="spacingAndGlyphs">human plasma concentration</text>
<text x="322.9" y="193.7" font-size="9.9" font-weight="bold" text-anchor="start" fill="#000" textLength="193.4" lengthAdjust="spacingAndGlyphs">Adhesion to extracellular matrix proteins</text>
<text x="400" y="211.1" font-size="8.3" font-weight="bold" text-anchor="start" fill="#000" textLength="52.6" lengthAdjust="spacingAndGlyphs">OCI-Ly3 cells</text>
<text x="400.2" y="381.4" font-size="8.3" font-weight="bold" text-anchor="start" fill="#000" textLength="58" lengthAdjust="spacingAndGlyphs">OCI-Ly10 cells</text>
<text transform="translate(313.6 257.5) rotate(-90)" font-size="8.2" font-weight="bold" text-anchor="middle" fill="#000" textLength="47.5" lengthAdjust="spacingAndGlyphs">O.D. 570 nm</text>
<text transform="translate(313.6 432.0) rotate(-90)" font-size="8.2" font-weight="bold" text-anchor="middle" fill="#000" textLength="47.5" lengthAdjust="spacingAndGlyphs">O.D. 570 nm</text>
<line x1="338.7" y1="212.12" x2="338.7" y2="320" stroke="#8a8a8a" stroke-width="1"/>
<line x1="336.5" y1="320.0" x2="338.7" y2="320.0" stroke="#8a8a8a" stroke-width="1"/>
<text x="331.9" y="322.77" font-size="7.7" font-weight="normal" text-anchor="end" fill="#000">0</text>
<line x1="336.5" y1="304.66" x2="338.7" y2="304.66" stroke="#8a8a8a" stroke-width="1"/>
<text x="331.9" y="307.43" font-size="7.7" font-weight="normal" text-anchor="end" fill="#000">0.02</text>
<line x1="336.5" y1="289.32" x2="338.7" y2="289.32" stroke="#8a8a8a" stroke-width="1"/>
<text x="331.9" y="292.09" font-size="7.7" font-weight="normal" text-anchor="end" fill="#000">0.04</text>
<line x1="336.5" y1="273.98" x2="338.7" y2="273.98" stroke="#8a8a8a" stroke-width="1"/>
<text x="331.9" y="276.75" font-size="7.7" font-weight="normal" text-anchor="end" fill="#000">0.06</text>
<line x1="336.5" y1="258.64" x2="338.7" y2="258.64" stroke="#8a8a8a" stroke-width="1"/>
<text x="331.9" y="261.41" font-size="7.7" font-weight="normal" text-anchor="end" fill="#000">0.08</text>
<line x1="336.5" y1="243.3" x2="338.7" y2="243.3" stroke="#8a8a8a" stroke-width="1"/>
<text x="331.9" y="246.07" font-size="7.7" font-weight="normal" text-anchor="end" fill="#000">0.1</text>
<line x1="336.5" y1="227.96" x2="338.7" y2="227.96" stroke="#8a8a8a" stroke-width="1"/>
<text x="331.9" y="230.73" font-size="7.7" font-weight="normal" text-anchor="end" fill="#000">0.12</text>
<line x1="336.5" y1="212.62" x2="338.7" y2="212.62" stroke="#8a8a8a" stroke-width="1"/>
<text x="331.9" y="215.39" font-size="7.7" font-weight="normal" text-anchor="end" fill="#000">0.14</text>
<line x1="338.7" y1="320" x2="518.8" y2="320" stroke="#8a8a8a" stroke-width="1"/>
<line x1="361.2" y1="320" x2="361.2" y2="322.5" stroke="#8a8a8a" stroke-width="1"/>
<line x1="383.7" y1="320" x2="383.7" y2="322.5" stroke="#8a8a8a" stroke-width="1"/>
<line x1="406.2" y1="320" x2="406.2" y2="322.5" stroke="#8a8a8a" stroke-width="1"/>
<line x1="428.7" y1="320" x2="428.7" y2="322.5" stroke="#8a8a8a" stroke-width="1"/>
<line x1="451.2" y1="320" x2="451.2" y2="322.5" stroke="#8a8a8a" stroke-width="1"/>
<line x1="473.7" y1="320" x2="473.7" y2="322.5" stroke="#8a8a8a" stroke-width="1"/>
<line x1="496.2" y1="320" x2="496.2" y2="322.5" stroke="#8a8a8a" stroke-width="1"/>
<line x1="518.7" y1="320" x2="518.7" y2="322.5" stroke="#8a8a8a" stroke-width="1"/>
<rect x="352.9" y="220.6" width="3.5" height="3.5" fill="#fff" stroke="#1a1a1a" stroke-width="1.0"/>
<rect x="352.9" y="229.1" width="3.5" height="3.5" fill="#7a7a7a" stroke="#1a1a1a" stroke-width="1.0"/>
<text x="358" y="224.6" font-size="7.9" font-weight="normal" text-anchor="start" fill="#000" textLength="23.9" lengthAdjust="spacingAndGlyphs">shGFP</text>
<text x="358" y="233.1" font-size="7.9" font-weight="normal" text-anchor="start" fill="#000" textLength="45.9" lengthAdjust="spacingAndGlyphs">shJunB+cJun</text>
<line x1="346.70000000000005" y1="309.43" x2="346.70000000000005" y2="306.6365" stroke="#111" stroke-width="0.9"/>
<line x1="345.1" y1="306.6365" x2="348.30000000000007" y2="306.6365" stroke="#111" stroke-width="0.9"/>
<rect x="343.8" y="309.88" width="5.8" height="10.12" fill="#fff" stroke="#111" stroke-width="0.9"/>
<line x1="353.4" y1="308.2975" x2="353.4" y2="307.316" stroke="#111" stroke-width="0.9"/>
<line x1="351.79999999999995" y1="307.316" x2="355.0" y2="307.316" stroke="#111" stroke-width="0.9"/>
<rect x="350.5" y="308.75" width="5.8" height="11.25" fill="#7a7a7a" stroke="#111" stroke-width="0.9"/>
<line x1="369.20000000000005" y1="299.2375" x2="369.20000000000005" y2="295.085" stroke="#111" stroke-width="0.9"/>
<line x1="367.6" y1="295.085" x2="370.80000000000007" y2="295.085" stroke="#111" stroke-width="0.9"/>
<rect x="366.3" y="299.69" width="5.8" height="20.31" fill="#fff" stroke="#111" stroke-width="0.9"/>
<line x1="375.9" y1="294.4055" x2="375.9" y2="285.0435" stroke="#111" stroke-width="0.9"/>
<line x1="374.29999999999995" y1="285.0435" x2="377.5" y2="285.0435" stroke="#111" stroke-width="0.9"/>
<rect x="373.0" y="294.86" width="5.8" height="25.14" fill="#7a7a7a" stroke="#111" stroke-width="0.9"/>
<line x1="391.70000000000005" y1="304.296" x2="391.70000000000005" y2="299.2375" stroke="#111" stroke-width="0.9"/>
<line x1="390.1" y1="299.2375" x2="393.30000000000007" y2="299.2375" stroke="#111" stroke-width="0.9"/>
<rect x="388.8" y="304.75" width="5.8" height="15.25" fill="#fff" stroke="#111" stroke-width="0.9"/>
<line x1="398.4" y1="302.4085" x2="398.4" y2="298.105" stroke="#111" stroke-width="0.9"/>
<line x1="396.79999999999995" y1="298.105" x2="400.0" y2="298.105" stroke="#111" stroke-width="0.9"/>
<rect x="395.5" y="302.86" width="5.8" height="17.14" fill="#7a7a7a" stroke="#111" stroke-width="0.9"/>
<line x1="414.20000000000005" y1="282.099" x2="414.20000000000005" y2="279.4565" stroke="#111" stroke-width="0.9"/>
<line x1="412.6" y1="279.4565" x2="415.80000000000007" y2="279.4565" stroke="#111" stroke-width="0.9"/>
<rect x="411.3" y="282.55" width="5.8" height="37.45" fill="#fff" stroke="#111" stroke-width="0.9"/>
<line x1="420.9" y1="299.011" x2="420.9" y2="291.914" stroke="#111" stroke-width="0.9"/>
<line x1="419.29999999999995" y1="291.914" x2="422.5" y2="291.914" stroke="#111" stroke-width="0.9"/>
<rect x="418.0" y="299.46" width="5.8" height="20.54" fill="#7a7a7a" stroke="#111" stroke-width="0.9"/>
<line x1="436.70000000000005" y1="237.40300000000002" x2="436.70000000000005" y2="225.02100000000002" stroke="#111" stroke-width="0.9"/>
<line x1="435.1" y1="225.02100000000002" x2="438.30000000000007" y2="225.02100000000002" stroke="#111" stroke-width="0.9"/>
<rect x="433.8" y="237.85" width="5.8" height="82.15" fill="#fff" stroke="#111" stroke-width="0.9"/>
<line x1="443.4" y1="305.1265" x2="443.4" y2="297.501" stroke="#111" stroke-width="0.9"/>
<line x1="441.79999999999995" y1="297.501" x2="445.0" y2="297.501" stroke="#111" stroke-width="0.9"/>
<rect x="440.5" y="305.58" width="5.8" height="14.42" fill="#7a7a7a" stroke="#111" stroke-width="0.9"/>
<line x1="459.20000000000005" y1="239.36599999999999" x2="459.20000000000005" y2="229.702" stroke="#111" stroke-width="0.9"/>
<line x1="457.6" y1="229.702" x2="460.80000000000007" y2="229.702" stroke="#111" stroke-width="0.9"/>
<rect x="456.3" y="239.82" width="5.8" height="80.18" fill="#fff" stroke="#111" stroke-width="0.9"/>
<line x1="465.9" y1="312.299" x2="465.9" y2="308.4485" stroke="#111" stroke-width="0.9"/>
<line x1="464.29999999999995" y1="308.4485" x2="467.5" y2="308.4485" stroke="#111" stroke-width="0.9"/>
<rect x="463.0" y="312.75" width="5.8" height="7.25" fill="#7a7a7a" stroke="#111" stroke-width="0.9"/>
<line x1="481.70000000000005" y1="299.91700000000003" x2="481.70000000000005" y2="294.028" stroke="#111" stroke-width="0.9"/>
<line x1="480.1" y1="294.028" x2="483.30000000000007" y2="294.028" stroke="#111" stroke-width="0.9"/>
<rect x="478.8" y="300.37" width="5.8" height="19.63" fill="#fff" stroke="#111" stroke-width="0.9"/>
<line x1="488.4" y1="295.0095" x2="488.4" y2="282.4765" stroke="#111" stroke-width="0.9"/>
<line x1="486.79999999999995" y1="282.4765" x2="490.0" y2="282.4765" stroke="#111" stroke-width="0.9"/>
<rect x="485.5" y="295.46" width="5.8" height="24.54" fill="#7a7a7a" stroke="#111" stroke-width="0.9"/>
<line x1="504.20000000000005" y1="258.392" x2="504.20000000000005" y2="248.426" stroke="#111" stroke-width="0.9"/>
<line x1="502.6" y1="248.426" x2="505.80000000000007" y2="248.426" stroke="#111" stroke-width="0.9"/>
<rect x="501.3" y="258.84" width="5.8" height="61.16" fill="#fff" stroke="#111" stroke-width="0.9"/>
<line x1="510.9" y1="304.2205" x2="510.9" y2="298.4825" stroke="#111" stroke-width="0.9"/>
<line x1="509.29999999999995" y1="298.4825" x2="512.5" y2="298.4825" stroke="#111" stroke-width="0.9"/>
<rect x="508.0" y="304.67" width="5.8" height="15.33" fill="#7a7a7a" stroke="#111" stroke-width="0.9"/>
<text transform="translate(351.85 331.2) rotate(-45)" font-size="7.9" font-weight="bold" text-anchor="end" fill="#000">BSA</text>
<text transform="translate(374.35 331.2) rotate(-45)" font-size="7.9" font-weight="bold" text-anchor="end" fill="#000">Collagen I</text>
<text transform="translate(396.85 331.2) rotate(-45)" font-size="7.9" font-weight="bold" text-anchor="end" fill="#000">Collagen II</text>
<text transform="translate(419.35 331.2) rotate(-45)" font-size="7.9" font-weight="bold" text-anchor="end" fill="#000">Collagen IV</text>
<text transform="translate(441.85 331.2) rotate(-45)" font-size="7.9" font-weight="bold" text-anchor="end" fill="#000">Fibronectin</text>
<text transform="translate(464.35 331.2) rotate(-45)" font-size="7.9" font-weight="bold" text-anchor="end" fill="#000">Vitronectin</text>
<text transform="translate(486.85 331.2) rotate(-45)" font-size="7.9" font-weight="bold" text-anchor="end" fill="#000">Laminin</text>
<text transform="translate(509.35 331.2) rotate(-45)" font-size="7.9" font-weight="bold" text-anchor="end" fill="#000">Tenascin</text>
<line x1="338.7" y1="383.0" x2="338.7" y2="491" stroke="#8a8a8a" stroke-width="1"/>
<line x1="336.5" y1="491.1" x2="338.7" y2="491.1" stroke="#8a8a8a" stroke-width="1"/>
<text x="331.9" y="493.87" font-size="7.7" font-weight="normal" text-anchor="end" fill="#000">0</text>
<line x1="336.5" y1="480.34000000000003" x2="338.7" y2="480.34000000000003" stroke="#8a8a8a" stroke-width="1"/>
<text x="331.9" y="483.11" font-size="7.7" font-weight="normal" text-anchor="end" fill="#000">0.02</text>
<line x1="336.5" y1="469.58000000000004" x2="338.7" y2="469.58000000000004" stroke="#8a8a8a" stroke-width="1"/>
<text x="331.9" y="472.35" font-size="7.7" font-weight="normal" text-anchor="end" fill="#000">0.04</text>
<line x1="336.5" y1="458.82000000000005" x2="338.7" y2="458.82000000000005" stroke="#8a8a8a" stroke-width="1"/>
<text x="331.9" y="461.59" font-size="7.7" font-weight="normal" text-anchor="end" fill="#000">0.06</text>
<line x1="336.5" y1="448.06" x2="338.7" y2="448.06" stroke="#8a8a8a" stroke-width="1"/>
<text x="331.9" y="450.83" font-size="7.7" font-weight="normal" text-anchor="end" fill="#000">0.08</text>
<line x1="336.5" y1="437.3" x2="338.7" y2="437.3" stroke="#8a8a8a" stroke-width="1"/>
<text x="331.9" y="440.07" font-size="7.7" font-weight="normal" text-anchor="end" fill="#000">0.1</text>
<line x1="336.5" y1="426.54" x2="338.7" y2="426.54" stroke="#8a8a8a" stroke-width="1"/>
<text x="331.9" y="429.31" font-size="7.7" font-weight="normal" text-anchor="end" fill="#000">0.12</text>
<line x1="336.5" y1="415.78000000000003" x2="338.7" y2="415.78000000000003" stroke="#8a8a8a" stroke-width="1"/>
<text x="331.9" y="418.55" font-size="7.7" font-weight="normal" text-anchor="end" fill="#000">0.14</text>
<line x1="336.5" y1="405.02000000000004" x2="338.7" y2="405.02000000000004" stroke="#8a8a8a" stroke-width="1"/>
<text x="331.9" y="407.79" font-size="7.7" font-weight="normal" text-anchor="end" fill="#000">0.16</text>
<line x1="336.5" y1="394.26" x2="338.7" y2="394.26" stroke="#8a8a8a" stroke-width="1"/>
<text x="331.9" y="397.03" font-size="7.7" font-weight="normal" text-anchor="end" fill="#000">0.18</text>
<line x1="336.5" y1="383.5" x2="338.7" y2="383.5" stroke="#8a8a8a" stroke-width="1"/>
<text x="331.9" y="386.27" font-size="7.7" font-weight="normal" text-anchor="end" fill="#000">0.2</text>
<line x1="338.7" y1="491" x2="518.8" y2="491" stroke="#8a8a8a" stroke-width="1"/>
<line x1="361.2" y1="491" x2="361.2" y2="493.5" stroke="#8a8a8a" stroke-width="1"/>
<line x1="383.7" y1="491" x2="383.7" y2="493.5" stroke="#8a8a8a" stroke-width="1"/>
<line x1="406.2" y1="491" x2="406.2" y2="493.5" stroke="#8a8a8a" stroke-width="1"/>
<line x1="428.7" y1="491" x2="428.7" y2="493.5" stroke="#8a8a8a" stroke-width="1"/>
<line x1="451.2" y1="491" x2="451.2" y2="493.5" stroke="#8a8a8a" stroke-width="1"/>
<line x1="473.7" y1="491" x2="473.7" y2="493.5" stroke="#8a8a8a" stroke-width="1"/>
<line x1="496.2" y1="491" x2="496.2" y2="493.5" stroke="#8a8a8a" stroke-width="1"/>
<line x1="518.7" y1="491" x2="518.7" y2="493.5" stroke="#8a8a8a" stroke-width="1"/>
<rect x="350.6" y="391.9" width="3.5" height="3.5" fill="#fff" stroke="#1a1a1a" stroke-width="1.0"/>
<rect x="350.6" y="399.9" width="3.5" height="3.5" fill="#7a7a7a" stroke="#1a1a1a" stroke-width="1.0"/>
<text x="355.1" y="395.9" font-size="7.9" font-weight="normal" text-anchor="start" fill="#000" textLength="22.2" lengthAdjust="spacingAndGlyphs">shGFP</text>
<text x="355.1" y="403.9" font-size="7.9" font-weight="normal" text-anchor="start" fill="#000" textLength="45.8" lengthAdjust="spacingAndGlyphs">shJunB+cJun</text>
<line x1="346.70000000000005" y1="486.17175" x2="346.70000000000005" y2="485.84625" stroke="#111" stroke-width="0.9"/>
<line x1="345.1" y1="485.84625" x2="348.30000000000007" y2="485.84625" stroke="#111" stroke-width="0.9"/>
<rect x="343.8" y="486.62" width="5.8" height="4.38" fill="#fff" stroke="#111" stroke-width="0.9"/>
<line x1="353.4" y1="485.41225" x2="353.4" y2="484.76125" stroke="#111" stroke-width="0.9"/>
<line x1="351.79999999999995" y1="484.76125" x2="355.0" y2="484.76125" stroke="#111" stroke-width="0.9"/>
<rect x="350.5" y="485.86" width="5.8" height="5.14" fill="#7a7a7a" stroke="#111" stroke-width="0.9"/>
<line x1="369.20000000000005" y1="475.43025" x2="369.20000000000005" y2="472.0125" stroke="#111" stroke-width="0.9"/>
<line x1="367.6" y1="472.0125" x2="370.80000000000007" y2="472.0125" stroke="#111" stroke-width="0.9"/>
<rect x="366.3" y="475.88" width="5.8" height="15.12" fill="#fff" stroke="#111" stroke-width="0.9"/>
<line x1="375.9" y1="478.414" x2="375.9" y2="474.1825" stroke="#111" stroke-width="0.9"/>
<line x1="374.29999999999995" y1="474.1825" x2="377.5" y2="474.1825" stroke="#111" stroke-width="0.9"/>
<rect x="373.0" y="478.86" width="5.8" height="12.14" fill="#7a7a7a" stroke="#111" stroke-width="0.9"/>
<line x1="391.70000000000005" y1="479.1735" x2="391.70000000000005" y2="474.99625" stroke="#111" stroke-width="0.9"/>
<line x1="390.1" y1="474.99625" x2="393.30000000000007" y2="474.99625" stroke="#111" stroke-width="0.9"/>
<rect x="388.8" y="479.62" width="5.8" height="11.38" fill="#fff" stroke="#111" stroke-width="0.9"/>
<line x1="398.4" y1="481.83175" x2="398.4" y2="479.716" stroke="#111" stroke-width="0.9"/>
<line x1="396.79999999999995" y1="479.716" x2="400.0" y2="479.716" stroke="#111" stroke-width="0.9"/>
<rect x="395.5" y="482.28" width="5.8" height="8.72" fill="#7a7a7a" stroke="#111" stroke-width="0.9"/>
<line x1="414.20000000000005" y1="455.3035" x2="414.20000000000005" y2="451.01775" stroke="#111" stroke-width="0.9"/>
<line x1="412.6" y1="451.01775" x2="415.80000000000007" y2="451.01775" stroke="#111" stroke-width="0.9"/>
<rect x="411.3" y="455.75" width="5.8" height="35.25" fill="#fff" stroke="#111" stroke-width="0.9"/>
<line x1="420.9" y1="473.47725" x2="420.9" y2="469.57125" stroke="#111" stroke-width="0.9"/>
<line x1="419.29999999999995" y1="469.57125" x2="422.5" y2="469.57125" stroke="#111" stroke-width="0.9"/>
<rect x="418.0" y="473.93" width="5.8" height="17.07" fill="#7a7a7a" stroke="#111" stroke-width="0.9"/>
<line x1="436.70000000000005" y1="413.36825" x2="436.70000000000005" y2="404.47125" stroke="#111" stroke-width="0.9"/>
<line x1="435.1" y1="404.47125" x2="438.30000000000007" y2="404.47125" stroke="#111" stroke-width="0.9"/>
<rect x="433.8" y="413.82" width="5.8" height="77.18" fill="#fff" stroke="#111" stroke-width="0.9"/>
<line x1="443.4" y1="472.39225" x2="443.4" y2="467.50975" stroke="#111" stroke-width="0.9"/>
<line x1="441.79999999999995" y1="467.50975" x2="445.0" y2="467.50975" stroke="#111" stroke-width="0.9"/>
<rect x="440.5" y="472.84" width="5.8" height="18.16" fill="#7a7a7a" stroke="#111" stroke-width="0.9"/>
<line x1="459.20000000000005" y1="397.473" x2="459.20000000000005" y2="391.0715" stroke="#111" stroke-width="0.9"/>
<line x1="457.6" y1="391.0715" x2="460.80000000000007" y2="391.0715" stroke="#111" stroke-width="0.9"/>
<rect x="456.3" y="397.92" width="5.8" height="93.08" fill="#fff" stroke="#111" stroke-width="0.9"/>
<line x1="465.9" y1="474.12825" x2="465.9" y2="469.78825" stroke="#111" stroke-width="0.9"/>
<line x1="464.29999999999995" y1="469.78825" x2="467.5" y2="469.78825" stroke="#111" stroke-width="0.9"/>
<rect x="463.0" y="474.58" width="5.8" height="16.42" fill="#7a7a7a" stroke="#111" stroke-width="0.9"/>
<line x1="481.70000000000005" y1="471.09024999999997" x2="481.70000000000005" y2="465.12275" stroke="#111" stroke-width="0.9"/>
<line x1="480.1" y1="465.12275" x2="483.30000000000007" y2="465.12275" stroke="#111" stroke-width="0.9"/>
<rect x="478.8" y="471.54" width="5.8" height="19.46" fill="#fff" stroke="#111" stroke-width="0.9"/>
<line x1="488.4" y1="475.4845" x2="488.4" y2="468.59475" stroke="#111" stroke-width="0.9"/>
<line x1="486.79999999999995" y1="468.59475" x2="490.0" y2="468.59475" stroke="#111" stroke-width="0.9"/>
<rect x="485.5" y="475.93" width="5.8" height="15.07" fill="#7a7a7a" stroke="#111" stroke-width="0.9"/>
<line x1="504.20000000000005" y1="431.16225" x2="504.20000000000005" y2="421.777" stroke="#111" stroke-width="0.9"/>
<line x1="502.6" y1="421.777" x2="505.80000000000007" y2="421.777" stroke="#111" stroke-width="0.9"/>
<rect x="501.3" y="431.61" width="5.8" height="59.39" fill="#fff" stroke="#111" stroke-width="0.9"/>
<line x1="510.9" y1="473.7485" x2="510.9" y2="468.81175" stroke="#111" stroke-width="0.9"/>
<line x1="509.29999999999995" y1="468.81175" x2="512.5" y2="468.81175" stroke="#111" stroke-width="0.9"/>
<rect x="508.0" y="474.2" width="5.8" height="16.8" fill="#7a7a7a" stroke="#111" stroke-width="0.9"/>
<text transform="translate(351.85 502.2) rotate(-45)" font-size="7.9" font-weight="bold" text-anchor="end" fill="#000">BSA</text>
<text transform="translate(374.35 502.2) rotate(-45)" font-size="7.9" font-weight="bold" text-anchor="end" fill="#000">Collagen I</text>
<text transform="translate(396.85 502.2) rotate(-45)" font-size="7.9" font-weight="bold" text-anchor="end" fill="#000">Collagen II</text>
<text transform="translate(419.35 502.2) rotate(-45)" font-size="7.9" font-weight="bold" text-anchor="end" fill="#000">Collagen IV</text>
<text transform="translate(441.85 502.2) rotate(-45)" font-size="7.9" font-weight="bold" text-anchor="end" fill="#000">Fibronectin</text>
<text transform="translate(464.35 502.2) rotate(-45)" font-size="7.9" font-weight="bold" text-anchor="end" fill="#000">Vitronectin</text>
<text transform="translate(486.85 502.2) rotate(-45)" font-size="7.9" font-weight="bold" text-anchor="end" fill="#000">Laminin</text>
<text transform="translate(509.35 502.2) rotate(-45)" font-size="7.9" font-weight="bold" text-anchor="end" fill="#000">Tenascin</text>
<text x="376.4" y="542.3" font-size="9.0" font-weight="bold" text-anchor="start" fill="#000" textLength="105.5" lengthAdjust="spacingAndGlyphs">serum-free media (4 hrs)</text>
<rect x="130.8" y="396.9" width="11.2" height="5.5" rx="1.2" fill="#fff" stroke="#111" stroke-width="1.3"/>
<rect x="130.8" y="408" width="11.2" height="5.8" rx="1.2" fill="#707070" stroke="#111" stroke-width="1.3"/>
<text x="146.9" y="402.6" font-size="7.2" font-weight="normal" text-anchor="start" fill="#000" textLength="15.2" lengthAdjust="spacingAndGlyphs">BSA</text>
<text x="146.9" y="413.7" font-size="7.2" font-weight="normal" text-anchor="start" fill="#000" textLength="15.2" lengthAdjust="spacingAndGlyphs">FNK</text>
<text x="58.8" y="425.3" font-size="8.3" font-weight="bold" text-anchor="start" fill="#000" textLength="52.5" lengthAdjust="spacingAndGlyphs">OCI-Ly3 cells</text>
<text x="164.5" y="425.4" font-size="8.3" font-weight="bold" text-anchor="start" fill="#000" textLength="58.7" lengthAdjust="spacingAndGlyphs">OCI-Ly10 cells</text>
<text transform="translate(36.6 478.2) rotate(-90)" font-size="8.2" font-weight="bold" text-anchor="middle" fill="#000" textLength="47.8" lengthAdjust="spacingAndGlyphs">O.D. 570 nm</text>
<line x1="58.4" y1="429.79999999999995" x2="58.4" y2="527.4" stroke="#111" stroke-width="1.0"/>
<line x1="56.4" y1="527.4" x2="58.4" y2="527.4" stroke="#111" stroke-width="1.0"/>
<text x="56.0" y="530.1" font-size="7.7" font-weight="normal" text-anchor="end" fill="#000" textLength="14.6" lengthAdjust="spacingAndGlyphs">0.00</text>
<line x1="56.4" y1="503.0" x2="58.4" y2="503.0" stroke="#111" stroke-width="1.0"/>
<text x="56.0" y="505.7" font-size="7.7" font-weight="normal" text-anchor="end" fill="#000" textLength="14.6" lengthAdjust="spacingAndGlyphs">0.04</text>
<line x1="56.4" y1="478.59999999999997" x2="58.4" y2="478.59999999999997" stroke="#111" stroke-width="1.0"/>
<text x="56.0" y="481.3" font-size="7.7" font-weight="normal" text-anchor="end" fill="#000" textLength="14.6" lengthAdjust="spacingAndGlyphs">0.08</text>
<line x1="56.4" y1="454.2" x2="58.4" y2="454.2" stroke="#111" stroke-width="1.0"/>
<text x="56.0" y="456.9" font-size="7.7" font-weight="normal" text-anchor="end" fill="#000" textLength="14.6" lengthAdjust="spacingAndGlyphs">0.12</text>
<line x1="56.4" y1="429.79999999999995" x2="58.4" y2="429.79999999999995" stroke="#111" stroke-width="1.0"/>
<text x="56.0" y="432.5" font-size="7.7" font-weight="normal" text-anchor="end" fill="#000" textLength="14.6" lengthAdjust="spacingAndGlyphs">0.16</text>
<line x1="58.4" y1="527.4" x2="127" y2="527.4" stroke="#111" stroke-width="1.0"/>
<line x1="69.9" y1="527.4" x2="69.9" y2="529.6" stroke="#111" stroke-width="1.0"/>
<line x1="92.6" y1="527.4" x2="92.6" y2="529.6" stroke="#111" stroke-width="1.0"/>
<line x1="115.3" y1="527.4" x2="115.3" y2="529.6" stroke="#111" stroke-width="1.0"/>
<line x1="65.55000000000001" y1="520.995" x2="65.55000000000001" y2="517.701" stroke="#111" stroke-width="1.0"/>
<line x1="63.35000000000001" y1="517.701" x2="67.75000000000001" y2="517.701" stroke="#111" stroke-width="1.1"/>
<path d="M62.95 527.4 V522.20 Q62.95 521.64 63.90 521.64 H67.20 Q68.15 521.64 68.15 522.20 V527.4" fill="#fff" stroke="#0a0a0a" stroke-width="1.3"/>
<line x1="74.25" y1="465.78999999999996" x2="74.25" y2="464.875" stroke="#111" stroke-width="1.0"/>
<line x1="72.05" y1="464.875" x2="76.45" y2="464.875" stroke="#111" stroke-width="1.1"/>
<path d="M71.65 527.4 V466.99 Q71.65 466.44 72.60 466.44 H75.90 Q76.85 466.44 76.85 466.99 V527.4" fill="#707070" stroke="#0a0a0a" stroke-width="1.3"/>
<line x1="88.25" y1="513.004" x2="88.25" y2="507.575" stroke="#111" stroke-width="1.0"/>
<line x1="86.05" y1="507.575" x2="90.45" y2="507.575" stroke="#111" stroke-width="1.1"/>
<path d="M85.65 527.4 V514.20 Q85.65 513.65 86.60 513.65 H89.90 Q90.85 513.65 90.85 514.20 V527.4" fill="#fff" stroke="#0a0a0a" stroke-width="1.3"/>
<line x1="96.94999999999999" y1="510.198" x2="96.94999999999999" y2="509.405" stroke="#111" stroke-width="1.0"/>
<line x1="94.74999999999999" y1="509.405" x2="99.14999999999999" y2="509.405" stroke="#111" stroke-width="1.1"/>
<path d="M94.35 527.4 V511.40 Q94.35 510.85 95.30 510.85 H98.60 Q99.55 510.85 99.55 511.40 V527.4" fill="#707070" stroke="#0a0a0a" stroke-width="1.3"/>
<line x1="110.95" y1="512.394" x2="110.95" y2="509.039" stroke="#111" stroke-width="1.0"/>
<line x1="108.75" y1="509.039" x2="113.15" y2="509.039" stroke="#111" stroke-width="1.1"/>
<path d="M108.35 527.4 V513.59 Q108.35 513.04 109.30 513.04 H112.60 Q113.55 513.04 113.55 513.59 V527.4" fill="#fff" stroke="#0a0a0a" stroke-width="1.3"/>
<line x1="119.64999999999999" y1="453.59" x2="119.64999999999999" y2="438.645" stroke="#111" stroke-width="1.0"/>
<line x1="117.44999999999999" y1="438.645" x2="121.85" y2="438.645" stroke="#111" stroke-width="1.1"/>
<path d="M117.05 527.4 V454.79 Q117.05 454.24 118.00 454.24 H121.30 Q122.25 454.24 122.25 454.79 V527.4" fill="#707070" stroke="#0a0a0a" stroke-width="1.3"/>
<text transform="translate(71.9 536.6) rotate(-45)" font-size="8.0" font-weight="bold" text-anchor="end" fill="#000">control</text>
<text transform="translate(94.0 536.6) rotate(-45)" font-size="8.0" font-weight="bold" text-anchor="end" fill="#000">GRGDS</text>
<text transform="translate(116.7 536.6) rotate(-45)" font-size="8.0" font-weight="bold" text-anchor="end" fill="#000">GRGESP</text>
<line x1="160.8" y1="432.79999999999995" x2="160.8" y2="526.4" stroke="#111" stroke-width="1.0"/>
<line x1="158.8" y1="526.4" x2="160.8" y2="526.4" stroke="#111" stroke-width="1.0"/>
<text x="158.6" y="529.1" font-size="7.7" font-weight="normal" text-anchor="end" fill="#000" textLength="14.6" lengthAdjust="spacingAndGlyphs">0.00</text>
<line x1="158.8" y1="495.2" x2="160.8" y2="495.2" stroke="#111" stroke-width="1.0"/>
<text x="158.6" y="497.9" font-size="7.7" font-weight="normal" text-anchor="end" fill="#000" textLength="14.6" lengthAdjust="spacingAndGlyphs">0.05</text>
<line x1="158.8" y1="464.0" x2="160.8" y2="464.0" stroke="#111" stroke-width="1.0"/>
<text x="158.6" y="466.7" font-size="7.7" font-weight="normal" text-anchor="end" fill="#000" textLength="14.6" lengthAdjust="spacingAndGlyphs">0.10</text>
<line x1="158.8" y1="432.79999999999995" x2="160.8" y2="432.79999999999995" stroke="#111" stroke-width="1.0"/>
<text x="158.6" y="435.5" font-size="7.7" font-weight="normal" text-anchor="end" fill="#000" textLength="14.6" lengthAdjust="spacingAndGlyphs">0.15</text>
<line x1="160.8" y1="526.4" x2="226.5" y2="526.4" stroke="#111" stroke-width="1.0"/>
<line x1="171.4" y1="526.4" x2="171.4" y2="528.6" stroke="#111" stroke-width="1.0"/>
<line x1="193.3" y1="526.4" x2="193.3" y2="528.6" stroke="#111" stroke-width="1.0"/>
<line x1="215.2" y1="526.4" x2="215.2" y2="528.6" stroke="#111" stroke-width="1.0"/>
<line x1="167.4" y1="516.8528" x2="167.4" y2="509.42719999999997" stroke="#111" stroke-width="1.0"/>
<line x1="165.20000000000002" y1="509.42719999999997" x2="169.6" y2="509.42719999999997" stroke="#111" stroke-width="1.1"/>
<path d="M164.85 526.4 V518.05 Q164.85 517.50 165.80 517.50 H169.00 Q169.95 517.50 169.95 518.05 V526.4" fill="#fff" stroke="#0a0a0a" stroke-width="1.3"/>
<line x1="175.4" y1="458.69599999999997" x2="175.4" y2="445.4672" stroke="#111" stroke-width="1.0"/>
<line x1="173.20000000000002" y1="445.4672" x2="177.6" y2="445.4672" stroke="#111" stroke-width="1.1"/>
<path d="M172.85 526.4 V459.90 Q172.85 459.35 173.80 459.35 H177.00 Q177.95 459.35 177.95 459.90 V526.4" fill="#707070" stroke="#0a0a0a" stroke-width="1.3"/>
<path d="M186.75 526.4 V516.74 Q186.75 516.19 187.70 516.19 H190.90 Q191.85 516.19 191.85 516.74 V526.4" fill="#fff" stroke="#0a0a0a" stroke-width="1.3"/>
<line x1="197.3" y1="497.38399999999996" x2="197.3" y2="492.5168" stroke="#111" stroke-width="1.0"/>
<line x1="195.10000000000002" y1="492.5168" x2="199.5" y2="492.5168" stroke="#111" stroke-width="1.1"/>
<path d="M194.75 526.4 V498.58 Q194.75 498.03 195.70 498.03 H198.90 Q199.85 498.03 199.85 498.58 V526.4" fill="#707070" stroke="#0a0a0a" stroke-width="1.3"/>
<line x1="211.2" y1="518.8496" x2="211.2" y2="514.9807999999999" stroke="#111" stroke-width="1.0"/>
<line x1="209.0" y1="514.9807999999999" x2="213.39999999999998" y2="514.9807999999999" stroke="#111" stroke-width="1.1"/>
<path d="M208.65 526.4 V520.05 Q208.65 519.50 209.60 519.50 H212.80 Q213.75 519.50 213.75 520.05 V526.4" fill="#fff" stroke="#0a0a0a" stroke-width="1.3"/>
<line x1="219.2" y1="456.3248" x2="219.2" y2="439.664" stroke="#111" stroke-width="1.0"/>
<line x1="217.0" y1="439.664" x2="221.39999999999998" y2="439.664" stroke="#111" stroke-width="1.1"/>
<path d="M216.65 526.4 V457.52 Q216.65 456.97 217.60 456.97 H220.80 Q221.75 456.97 221.75 457.52 V526.4" fill="#707070" stroke="#0a0a0a" stroke-width="1.3"/>
<text transform="translate(172.7 534.6) rotate(-45)" font-size="7.9" font-weight="bold" text-anchor="end" fill="#000">control</text>
<text transform="translate(194.6 534.6) rotate(-45)" font-size="7.9" font-weight="bold" text-anchor="end" fill="#000">GRGDS</text>
<text transform="translate(216.5 534.6) rotate(-45)" font-size="7.9" font-weight="bold" text-anchor="end" fill="#000">GRGESP</text>
</svg></body></html>
